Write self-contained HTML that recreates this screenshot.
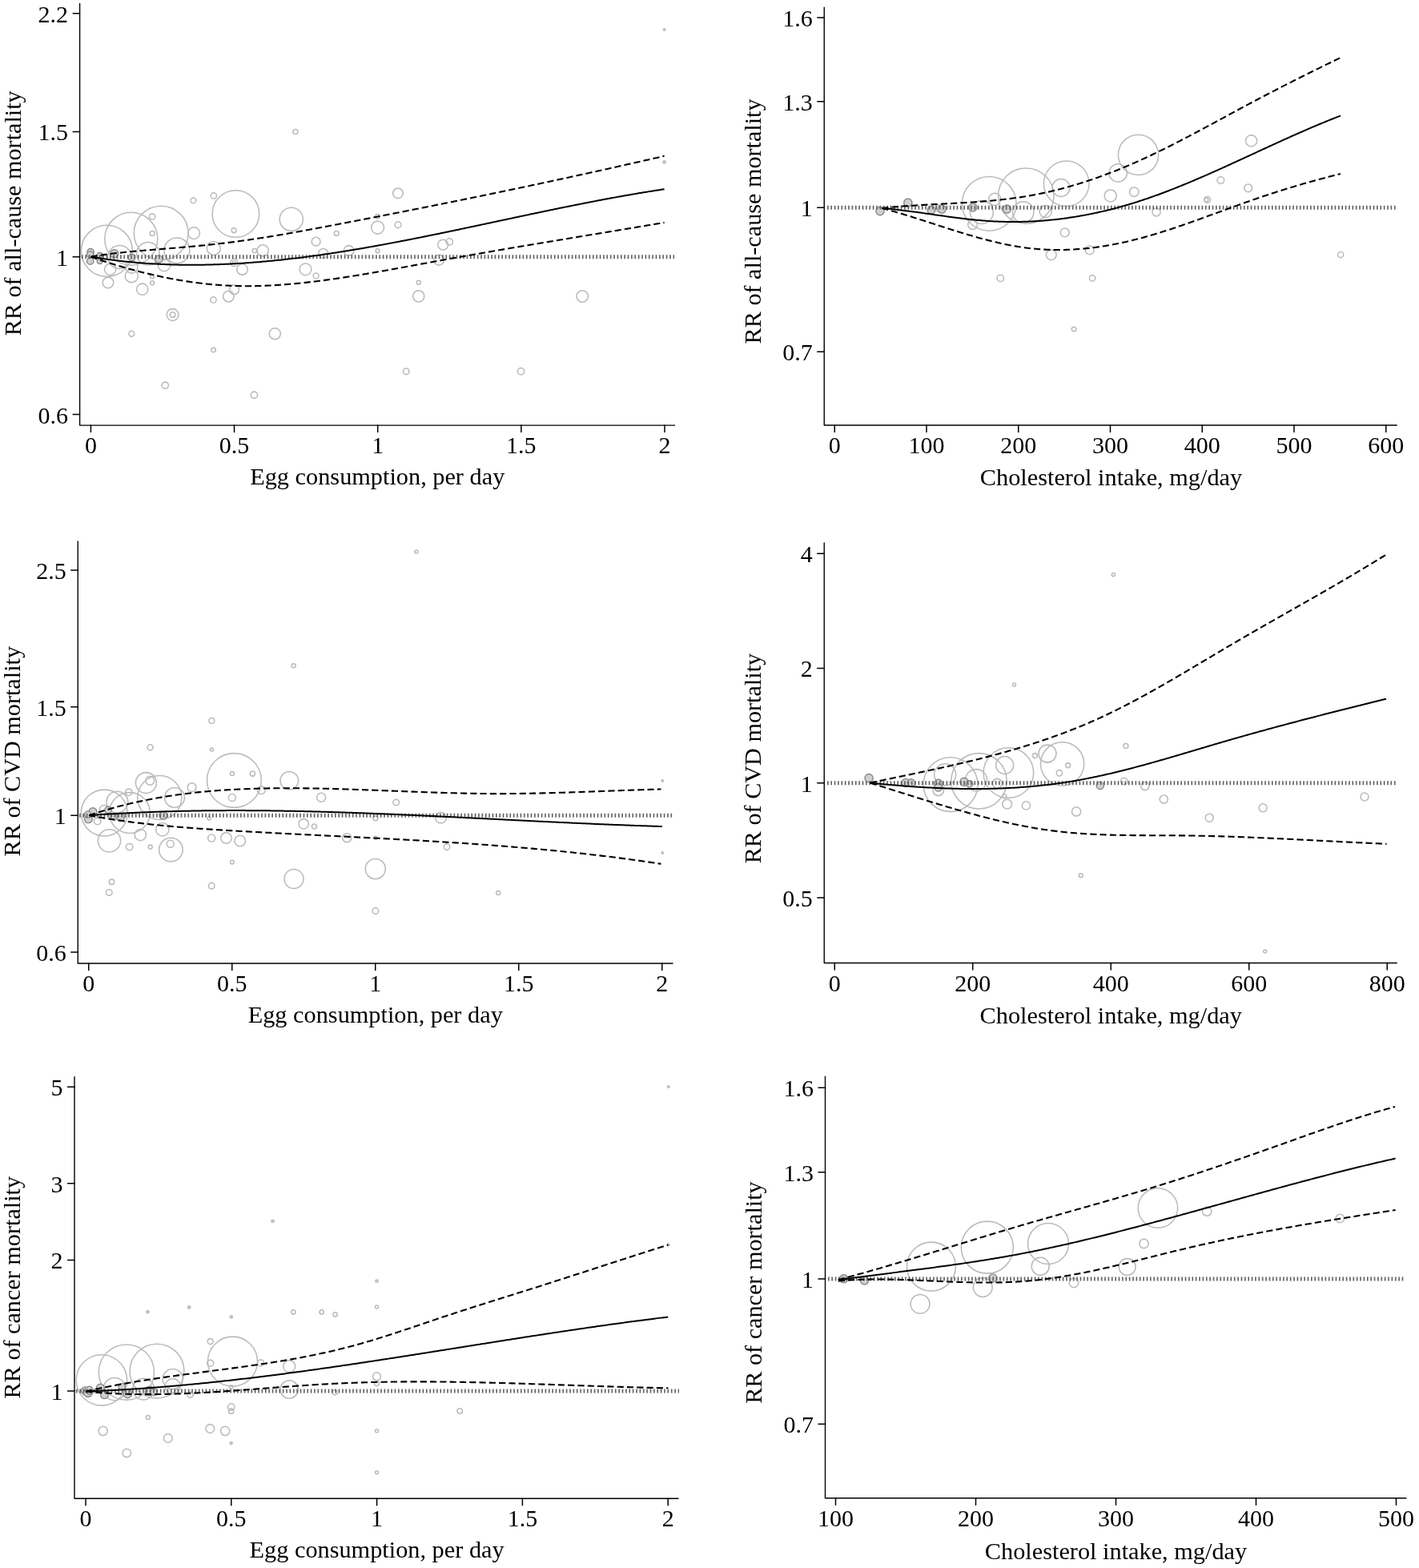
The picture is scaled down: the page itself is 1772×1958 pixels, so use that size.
<!DOCTYPE html><html><head><meta charset="utf-8"><style>html,body{margin:0;padding:0;background:#fff;overflow:hidden;}svg{display:block;}</style></head><body>
<svg width="1772" height="1958" viewBox="0 0 1772 1958">
<rect width="1772" height="1958" fill="#fff"/>
<g font-family="'Liberation Serif','Times New Roman',serif" font-size="30" fill="#000">
<g><circle cx="133.4" cy="313.3" r="32.0" fill="none" stroke="#bbbbbb" stroke-width="1.55"/><circle cx="163.8" cy="298.2" r="33.0" fill="none" stroke="#bbbbbb" stroke-width="1.55"/><circle cx="201.2" cy="291.1" r="33.9" fill="none" stroke="#bbbbbb" stroke-width="1.55"/><circle cx="294.4" cy="267.0" r="29.3" fill="none" stroke="#bbbbbb" stroke-width="1.55"/><circle cx="363.8" cy="273.8" r="14.6" fill="none" stroke="#bbbbbb" stroke-width="1.55"/><circle cx="242.2" cy="291.1" r="7.3" fill="none" stroke="#bbbbbb" stroke-width="1.55"/><circle cx="266.8" cy="244.4" r="3.7" fill="none" stroke="#bbbbbb" stroke-width="1.55"/><circle cx="241.4" cy="250.4" r="3.4" fill="none" stroke="#bbbbbb" stroke-width="1.55"/><circle cx="190.1" cy="270.4" r="3.7" fill="none" stroke="#bbbbbb" stroke-width="1.55"/><circle cx="190.1" cy="291.4" r="3.0" fill="none" stroke="#bbbbbb" stroke-width="1.55"/><circle cx="292.1" cy="287.7" r="2.9" fill="none" stroke="#bbbbbb" stroke-width="1.55"/><circle cx="220.9" cy="312.9" r="15.9" fill="none" stroke="#bbbbbb" stroke-width="1.55"/><circle cx="184.8" cy="316.8" r="14.2" fill="none" stroke="#bbbbbb" stroke-width="1.55"/><circle cx="149.3" cy="321.0" r="14.6" fill="none" stroke="#bbbbbb" stroke-width="1.55"/><circle cx="266.8" cy="309.9" r="8.5" fill="none" stroke="#bbbbbb" stroke-width="1.55"/><circle cx="328.2" cy="312.9" r="7.1" fill="none" stroke="#bbbbbb" stroke-width="1.55"/><circle cx="317.9" cy="313.1" r="2.7" fill="none" stroke="#bbbbbb" stroke-width="1.55"/><circle cx="394.6" cy="301.7" r="5.4" fill="none" stroke="#bbbbbb" stroke-width="1.55"/><circle cx="302.6" cy="336.3" r="6.8" fill="none" stroke="#bbbbbb" stroke-width="1.55"/><circle cx="381.5" cy="336.3" r="7.4" fill="none" stroke="#bbbbbb" stroke-width="1.55"/><circle cx="394.6" cy="344.4" r="3.4" fill="none" stroke="#bbbbbb" stroke-width="1.55"/><circle cx="292.3" cy="327.8" r="4.7" fill="none" stroke="#bbbbbb" stroke-width="1.55"/><circle cx="292.3" cy="327.8" r="2.2" fill="none" stroke="#bbbbbb" stroke-width="1.55"/><circle cx="135.0" cy="352.9" r="6.8" fill="none" stroke="#bbbbbb" stroke-width="1.55"/><circle cx="164.3" cy="344.7" r="8.0" fill="none" stroke="#bbbbbb" stroke-width="1.55"/><circle cx="137.6" cy="336.3" r="7.1" fill="none" stroke="#bbbbbb" stroke-width="1.55"/><circle cx="177.7" cy="361.2" r="7.1" fill="none" stroke="#bbbbbb" stroke-width="1.55"/><circle cx="190.1" cy="353.2" r="2.4" fill="none" stroke="#bbbbbb" stroke-width="1.55"/><circle cx="190.1" cy="345.3" r="2.4" fill="none" stroke="#bbbbbb" stroke-width="1.55"/><circle cx="285.4" cy="370.1" r="6.8" fill="none" stroke="#bbbbbb" stroke-width="1.55"/><circle cx="292.5" cy="361.7" r="5.9" fill="none" stroke="#bbbbbb" stroke-width="1.55"/><circle cx="266.4" cy="374.4" r="3.7" fill="none" stroke="#bbbbbb" stroke-width="1.55"/><circle cx="215.6" cy="393.0" r="7.4" fill="none" stroke="#bbbbbb" stroke-width="1.55"/><circle cx="215.6" cy="393.0" r="3.2" fill="none" stroke="#bbbbbb" stroke-width="1.55"/><circle cx="205.0" cy="331.2" r="7.6" fill="none" stroke="#bbbbbb" stroke-width="1.55"/><circle cx="164.3" cy="333.7" r="7.6" fill="none" stroke="#bbbbbb" stroke-width="1.55"/><circle cx="164.3" cy="416.7" r="3.4" fill="none" stroke="#bbbbbb" stroke-width="1.55"/><circle cx="343.3" cy="416.7" r="7.0" fill="none" stroke="#bbbbbb" stroke-width="1.55"/><circle cx="266.6" cy="437.0" r="2.7" fill="none" stroke="#bbbbbb" stroke-width="1.55"/><circle cx="206.3" cy="481.2" r="4.1" fill="none" stroke="#bbbbbb" stroke-width="1.55"/><circle cx="317.4" cy="493.2" r="4.1" fill="none" stroke="#bbbbbb" stroke-width="1.55"/><circle cx="369.0" cy="164.5" r="3.0" fill="none" stroke="#bbbbbb" stroke-width="1.55"/><circle cx="497.0" cy="241.3" r="6.3" fill="none" stroke="#bbbbbb" stroke-width="1.55"/><circle cx="471.6" cy="284.1" r="8.0" fill="none" stroke="#bbbbbb" stroke-width="1.55"/><circle cx="497.0" cy="280.7" r="3.9" fill="none" stroke="#bbbbbb" stroke-width="1.55"/><circle cx="420.3" cy="291.4" r="2.9" fill="none" stroke="#bbbbbb" stroke-width="1.55"/><circle cx="471.4" cy="270.2" r="2.7" fill="none" stroke="#bbbbbb" stroke-width="1.55"/><circle cx="435.6" cy="312.9" r="6.3" fill="none" stroke="#bbbbbb" stroke-width="1.55"/><circle cx="403.7" cy="316.3" r="5.9" fill="none" stroke="#bbbbbb" stroke-width="1.55"/><circle cx="471.6" cy="313.2" r="2.4" fill="none" stroke="#bbbbbb" stroke-width="1.55"/><circle cx="553.2" cy="305.6" r="6.4" fill="none" stroke="#bbbbbb" stroke-width="1.55"/><circle cx="561.3" cy="301.9" r="4.2" fill="none" stroke="#bbbbbb" stroke-width="1.55"/><circle cx="548.1" cy="324.7" r="6.4" fill="none" stroke="#bbbbbb" stroke-width="1.55"/><circle cx="522.7" cy="352.7" r="2.5" fill="none" stroke="#bbbbbb" stroke-width="1.55"/><circle cx="522.7" cy="369.9" r="7.1" fill="none" stroke="#bbbbbb" stroke-width="1.55"/><circle cx="507.2" cy="463.8" r="3.8" fill="none" stroke="#bbbbbb" stroke-width="1.55"/><circle cx="650.5" cy="463.8" r="4.2" fill="none" stroke="#bbbbbb" stroke-width="1.55"/><circle cx="727.2" cy="370.0" r="7.2" fill="none" stroke="#bbbbbb" stroke-width="1.55"/><circle cx="829.6" cy="202.5" r="1.8" fill="#c4c4c4" stroke="#bdbdbd" stroke-width="1.2"/><circle cx="829.6" cy="37.0" r="1.5" fill="#c4c4c4" stroke="#bdbdbd" stroke-width="1.2"/><circle cx="113.1" cy="314.7" r="4.2" fill="#d0d0d0" stroke="#888888" stroke-width="1.4"/><circle cx="112.7" cy="318.1" r="4.2" fill="#d0d0d0" stroke="#888888" stroke-width="1.4"/><circle cx="112.7" cy="326.1" r="4.2" fill="#d0d0d0" stroke="#888888" stroke-width="1.4"/><circle cx="124.6" cy="318.9" r="3.4" fill="#d0d0d0" stroke="#888888" stroke-width="1.4"/><circle cx="124.6" cy="326.1" r="3.4" fill="#d0d0d0" stroke="#888888" stroke-width="1.4"/><circle cx="142.8" cy="316.8" r="5.0" fill="#d0d0d0" stroke="#888888" stroke-width="1.4"/><circle cx="164.4" cy="321.5" r="4.2" fill="#d0d0d0" stroke="#888888" stroke-width="1.4"/><circle cx="198.2" cy="323.6" r="4.7" fill="#d0d0d0" stroke="#888888" stroke-width="1.4"/><line x1="102.0" y1="320.70" x2="842.0" y2="320.70" stroke="#5e5e5e" stroke-width="4.9" stroke-dasharray="1.6 2.77"/><path d="M113.4,320.66 L115.4,321.35 L117.4,322.03 L119.4,322.71 L121.4,323.39 L123.4,324.06 L125.4,324.72 L127.4,325.38 L129.4,326.03 L131.4,326.67 L133.4,327.31 L135.4,327.95 L137.4,328.58 L139.4,329.20 L141.4,329.82 L143.4,330.43 L145.4,331.04 L147.4,331.64 L149.4,332.23 L151.4,332.82 L153.4,333.41 L155.4,333.98 L157.4,334.55 L159.4,335.12 L161.4,335.68 L163.4,336.23 L165.4,336.77 L167.4,337.31 L169.4,337.85 L171.4,338.38 L173.4,338.90 L175.4,339.41 L177.4,339.92 L179.4,340.42 L181.4,340.91 L183.4,341.40 L185.4,341.88 L187.4,342.36 L189.4,342.83 L191.4,343.29 L193.4,343.74 L195.4,344.19 L197.4,344.63 L199.4,345.07 L201.4,345.49 L203.4,345.91 L205.4,346.33 L207.4,346.73 L209.4,347.13 L211.4,347.53 L213.4,347.91 L215.4,348.29 L217.4,348.66 L219.4,349.02 L221.4,349.38 L223.4,349.72 L225.4,350.07 L227.4,350.40 L229.4,350.73 L231.4,351.04 L233.4,351.35 L235.4,351.66 L237.4,351.95 L239.4,352.24 L241.4,352.52 L243.4,352.79 L245.4,353.06 L247.4,353.31 L249.4,353.56 L251.4,353.80 L253.4,354.04 L255.4,354.26 L257.4,354.48 L259.4,354.69 L261.4,354.89 L263.4,355.08 L265.4,355.26 L267.4,355.44 L269.4,355.61 L271.4,355.77 L273.4,355.92 L275.4,356.06 L277.4,356.19 L279.4,356.32 L281.4,356.44 L283.4,356.54 L285.4,356.64 L287.4,356.73 L289.4,356.82 L291.4,356.89 L293.4,356.96 L295.4,357.01 L297.4,357.06 L299.4,357.10 L301.4,357.14 L303.4,357.16 L305.4,357.18 L307.4,357.19 L309.4,357.19 L311.4,357.18 L313.4,357.17 L315.4,357.15 L317.4,357.12 L319.4,357.09 L321.4,357.04 L323.4,356.99 L325.4,356.94 L327.4,356.87 L329.4,356.80 L331.4,356.73 L333.4,356.64 L335.4,356.55 L337.4,356.45 L339.4,356.35 L341.4,356.24 L343.4,356.12 L345.4,356.00 L347.4,355.87 L349.4,355.74 L351.4,355.60 L353.4,355.45 L355.4,355.30 L357.4,355.14 L359.4,354.98 L361.4,354.81 L363.4,354.64 L365.4,354.46 L367.4,354.28 L369.4,354.09 L371.4,353.89 L373.4,353.69 L375.4,353.49 L377.4,353.28 L379.4,353.06 L381.4,352.85 L383.4,352.62 L385.4,352.40 L387.4,352.16 L389.4,351.93 L391.4,351.69 L393.4,351.44 L395.4,351.19 L397.4,350.94 L399.4,350.69 L401.4,350.43 L403.4,350.16 L405.4,349.89 L407.4,349.62 L409.4,349.35 L411.4,349.07 L413.4,348.79 L415.4,348.51 L417.4,348.22 L419.4,347.93 L421.4,347.64 L423.4,347.34 L425.4,347.04 L427.4,346.74 L429.4,346.44 L431.4,346.13 L433.4,345.82 L435.4,345.51 L437.4,345.20 L439.4,344.88 L441.4,344.56 L443.4,344.24 L445.4,343.92 L447.4,343.59 L449.4,343.26 L451.4,342.93 L453.4,342.60 L455.4,342.27 L457.4,341.93 L459.4,341.59 L461.4,341.25 L463.4,340.91 L465.4,340.57 L467.4,340.23 L469.4,339.88 L471.4,339.53 L473.4,339.18 L475.4,338.83 L477.4,338.48 L479.4,338.13 L481.4,337.77 L483.4,337.42 L485.4,337.06 L487.4,336.70 L489.4,336.34 L491.4,335.98 L493.4,335.62 L495.4,335.26 L497.4,334.90 L499.4,334.53 L501.4,334.17 L503.4,333.81 L505.4,333.44 L507.4,333.07 L509.4,332.71 L511.4,332.34 L513.4,331.97 L515.4,331.61 L517.4,331.24 L519.4,330.87 L521.4,330.50 L523.4,330.13 L525.4,329.77 L527.4,329.40 L529.4,329.03 L531.4,328.66 L533.4,328.29 L535.4,327.92 L537.4,327.56 L539.4,327.19 L541.4,326.82 L543.4,326.46 L545.4,326.09 L547.4,325.72 L549.4,325.36 L551.4,325.00 L553.4,324.63 L555.4,324.27 L557.4,323.91 L559.4,323.55 L561.4,323.18 L563.4,322.82 L565.4,322.47 L567.4,322.11 L569.4,321.75 L571.4,321.39 L573.4,321.03 L575.4,320.68 L577.4,320.32 L579.4,319.97 L581.4,319.61 L583.4,319.26 L585.4,318.91 L587.4,318.55 L589.4,318.20 L591.4,317.85 L593.4,317.50 L595.4,317.15 L597.4,316.80 L599.4,316.45 L601.4,316.10 L603.4,315.76 L605.4,315.41 L607.4,315.06 L609.4,314.71 L611.4,314.37 L613.4,314.02 L615.4,313.68 L617.4,313.33 L619.4,312.99 L621.4,312.65 L623.4,312.30 L625.4,311.96 L627.4,311.62 L629.4,311.28 L631.4,310.94 L633.4,310.59 L635.4,310.25 L637.4,309.91 L639.4,309.57 L641.4,309.23 L643.4,308.90 L645.4,308.56 L647.4,308.22 L649.4,307.88 L651.4,307.54 L653.4,307.21 L655.4,306.87 L657.4,306.53 L659.4,306.20 L661.4,305.86 L663.4,305.52 L665.4,305.19 L667.4,304.85 L669.4,304.52 L671.4,304.18 L673.4,303.85 L675.4,303.52 L677.4,303.18 L679.4,302.85 L681.4,302.51 L683.4,302.18 L685.4,301.85 L687.4,301.52 L689.4,301.18 L691.4,300.85 L693.4,300.52 L695.4,300.19 L697.4,299.85 L699.4,299.52 L701.4,299.19 L703.4,298.86 L705.4,298.53 L707.4,298.20 L709.4,297.87 L711.4,297.54 L713.4,297.20 L715.4,296.87 L717.4,296.54 L719.4,296.21 L721.4,295.88 L723.4,295.55 L725.4,295.22 L727.4,294.89 L729.4,294.56 L731.4,294.23 L733.4,293.90 L735.4,293.57 L737.4,293.24 L739.4,292.91 L741.4,292.58 L743.4,292.25 L745.4,291.92 L747.4,291.59 L749.4,291.26 L751.4,290.93 L753.4,290.60 L755.4,290.27 L757.4,289.94 L759.4,289.61 L761.4,289.28 L763.4,288.95 L765.4,288.62 L767.4,288.28 L769.4,287.95 L771.4,287.62 L773.4,287.29 L775.4,286.96 L777.4,286.63 L779.4,286.30 L781.4,285.96 L783.4,285.63 L785.4,285.30 L787.4,284.97 L789.4,284.64 L791.4,284.30 L793.4,283.97 L795.4,283.64 L797.4,283.30 L799.4,282.97 L801.4,282.64 L803.4,282.30 L805.4,281.97 L807.4,281.63 L809.4,281.30 L811.4,280.96 L813.4,280.63 L815.4,280.29 L817.4,279.96 L819.4,279.62 L821.4,279.28 L823.4,278.95 L825.4,278.61 L827.4,278.27 L829.4,277.93 L829.6,277.90" fill="none" stroke="#000" stroke-width="2.1" stroke-dasharray="8.2 4.1"/><path d="M113.4,320.67 L115.4,320.32 L117.4,319.99 L119.4,319.66 L121.4,319.34 L123.4,319.03 L125.4,318.73 L127.4,318.44 L129.4,318.15 L131.4,317.87 L133.4,317.60 L135.4,317.33 L137.4,317.07 L139.4,316.82 L141.4,316.57 L143.4,316.33 L145.4,316.10 L147.4,315.87 L149.4,315.65 L151.4,315.43 L153.4,315.21 L155.4,315.00 L157.4,314.80 L159.4,314.60 L161.4,314.40 L163.4,314.21 L165.4,314.02 L167.4,313.84 L169.4,313.66 L171.4,313.48 L173.4,313.30 L175.4,313.13 L177.4,312.95 L179.4,312.78 L181.4,312.62 L183.4,312.45 L185.4,312.29 L187.4,312.12 L189.4,311.96 L191.4,311.80 L193.4,311.64 L195.4,311.48 L197.4,311.32 L199.4,311.16 L201.4,311.00 L203.4,310.83 L205.4,310.67 L207.4,310.51 L209.4,310.35 L211.4,310.18 L213.4,310.02 L215.4,309.85 L217.4,309.69 L219.4,309.52 L221.4,309.35 L223.4,309.18 L225.4,309.01 L227.4,308.84 L229.4,308.66 L231.4,308.49 L233.4,308.31 L235.4,308.13 L237.4,307.95 L239.4,307.77 L241.4,307.58 L243.4,307.40 L245.4,307.21 L247.4,307.02 L249.4,306.83 L251.4,306.63 L253.4,306.43 L255.4,306.23 L257.4,306.03 L259.4,305.83 L261.4,305.62 L263.4,305.41 L265.4,305.20 L267.4,304.98 L269.4,304.76 L271.4,304.54 L273.4,304.31 L275.4,304.08 L277.4,303.85 L279.4,303.62 L281.4,303.38 L283.4,303.14 L285.4,302.89 L287.4,302.64 L289.4,302.39 L291.4,302.13 L293.4,301.87 L295.4,301.61 L297.4,301.34 L299.4,301.07 L301.4,300.79 L303.4,300.52 L305.4,300.24 L307.4,299.95 L309.4,299.67 L311.4,299.38 L313.4,299.08 L315.4,298.79 L317.4,298.49 L319.4,298.19 L321.4,297.88 L323.4,297.57 L325.4,297.26 L327.4,296.95 L329.4,296.64 L331.4,296.32 L333.4,296.00 L335.4,295.68 L337.4,295.35 L339.4,295.02 L341.4,294.69 L343.4,294.36 L345.4,294.03 L347.4,293.69 L349.4,293.35 L351.4,293.01 L353.4,292.67 L355.4,292.32 L357.4,291.97 L359.4,291.63 L361.4,291.28 L363.4,290.92 L365.4,290.57 L367.4,290.21 L369.4,289.86 L371.4,289.50 L373.4,289.14 L375.4,288.78 L377.4,288.41 L379.4,288.05 L381.4,287.68 L383.4,287.31 L385.4,286.95 L387.4,286.58 L389.4,286.21 L391.4,285.83 L393.4,285.46 L395.4,285.09 L397.4,284.71 L399.4,284.34 L401.4,283.96 L403.4,283.58 L405.4,283.21 L407.4,282.83 L409.4,282.45 L411.4,282.07 L413.4,281.69 L415.4,281.31 L417.4,280.93 L419.4,280.55 L421.4,280.16 L423.4,279.78 L425.4,279.40 L427.4,279.02 L429.4,278.63 L431.4,278.25 L433.4,277.87 L435.4,277.48 L437.4,277.10 L439.4,276.71 L441.4,276.33 L443.4,275.95 L445.4,275.56 L447.4,275.17 L449.4,274.79 L451.4,274.40 L453.4,274.02 L455.4,273.63 L457.4,273.24 L459.4,272.85 L461.4,272.47 L463.4,272.08 L465.4,271.69 L467.4,271.30 L469.4,270.91 L471.4,270.52 L473.4,270.13 L475.4,269.74 L477.4,269.35 L479.4,268.96 L481.4,268.57 L483.4,268.18 L485.4,267.79 L487.4,267.40 L489.4,267.01 L491.4,266.62 L493.4,266.22 L495.4,265.83 L497.4,265.44 L499.4,265.04 L501.4,264.65 L503.4,264.25 L505.4,263.86 L507.4,263.46 L509.4,263.07 L511.4,262.67 L513.4,262.28 L515.4,261.88 L517.4,261.48 L519.4,261.09 L521.4,260.69 L523.4,260.29 L525.4,259.90 L527.4,259.50 L529.4,259.10 L531.4,258.70 L533.4,258.30 L535.4,257.90 L537.4,257.50 L539.4,257.10 L541.4,256.70 L543.4,256.30 L545.4,255.90 L547.4,255.50 L549.4,255.09 L551.4,254.69 L553.4,254.29 L555.4,253.88 L557.4,253.48 L559.4,253.08 L561.4,252.67 L563.4,252.27 L565.4,251.86 L567.4,251.46 L569.4,251.05 L571.4,250.65 L573.4,250.24 L575.4,249.83 L577.4,249.43 L579.4,249.02 L581.4,248.61 L583.4,248.20 L585.4,247.79 L587.4,247.39 L589.4,246.98 L591.4,246.57 L593.4,246.16 L595.4,245.75 L597.4,245.33 L599.4,244.92 L601.4,244.51 L603.4,244.10 L605.4,243.69 L607.4,243.27 L609.4,242.86 L611.4,242.45 L613.4,242.03 L615.4,241.62 L617.4,241.21 L619.4,240.79 L621.4,240.38 L623.4,239.96 L625.4,239.54 L627.4,239.13 L629.4,238.71 L631.4,238.29 L633.4,237.87 L635.4,237.46 L637.4,237.04 L639.4,236.62 L641.4,236.20 L643.4,235.78 L645.4,235.36 L647.4,234.94 L649.4,234.52 L651.4,234.10 L653.4,233.67 L655.4,233.25 L657.4,232.83 L659.4,232.41 L661.4,231.98 L663.4,231.56 L665.4,231.14 L667.4,230.71 L669.4,230.29 L671.4,229.86 L673.4,229.43 L675.4,229.01 L677.4,228.58 L679.4,228.15 L681.4,227.73 L683.4,227.30 L685.4,226.87 L687.4,226.44 L689.4,226.01 L691.4,225.58 L693.4,225.15 L695.4,224.72 L697.4,224.29 L699.4,223.86 L701.4,223.43 L703.4,222.99 L705.4,222.56 L707.4,222.13 L709.4,221.69 L711.4,221.26 L713.4,220.83 L715.4,220.39 L717.4,219.96 L719.4,219.52 L721.4,219.08 L723.4,218.65 L725.4,218.21 L727.4,217.77 L729.4,217.33 L731.4,216.90 L733.4,216.46 L735.4,216.02 L737.4,215.58 L739.4,215.14 L741.4,214.70 L743.4,214.26 L745.4,213.81 L747.4,213.37 L749.4,212.93 L751.4,212.49 L753.4,212.04 L755.4,211.60 L757.4,211.16 L759.4,210.71 L761.4,210.26 L763.4,209.82 L765.4,209.37 L767.4,208.93 L769.4,208.48 L771.4,208.03 L773.4,207.58 L775.4,207.13 L777.4,206.69 L779.4,206.24 L781.4,205.79 L783.4,205.34 L785.4,204.88 L787.4,204.43 L789.4,203.98 L791.4,203.53 L793.4,203.08 L795.4,202.62 L797.4,202.17 L799.4,201.71 L801.4,201.26 L803.4,200.80 L805.4,200.35 L807.4,199.89 L809.4,199.44 L811.4,198.98 L813.4,198.52 L815.4,198.06 L817.4,197.60 L819.4,197.15 L821.4,196.69 L823.4,196.23 L825.4,195.76 L827.4,195.30 L829.4,194.84 L829.6,194.80" fill="none" stroke="#000" stroke-width="2.1" stroke-dasharray="8.2 4.1"/><path d="M113.4,320.71 L115.4,321.05 L117.4,321.37 L119.4,321.69 L121.4,322.00 L123.4,322.31 L125.4,322.61 L127.4,322.91 L129.4,323.20 L131.4,323.48 L133.4,323.76 L135.4,324.03 L137.4,324.30 L139.4,324.56 L141.4,324.82 L143.4,325.07 L145.4,325.31 L147.4,325.55 L149.4,325.78 L151.4,326.01 L153.4,326.23 L155.4,326.44 L157.4,326.65 L159.4,326.86 L161.4,327.06 L163.4,327.25 L165.4,327.44 L167.4,327.62 L169.4,327.80 L171.4,327.97 L173.4,328.14 L175.4,328.30 L177.4,328.45 L179.4,328.60 L181.4,328.75 L183.4,328.89 L185.4,329.02 L187.4,329.15 L189.4,329.28 L191.4,329.40 L193.4,329.51 L195.4,329.62 L197.4,329.72 L199.4,329.82 L201.4,329.92 L203.4,330.01 L205.4,330.09 L207.4,330.17 L209.4,330.24 L211.4,330.31 L213.4,330.38 L215.4,330.44 L217.4,330.49 L219.4,330.54 L221.4,330.59 L223.4,330.63 L225.4,330.66 L227.4,330.69 L229.4,330.72 L231.4,330.74 L233.4,330.76 L235.4,330.77 L237.4,330.78 L239.4,330.78 L241.4,330.78 L243.4,330.78 L245.4,330.77 L247.4,330.75 L249.4,330.73 L251.4,330.71 L253.4,330.68 L255.4,330.65 L257.4,330.61 L259.4,330.57 L261.4,330.53 L263.4,330.48 L265.4,330.42 L267.4,330.36 L269.4,330.30 L271.4,330.24 L273.4,330.17 L275.4,330.09 L277.4,330.01 L279.4,329.93 L281.4,329.84 L283.4,329.75 L285.4,329.66 L287.4,329.56 L289.4,329.46 L291.4,329.35 L293.4,329.24 L295.4,329.12 L297.4,329.01 L299.4,328.88 L301.4,328.76 L303.4,328.63 L305.4,328.50 L307.4,328.36 L309.4,328.22 L311.4,328.07 L313.4,327.92 L315.4,327.77 L317.4,327.62 L319.4,327.46 L321.4,327.30 L323.4,327.13 L325.4,326.96 L327.4,326.79 L329.4,326.61 L331.4,326.43 L333.4,326.25 L335.4,326.06 L337.4,325.87 L339.4,325.68 L341.4,325.48 L343.4,325.28 L345.4,325.07 L347.4,324.87 L349.4,324.66 L351.4,324.44 L353.4,324.23 L355.4,324.01 L357.4,323.79 L359.4,323.56 L361.4,323.33 L363.4,323.10 L365.4,322.86 L367.4,322.63 L369.4,322.39 L371.4,322.14 L373.4,321.89 L375.4,321.65 L377.4,321.39 L379.4,321.14 L381.4,320.88 L383.4,320.62 L385.4,320.35 L387.4,320.09 L389.4,319.82 L391.4,319.55 L393.4,319.27 L395.4,318.99 L397.4,318.71 L399.4,318.43 L401.4,318.14 L403.4,317.86 L405.4,317.57 L407.4,317.27 L409.4,316.98 L411.4,316.68 L413.4,316.38 L415.4,316.08 L417.4,315.77 L419.4,315.46 L421.4,315.15 L423.4,314.84 L425.4,314.53 L427.4,314.21 L429.4,313.89 L431.4,313.57 L433.4,313.25 L435.4,312.92 L437.4,312.59 L439.4,312.26 L441.4,311.93 L443.4,311.60 L445.4,311.26 L447.4,310.92 L449.4,310.58 L451.4,310.24 L453.4,309.89 L455.4,309.55 L457.4,309.20 L459.4,308.85 L461.4,308.50 L463.4,308.14 L465.4,307.79 L467.4,307.43 L469.4,307.07 L471.4,306.71 L473.4,306.34 L475.4,305.98 L477.4,305.61 L479.4,305.25 L481.4,304.88 L483.4,304.50 L485.4,304.13 L487.4,303.76 L489.4,303.38 L491.4,303.00 L493.4,302.62 L495.4,302.24 L497.4,301.86 L499.4,301.48 L501.4,301.09 L503.4,300.71 L505.4,300.32 L507.4,299.93 L509.4,299.54 L511.4,299.15 L513.4,298.75 L515.4,298.36 L517.4,297.96 L519.4,297.57 L521.4,297.17 L523.4,296.77 L525.4,296.37 L527.4,295.97 L529.4,295.57 L531.4,295.16 L533.4,294.76 L535.4,294.35 L537.4,293.95 L539.4,293.54 L541.4,293.13 L543.4,292.72 L545.4,292.31 L547.4,291.90 L549.4,291.49 L551.4,291.08 L553.4,290.66 L555.4,290.25 L557.4,289.83 L559.4,289.42 L561.4,289.00 L563.4,288.58 L565.4,288.16 L567.4,287.75 L569.4,287.33 L571.4,286.91 L573.4,286.49 L575.4,286.07 L577.4,285.64 L579.4,285.22 L581.4,284.80 L583.4,284.38 L585.4,283.95 L587.4,283.53 L589.4,283.10 L591.4,282.68 L593.4,282.25 L595.4,281.83 L597.4,281.40 L599.4,280.98 L601.4,280.55 L603.4,280.13 L605.4,279.70 L607.4,279.27 L609.4,278.85 L611.4,278.42 L613.4,277.99 L615.4,277.56 L617.4,277.14 L619.4,276.71 L621.4,276.28 L623.4,275.85 L625.4,275.43 L627.4,275.00 L629.4,274.57 L631.4,274.15 L633.4,273.72 L635.4,273.29 L637.4,272.87 L639.4,272.44 L641.4,272.01 L643.4,271.59 L645.4,271.16 L647.4,270.74 L649.4,270.31 L651.4,269.89 L653.4,269.46 L655.4,269.04 L657.4,268.61 L659.4,268.19 L661.4,267.77 L663.4,267.35 L665.4,266.92 L667.4,266.50 L669.4,266.08 L671.4,265.66 L673.4,265.24 L675.4,264.82 L677.4,264.40 L679.4,263.99 L681.4,263.57 L683.4,263.15 L685.4,262.74 L687.4,262.32 L689.4,261.91 L691.4,261.50 L693.4,261.08 L695.4,260.67 L697.4,260.26 L699.4,259.85 L701.4,259.44 L703.4,259.04 L705.4,258.63 L707.4,258.22 L709.4,257.82 L711.4,257.41 L713.4,257.01 L715.4,256.61 L717.4,256.21 L719.4,255.81 L721.4,255.41 L723.4,255.01 L725.4,254.62 L727.4,254.22 L729.4,253.83 L731.4,253.44 L733.4,253.05 L735.4,252.66 L737.4,252.27 L739.4,251.88 L741.4,251.50 L743.4,251.11 L745.4,250.73 L747.4,250.35 L749.4,249.97 L751.4,249.59 L753.4,249.21 L755.4,248.84 L757.4,248.46 L759.4,248.09 L761.4,247.72 L763.4,247.35 L765.4,246.98 L767.4,246.62 L769.4,246.26 L771.4,245.89 L773.4,245.53 L775.4,245.17 L777.4,244.82 L779.4,244.46 L781.4,244.11 L783.4,243.76 L785.4,243.41 L787.4,243.06 L789.4,242.72 L791.4,242.37 L793.4,242.03 L795.4,241.69 L797.4,241.36 L799.4,241.02 L801.4,240.69 L803.4,240.36 L805.4,240.03 L807.4,239.70 L809.4,239.38 L811.4,239.05 L813.4,238.73 L815.4,238.42 L817.4,238.10 L819.4,237.79 L821.4,237.48 L823.4,237.17 L825.4,236.86 L827.4,236.56 L829.4,236.26 L829.6,236.23" fill="none" stroke="#000" stroke-width="2.0"/><path d="M99.60,4.00 V531.10 H843.00" fill="none" stroke="#000" stroke-width="1.4" stroke-linejoin="round"/><line x1="91.10" y1="517.57" x2="99.60" y2="517.57" stroke="#000" stroke-width="1.5" stroke-linecap="round"/><text x="85.10" y="528.57" text-anchor="end">0.6</text><line x1="91.10" y1="320.70" x2="99.60" y2="320.70" stroke="#000" stroke-width="1.5" stroke-linecap="round"/><text x="85.10" y="331.70" text-anchor="end">1</text><line x1="91.10" y1="164.43" x2="99.60" y2="164.43" stroke="#000" stroke-width="1.5" stroke-linecap="round"/><text x="85.10" y="175.43" text-anchor="end">1.5</text><line x1="91.10" y1="16.83" x2="99.60" y2="16.83" stroke="#000" stroke-width="1.5" stroke-linecap="round"/><text x="85.10" y="27.83" text-anchor="end">2.2</text><line x1="113.40" y1="531.10" x2="113.40" y2="539.60" stroke="#000" stroke-width="1.5" stroke-linecap="round"/><text x="113.40" y="566.10" text-anchor="middle">0</text><line x1="292.55" y1="531.10" x2="292.55" y2="539.60" stroke="#000" stroke-width="1.5" stroke-linecap="round"/><text x="292.55" y="566.10" text-anchor="middle">0.5</text><line x1="471.70" y1="531.10" x2="471.70" y2="539.60" stroke="#000" stroke-width="1.5" stroke-linecap="round"/><text x="471.70" y="566.10" text-anchor="middle">1</text><line x1="650.85" y1="531.10" x2="650.85" y2="539.60" stroke="#000" stroke-width="1.5" stroke-linecap="round"/><text x="650.85" y="566.10" text-anchor="middle">1.5</text><line x1="830.00" y1="531.10" x2="830.00" y2="539.60" stroke="#000" stroke-width="1.5" stroke-linecap="round"/><text x="830.00" y="566.10" text-anchor="middle">2</text><text x="471.25" y="605.00" text-anchor="middle" font-size="30.3">Egg consumption, per day</text><text transform="translate(26.00,266.30) rotate(-90)" text-anchor="middle" font-size="30.2">RR of all-cause mortality</text></g>
<g><circle cx="1235.2" cy="254.3" r="33.9" fill="none" stroke="#bbbbbb" stroke-width="1.55"/><circle cx="1281.3" cy="244.6" r="34.7" fill="none" stroke="#bbbbbb" stroke-width="1.55"/><circle cx="1331.7" cy="229.2" r="28.3" fill="none" stroke="#bbbbbb" stroke-width="1.55"/><circle cx="1325.0" cy="234.5" r="11.0" fill="none" stroke="#bbbbbb" stroke-width="1.55"/><circle cx="1242.2" cy="248.9" r="7.6" fill="none" stroke="#bbbbbb" stroke-width="1.55"/><circle cx="1225.9" cy="265.0" r="14.4" fill="none" stroke="#bbbbbb" stroke-width="1.55"/><circle cx="1214.6" cy="280.5" r="5.9" fill="none" stroke="#bbbbbb" stroke-width="1.55"/><circle cx="1277.7" cy="265.0" r="13.2" fill="none" stroke="#bbbbbb" stroke-width="1.55"/><circle cx="1305.7" cy="264.1" r="7.6" fill="none" stroke="#bbbbbb" stroke-width="1.55"/><circle cx="1329.7" cy="290.4" r="5.4" fill="none" stroke="#bbbbbb" stroke-width="1.55"/><circle cx="1312.8" cy="318.3" r="6.4" fill="none" stroke="#bbbbbb" stroke-width="1.55"/><circle cx="1360.7" cy="312.4" r="5.4" fill="none" stroke="#bbbbbb" stroke-width="1.55"/><circle cx="1249.3" cy="347.4" r="4.2" fill="none" stroke="#bbbbbb" stroke-width="1.55"/><circle cx="1364.1" cy="347.4" r="3.7" fill="none" stroke="#bbbbbb" stroke-width="1.55"/><circle cx="1172.0" cy="260.0" r="4.0" fill="none" stroke="#bbbbbb" stroke-width="1.55"/><circle cx="1421.5" cy="193.4" r="25.1" fill="none" stroke="#bbbbbb" stroke-width="1.55"/><circle cx="1396.2" cy="215.9" r="11.2" fill="none" stroke="#bbbbbb" stroke-width="1.55"/><circle cx="1386.7" cy="244.4" r="7.5" fill="none" stroke="#bbbbbb" stroke-width="1.55"/><circle cx="1416.3" cy="239.7" r="5.8" fill="none" stroke="#bbbbbb" stroke-width="1.55"/><circle cx="1444.0" cy="264.8" r="5.1" fill="none" stroke="#bbbbbb" stroke-width="1.55"/><circle cx="1562.6" cy="175.8" r="7.1" fill="none" stroke="#bbbbbb" stroke-width="1.55"/><circle cx="1524.4" cy="225.1" r="4.3" fill="none" stroke="#bbbbbb" stroke-width="1.55"/><circle cx="1558.7" cy="234.8" r="4.9" fill="none" stroke="#bbbbbb" stroke-width="1.55"/><circle cx="1507.7" cy="249.4" r="3.9" fill="none" stroke="#bbbbbb" stroke-width="1.55"/><circle cx="1506.5" cy="249.4" r="2.5" fill="none" stroke="#bbbbbb" stroke-width="1.55"/><circle cx="1674.1" cy="318.0" r="3.6" fill="none" stroke="#bbbbbb" stroke-width="1.55"/><circle cx="1341.1" cy="411.0" r="2.8" fill="none" stroke="#bbbbbb" stroke-width="1.55"/><circle cx="1099.0" cy="263.6" r="5.1" fill="#d0d0d0" stroke="#888888" stroke-width="1.4"/><circle cx="1133.8" cy="253.1" r="5.1" fill="#d0d0d0" stroke="#888888" stroke-width="1.4"/><circle cx="1163.0" cy="262.4" r="4.7" fill="#d0d0d0" stroke="#888888" stroke-width="1.4"/><circle cx="1176.2" cy="261.2" r="5.1" fill="#d0d0d0" stroke="#888888" stroke-width="1.4"/><circle cx="1214.9" cy="259.0" r="5.1" fill="#d0d0d0" stroke="#888888" stroke-width="1.4"/><circle cx="1257.4" cy="261.1" r="5.1" fill="#d0d0d0" stroke="#888888" stroke-width="1.4"/><line x1="1033.0" y1="259.25" x2="1743.0" y2="259.25" stroke="#5e5e5e" stroke-width="4.9" stroke-dasharray="1.6 2.77"/><path d="M1101.2,259.89 L1103.2,260.42 L1105.2,260.96 L1107.2,261.50 L1109.2,262.06 L1111.2,262.61 L1113.2,263.18 L1115.2,263.75 L1117.2,264.33 L1119.2,264.91 L1121.2,265.50 L1123.2,266.09 L1125.2,266.69 L1127.2,267.30 L1129.2,267.90 L1131.2,268.51 L1133.2,269.13 L1135.2,269.75 L1137.2,270.37 L1139.2,271.00 L1141.2,271.63 L1143.2,272.26 L1145.2,272.90 L1147.2,273.53 L1149.2,274.17 L1151.2,274.81 L1153.2,275.45 L1155.2,276.10 L1157.2,276.74 L1159.2,277.39 L1161.2,278.04 L1163.2,278.69 L1165.2,279.33 L1167.2,279.98 L1169.2,280.63 L1171.2,281.28 L1173.2,281.92 L1175.2,282.57 L1177.2,283.21 L1179.2,283.86 L1181.2,284.50 L1183.2,285.14 L1185.2,285.77 L1187.2,286.41 L1189.2,287.04 L1191.2,287.67 L1193.2,288.30 L1195.2,288.92 L1197.2,289.54 L1199.2,290.16 L1201.2,290.77 L1203.2,291.38 L1205.2,291.99 L1207.2,292.59 L1209.2,293.18 L1211.2,293.77 L1213.2,294.36 L1215.2,294.94 L1217.2,295.51 L1219.2,296.08 L1221.2,296.64 L1223.2,297.19 L1225.2,297.74 L1227.2,298.28 L1229.2,298.82 L1231.2,299.34 L1233.2,299.86 L1235.2,300.37 L1237.2,300.88 L1239.2,301.37 L1241.2,301.86 L1243.2,302.34 L1245.2,302.81 L1247.2,303.27 L1249.2,303.72 L1251.2,304.16 L1253.2,304.59 L1255.2,305.01 L1257.2,305.42 L1259.2,305.82 L1261.2,306.20 L1263.2,306.58 L1265.2,306.95 L1267.2,307.30 L1269.2,307.64 L1271.2,307.98 L1273.2,308.29 L1275.2,308.60 L1277.2,308.89 L1279.2,309.17 L1281.2,309.44 L1283.2,309.70 L1285.2,309.94 L1287.2,310.16 L1289.2,310.38 L1291.2,310.58 L1293.2,310.76 L1295.2,310.94 L1297.2,311.10 L1299.2,311.24 L1301.2,311.38 L1303.2,311.50 L1305.2,311.61 L1307.2,311.70 L1309.2,311.78 L1311.2,311.85 L1313.2,311.91 L1315.2,311.96 L1317.2,311.99 L1319.2,312.01 L1321.2,312.02 L1323.2,312.01 L1325.2,312.00 L1327.2,311.97 L1329.2,311.93 L1331.2,311.87 L1333.2,311.81 L1335.2,311.73 L1337.2,311.64 L1339.2,311.54 L1341.2,311.43 L1343.2,311.31 L1345.2,311.17 L1347.2,311.03 L1349.2,310.87 L1351.2,310.70 L1353.2,310.52 L1355.2,310.33 L1357.2,310.13 L1359.2,309.92 L1361.2,309.69 L1363.2,309.46 L1365.2,309.21 L1367.2,308.96 L1369.2,308.69 L1371.2,308.41 L1373.2,308.13 L1375.2,307.83 L1377.2,307.52 L1379.2,307.20 L1381.2,306.87 L1383.2,306.53 L1385.2,306.18 L1387.2,305.83 L1389.2,305.46 L1391.2,305.08 L1393.2,304.69 L1395.2,304.29 L1397.2,303.88 L1399.2,303.47 L1401.2,303.04 L1403.2,302.60 L1405.2,302.16 L1407.2,301.70 L1409.2,301.24 L1411.2,300.77 L1413.2,300.29 L1415.2,299.79 L1417.2,299.29 L1419.2,298.79 L1421.2,298.27 L1423.2,297.74 L1425.2,297.21 L1427.2,296.67 L1429.2,296.12 L1431.2,295.56 L1433.2,294.99 L1435.2,294.42 L1437.2,293.84 L1439.2,293.25 L1441.2,292.66 L1443.2,292.06 L1445.2,291.45 L1447.2,290.84 L1449.2,290.22 L1451.2,289.59 L1453.2,288.96 L1455.2,288.32 L1457.2,287.68 L1459.2,287.03 L1461.2,286.38 L1463.2,285.72 L1465.2,285.05 L1467.2,284.39 L1469.2,283.71 L1471.2,283.04 L1473.2,282.35 L1475.2,281.67 L1477.2,280.98 L1479.2,280.28 L1481.2,279.59 L1483.2,278.89 L1485.2,278.18 L1487.2,277.48 L1489.2,276.77 L1491.2,276.06 L1493.2,275.34 L1495.2,274.62 L1497.2,273.90 L1499.2,273.18 L1501.2,272.46 L1503.2,271.73 L1505.2,271.01 L1507.2,270.28 L1509.2,269.55 L1511.2,268.82 L1513.2,268.09 L1515.2,267.36 L1517.2,266.63 L1519.2,265.90 L1521.2,265.16 L1523.2,264.43 L1525.2,263.70 L1527.2,262.97 L1529.2,262.23 L1531.2,261.50 L1533.2,260.77 L1535.2,260.04 L1537.2,259.32 L1539.2,258.59 L1541.2,257.87 L1543.2,257.14 L1545.2,256.42 L1547.2,255.70 L1549.2,254.98 L1551.2,254.27 L1553.2,253.56 L1555.2,252.85 L1557.2,252.14 L1559.2,251.44 L1561.2,250.74 L1563.2,250.04 L1565.2,249.34 L1567.2,248.65 L1569.2,247.97 L1571.2,247.28 L1573.2,246.60 L1575.2,245.92 L1577.2,245.25 L1579.2,244.58 L1581.2,243.91 L1583.2,243.25 L1585.2,242.59 L1587.2,241.94 L1589.2,241.28 L1591.2,240.63 L1593.2,239.99 L1595.2,239.35 L1597.2,238.71 L1599.2,238.07 L1601.2,237.44 L1603.2,236.82 L1605.2,236.19 L1607.2,235.57 L1609.2,234.96 L1611.2,234.35 L1613.2,233.74 L1615.2,233.13 L1617.2,232.53 L1619.2,231.93 L1621.2,231.34 L1623.2,230.75 L1625.2,230.17 L1627.2,229.58 L1629.2,229.01 L1631.2,228.43 L1633.2,227.86 L1635.2,227.30 L1637.2,226.74 L1639.2,226.18 L1641.2,225.62 L1643.2,225.07 L1645.2,224.53 L1647.2,223.99 L1649.2,223.45 L1651.2,222.92 L1653.2,222.39 L1655.2,221.86 L1657.2,221.34 L1659.2,220.82 L1661.2,220.31 L1663.2,219.80 L1665.2,219.30 L1667.2,218.80 L1669.2,218.30 L1671.2,217.81 L1673.2,217.32 L1674.0,217.13" fill="none" stroke="#000" stroke-width="2.1" stroke-dasharray="8.2 4.1"/><path d="M1101.2,259.91 L1103.2,259.70 L1105.2,259.49 L1107.2,259.29 L1109.2,259.10 L1111.2,258.91 L1113.2,258.72 L1115.2,258.54 L1117.2,258.37 L1119.2,258.20 L1121.2,258.04 L1123.2,257.87 L1125.2,257.72 L1127.2,257.57 L1129.2,257.42 L1131.2,257.27 L1133.2,257.13 L1135.2,257.00 L1137.2,256.86 L1139.2,256.73 L1141.2,256.60 L1143.2,256.48 L1145.2,256.36 L1147.2,256.23 L1149.2,256.12 L1151.2,256.00 L1153.2,255.89 L1155.2,255.77 L1157.2,255.66 L1159.2,255.56 L1161.2,255.45 L1163.2,255.34 L1165.2,255.24 L1167.2,255.13 L1169.2,255.03 L1171.2,254.92 L1173.2,254.82 L1175.2,254.72 L1177.2,254.61 L1179.2,254.51 L1181.2,254.41 L1183.2,254.30 L1185.2,254.20 L1187.2,254.09 L1189.2,253.98 L1191.2,253.88 L1193.2,253.77 L1195.2,253.65 L1197.2,253.54 L1199.2,253.43 L1201.2,253.31 L1203.2,253.19 L1205.2,253.07 L1207.2,252.95 L1209.2,252.82 L1211.2,252.69 L1213.2,252.56 L1215.2,252.43 L1217.2,252.29 L1219.2,252.15 L1221.2,252.00 L1223.2,251.85 L1225.2,251.70 L1227.2,251.54 L1229.2,251.38 L1231.2,251.22 L1233.2,251.05 L1235.2,250.87 L1237.2,250.69 L1239.2,250.51 L1241.2,250.32 L1243.2,250.12 L1245.2,249.92 L1247.2,249.71 L1249.2,249.50 L1251.2,249.28 L1253.2,249.05 L1255.2,248.82 L1257.2,248.58 L1259.2,248.34 L1261.2,248.09 L1263.2,247.83 L1265.2,247.56 L1267.2,247.29 L1269.2,247.00 L1271.2,246.72 L1273.2,246.42 L1275.2,246.11 L1277.2,245.80 L1279.2,245.48 L1281.2,245.15 L1283.2,244.81 L1285.2,244.46 L1287.2,244.10 L1289.2,243.74 L1291.2,243.37 L1293.2,242.98 L1295.2,242.59 L1297.2,242.19 L1299.2,241.78 L1301.2,241.36 L1303.2,240.94 L1305.2,240.50 L1307.2,240.06 L1309.2,239.61 L1311.2,239.15 L1313.2,238.68 L1315.2,238.20 L1317.2,237.71 L1319.2,237.22 L1321.2,236.71 L1323.2,236.20 L1325.2,235.68 L1327.2,235.15 L1329.2,234.62 L1331.2,234.07 L1333.2,233.52 L1335.2,232.96 L1337.2,232.39 L1339.2,231.81 L1341.2,231.22 L1343.2,230.63 L1345.2,230.03 L1347.2,229.42 L1349.2,228.80 L1351.2,228.17 L1353.2,227.54 L1355.2,226.90 L1357.2,226.24 L1359.2,225.59 L1361.2,224.92 L1363.2,224.24 L1365.2,223.56 L1367.2,222.87 L1369.2,222.17 L1371.2,221.47 L1373.2,220.75 L1375.2,220.03 L1377.2,219.30 L1379.2,218.57 L1381.2,217.82 L1383.2,217.07 L1385.2,216.31 L1387.2,215.54 L1389.2,214.77 L1391.2,213.98 L1393.2,213.19 L1395.2,212.40 L1397.2,211.59 L1399.2,210.78 L1401.2,209.96 L1403.2,209.13 L1405.2,208.29 L1407.2,207.45 L1409.2,206.60 L1411.2,205.74 L1413.2,204.88 L1415.2,204.01 L1417.2,203.13 L1419.2,202.24 L1421.2,201.35 L1423.2,200.45 L1425.2,199.54 L1427.2,198.63 L1429.2,197.71 L1431.2,196.78 L1433.2,195.85 L1435.2,194.91 L1437.2,193.96 L1439.2,193.01 L1441.2,192.06 L1443.2,191.09 L1445.2,190.13 L1447.2,189.15 L1449.2,188.17 L1451.2,187.19 L1453.2,186.20 L1455.2,185.21 L1457.2,184.21 L1459.2,183.21 L1461.2,182.20 L1463.2,181.19 L1465.2,180.17 L1467.2,179.15 L1469.2,178.13 L1471.2,177.10 L1473.2,176.07 L1475.2,175.04 L1477.2,174.00 L1479.2,172.96 L1481.2,171.91 L1483.2,170.87 L1485.2,169.82 L1487.2,168.76 L1489.2,167.71 L1491.2,166.65 L1493.2,165.59 L1495.2,164.52 L1497.2,163.46 L1499.2,162.39 L1501.2,161.32 L1503.2,160.25 L1505.2,159.18 L1507.2,158.11 L1509.2,157.03 L1511.2,155.95 L1513.2,154.88 L1515.2,153.80 L1517.2,152.72 L1519.2,151.64 L1521.2,150.56 L1523.2,149.48 L1525.2,148.40 L1527.2,147.32 L1529.2,146.24 L1531.2,145.15 L1533.2,144.07 L1535.2,142.99 L1537.2,141.91 L1539.2,140.83 L1541.2,139.75 L1543.2,138.68 L1545.2,137.60 L1547.2,136.52 L1549.2,135.45 L1551.2,134.38 L1553.2,133.30 L1555.2,132.23 L1557.2,131.17 L1559.2,130.10 L1561.2,129.03 L1563.2,127.97 L1565.2,126.91 L1567.2,125.85 L1569.2,124.80 L1571.2,123.75 L1573.2,122.69 L1575.2,121.64 L1577.2,120.60 L1579.2,119.55 L1581.2,118.51 L1583.2,117.47 L1585.2,116.43 L1587.2,115.39 L1589.2,114.35 L1591.2,113.32 L1593.2,112.29 L1595.2,111.26 L1597.2,110.23 L1599.2,109.20 L1601.2,108.18 L1603.2,107.15 L1605.2,106.13 L1607.2,105.11 L1609.2,104.10 L1611.2,103.08 L1613.2,102.07 L1615.2,101.06 L1617.2,100.05 L1619.2,99.04 L1621.2,98.03 L1623.2,97.03 L1625.2,96.02 L1627.2,95.02 L1629.2,94.02 L1631.2,93.02 L1633.2,92.02 L1635.2,91.03 L1637.2,90.04 L1639.2,89.04 L1641.2,88.05 L1643.2,87.06 L1645.2,86.08 L1647.2,85.09 L1649.2,84.11 L1651.2,83.12 L1653.2,82.14 L1655.2,81.16 L1657.2,80.18 L1659.2,79.21 L1661.2,78.23 L1663.2,77.26 L1665.2,76.28 L1667.2,75.31 L1669.2,74.34 L1671.2,73.37 L1673.2,72.40 L1674.0,72.02" fill="none" stroke="#000" stroke-width="2.1" stroke-dasharray="8.2 4.1"/><path d="M1101.2,259.92 L1103.2,260.09 L1105.2,260.27 L1107.2,260.45 L1109.2,260.64 L1111.2,260.84 L1113.2,261.05 L1115.2,261.26 L1117.2,261.47 L1119.2,261.70 L1121.2,261.92 L1123.2,262.16 L1125.2,262.40 L1127.2,262.64 L1129.2,262.89 L1131.2,263.14 L1133.2,263.40 L1135.2,263.66 L1137.2,263.92 L1139.2,264.19 L1141.2,264.46 L1143.2,264.73 L1145.2,265.01 L1147.2,265.29 L1149.2,265.57 L1151.2,265.85 L1153.2,266.13 L1155.2,266.42 L1157.2,266.71 L1159.2,266.99 L1161.2,267.28 L1163.2,267.57 L1165.2,267.86 L1167.2,268.14 L1169.2,268.43 L1171.2,268.72 L1173.2,269.00 L1175.2,269.29 L1177.2,269.57 L1179.2,269.85 L1181.2,270.13 L1183.2,270.41 L1185.2,270.68 L1187.2,270.96 L1189.2,271.22 L1191.2,271.49 L1193.2,271.75 L1195.2,272.01 L1197.2,272.27 L1199.2,272.52 L1201.2,272.76 L1203.2,273.01 L1205.2,273.24 L1207.2,273.47 L1209.2,273.70 L1211.2,273.92 L1213.2,274.14 L1215.2,274.34 L1217.2,274.55 L1219.2,274.74 L1221.2,274.93 L1223.2,275.11 L1225.2,275.28 L1227.2,275.45 L1229.2,275.61 L1231.2,275.76 L1233.2,275.90 L1235.2,276.03 L1237.2,276.16 L1239.2,276.27 L1241.2,276.38 L1243.2,276.48 L1245.2,276.57 L1247.2,276.65 L1249.2,276.72 L1251.2,276.79 L1253.2,276.84 L1255.2,276.89 L1257.2,276.93 L1259.2,276.96 L1261.2,276.98 L1263.2,276.99 L1265.2,277.00 L1267.2,277.00 L1269.2,276.98 L1271.2,276.96 L1273.2,276.93 L1275.2,276.90 L1277.2,276.85 L1279.2,276.79 L1281.2,276.73 L1283.2,276.66 L1285.2,276.58 L1287.2,276.49 L1289.2,276.40 L1291.2,276.29 L1293.2,276.18 L1295.2,276.05 L1297.2,275.92 L1299.2,275.79 L1301.2,275.64 L1303.2,275.48 L1305.2,275.32 L1307.2,275.15 L1309.2,274.97 L1311.2,274.78 L1313.2,274.58 L1315.2,274.37 L1317.2,274.16 L1319.2,273.94 L1321.2,273.71 L1323.2,273.47 L1325.2,273.22 L1327.2,272.97 L1329.2,272.70 L1331.2,272.43 L1333.2,272.15 L1335.2,271.86 L1337.2,271.56 L1339.2,271.26 L1341.2,270.94 L1343.2,270.62 L1345.2,270.29 L1347.2,269.95 L1349.2,269.61 L1351.2,269.25 L1353.2,268.89 L1355.2,268.52 L1357.2,268.14 L1359.2,267.75 L1361.2,267.36 L1363.2,266.95 L1365.2,266.54 L1367.2,266.12 L1369.2,265.69 L1371.2,265.25 L1373.2,264.81 L1375.2,264.36 L1377.2,263.89 L1379.2,263.43 L1381.2,262.95 L1383.2,262.46 L1385.2,261.97 L1387.2,261.47 L1389.2,260.96 L1391.2,260.44 L1393.2,259.91 L1395.2,259.38 L1397.2,258.83 L1399.2,258.28 L1401.2,257.73 L1403.2,257.16 L1405.2,256.58 L1407.2,256.00 L1409.2,255.41 L1411.2,254.81 L1413.2,254.20 L1415.2,253.59 L1417.2,252.97 L1419.2,252.34 L1421.2,251.70 L1423.2,251.05 L1425.2,250.40 L1427.2,249.73 L1429.2,249.06 L1431.2,248.39 L1433.2,247.70 L1435.2,247.01 L1437.2,246.31 L1439.2,245.61 L1441.2,244.90 L1443.2,244.18 L1445.2,243.46 L1447.2,242.72 L1449.2,241.99 L1451.2,241.24 L1453.2,240.49 L1455.2,239.74 L1457.2,238.97 L1459.2,238.21 L1461.2,237.43 L1463.2,236.65 L1465.2,235.87 L1467.2,235.08 L1469.2,234.28 L1471.2,233.48 L1473.2,232.68 L1475.2,231.86 L1477.2,231.05 L1479.2,230.23 L1481.2,229.40 L1483.2,228.57 L1485.2,227.74 L1487.2,226.90 L1489.2,226.06 L1491.2,225.21 L1493.2,224.36 L1495.2,223.51 L1497.2,222.65 L1499.2,221.79 L1501.2,220.92 L1503.2,220.05 L1505.2,219.18 L1507.2,218.30 L1509.2,217.43 L1511.2,216.54 L1513.2,215.66 L1515.2,214.77 L1517.2,213.88 L1519.2,212.99 L1521.2,212.09 L1523.2,211.19 L1525.2,210.29 L1527.2,209.39 L1529.2,208.49 L1531.2,207.58 L1533.2,206.67 L1535.2,205.76 L1537.2,204.85 L1539.2,203.94 L1541.2,203.02 L1543.2,202.11 L1545.2,201.19 L1547.2,200.27 L1549.2,199.35 L1551.2,198.43 L1553.2,197.51 L1555.2,196.59 L1557.2,195.66 L1559.2,194.74 L1561.2,193.82 L1563.2,192.89 L1565.2,191.97 L1567.2,191.05 L1569.2,190.12 L1571.2,189.20 L1573.2,188.28 L1575.2,187.35 L1577.2,186.43 L1579.2,185.51 L1581.2,184.59 L1583.2,183.67 L1585.2,182.75 L1587.2,181.83 L1589.2,180.91 L1591.2,180.00 L1593.2,179.08 L1595.2,178.17 L1597.2,177.26 L1599.2,176.35 L1601.2,175.44 L1603.2,174.53 L1605.2,173.63 L1607.2,172.73 L1609.2,171.83 L1611.2,170.93 L1613.2,170.03 L1615.2,169.14 L1617.2,168.25 L1619.2,167.36 L1621.2,166.48 L1623.2,165.60 L1625.2,164.72 L1627.2,163.84 L1629.2,162.97 L1631.2,162.10 L1633.2,161.24 L1635.2,160.38 L1637.2,159.52 L1639.2,158.67 L1641.2,157.82 L1643.2,156.97 L1645.2,156.13 L1647.2,155.29 L1649.2,154.46 L1651.2,153.63 L1653.2,152.80 L1655.2,151.98 L1657.2,151.17 L1659.2,150.36 L1661.2,149.55 L1663.2,148.75 L1665.2,147.96 L1667.2,147.17 L1669.2,146.38 L1671.2,145.61 L1673.2,144.83 L1674.0,144.52" fill="none" stroke="#000" stroke-width="2.0"/><path d="M1029.25,8.75 V531.00 H1744.75" fill="none" stroke="#000" stroke-width="1.4" stroke-linejoin="round"/><line x1="1020.75" y1="439.37" x2="1029.25" y2="439.37" stroke="#000" stroke-width="1.5" stroke-linecap="round"/><text x="1014.75" y="450.37" text-anchor="end">0.7</text><line x1="1020.75" y1="259.25" x2="1029.25" y2="259.25" stroke="#000" stroke-width="1.5" stroke-linecap="round"/><text x="1014.75" y="270.25" text-anchor="end">1</text><line x1="1020.75" y1="126.76" x2="1029.25" y2="126.76" stroke="#000" stroke-width="1.5" stroke-linecap="round"/><text x="1014.75" y="137.76" text-anchor="end">1.3</text><line x1="1020.75" y1="21.90" x2="1029.25" y2="21.90" stroke="#000" stroke-width="1.5" stroke-linecap="round"/><text x="1014.75" y="32.90" text-anchor="end">1.6</text><line x1="1042.25" y1="531.00" x2="1042.25" y2="539.50" stroke="#000" stroke-width="1.5" stroke-linecap="round"/><text x="1042.25" y="566.00" text-anchor="middle">0</text><line x1="1157.00" y1="531.00" x2="1157.00" y2="539.50" stroke="#000" stroke-width="1.5" stroke-linecap="round"/><text x="1157.00" y="566.00" text-anchor="middle">100</text><line x1="1271.75" y1="531.00" x2="1271.75" y2="539.50" stroke="#000" stroke-width="1.5" stroke-linecap="round"/><text x="1271.75" y="566.00" text-anchor="middle">200</text><line x1="1386.50" y1="531.00" x2="1386.50" y2="539.50" stroke="#000" stroke-width="1.5" stroke-linecap="round"/><text x="1386.50" y="566.00" text-anchor="middle">300</text><line x1="1501.25" y1="531.00" x2="1501.25" y2="539.50" stroke="#000" stroke-width="1.5" stroke-linecap="round"/><text x="1501.25" y="566.00" text-anchor="middle">400</text><line x1="1616.00" y1="531.00" x2="1616.00" y2="539.50" stroke="#000" stroke-width="1.5" stroke-linecap="round"/><text x="1616.00" y="566.00" text-anchor="middle">500</text><line x1="1730.75" y1="531.00" x2="1730.75" y2="539.50" stroke="#000" stroke-width="1.5" stroke-linecap="round"/><text x="1730.75" y="566.00" text-anchor="middle">600</text><text x="1387.50" y="606.00" text-anchor="middle" font-size="30.3">Cholesterol intake, mg/day</text><text transform="translate(949.80,276.40) rotate(-90)" text-anchor="middle" font-size="30.2">RR of all-cause mortality</text></g>
<g><circle cx="130.2" cy="1015.0" r="28.9" fill="none" stroke="#bbbbbb" stroke-width="1.55"/><circle cx="146.4" cy="1001.6" r="13.4" fill="none" stroke="#bbbbbb" stroke-width="1.55"/><circle cx="161.9" cy="1015.0" r="25.4" fill="none" stroke="#bbbbbb" stroke-width="1.55"/><circle cx="199.3" cy="995.9" r="27.5" fill="none" stroke="#bbbbbb" stroke-width="1.55"/><circle cx="182.4" cy="977.6" r="13.0" fill="none" stroke="#bbbbbb" stroke-width="1.55"/><circle cx="187.3" cy="974.8" r="5.4" fill="none" stroke="#bbbbbb" stroke-width="1.55"/><circle cx="218.0" cy="995.9" r="12.4" fill="none" stroke="#bbbbbb" stroke-width="1.55"/><circle cx="160.8" cy="989.3" r="4.2" fill="none" stroke="#bbbbbb" stroke-width="1.55"/><circle cx="239.5" cy="983.2" r="5.4" fill="none" stroke="#bbbbbb" stroke-width="1.55"/><circle cx="292.4" cy="974.5" r="33.9" fill="none" stroke="#bbbbbb" stroke-width="1.55"/><circle cx="289.9" cy="966.0" r="2.5" fill="none" stroke="#bbbbbb" stroke-width="1.55"/><circle cx="315.4" cy="966.0" r="3.1" fill="none" stroke="#bbbbbb" stroke-width="1.55"/><circle cx="289.9" cy="995.9" r="4.5" fill="none" stroke="#bbbbbb" stroke-width="1.55"/><circle cx="326.3" cy="986.8" r="4.9" fill="none" stroke="#bbbbbb" stroke-width="1.55"/><circle cx="187.6" cy="933.3" r="3.5" fill="none" stroke="#bbbbbb" stroke-width="1.55"/><circle cx="264.3" cy="936.0" r="2.0" fill="none" stroke="#bbbbbb" stroke-width="1.55"/><circle cx="264.3" cy="900.0" r="3.5" fill="none" stroke="#bbbbbb" stroke-width="1.55"/><circle cx="136.5" cy="1049.8" r="14.1" fill="none" stroke="#bbbbbb" stroke-width="1.55"/><circle cx="175.3" cy="1042.5" r="7.1" fill="none" stroke="#bbbbbb" stroke-width="1.55"/><circle cx="202.8" cy="1035.7" r="8.2" fill="none" stroke="#bbbbbb" stroke-width="1.55"/><circle cx="213.4" cy="1061.1" r="14.8" fill="none" stroke="#bbbbbb" stroke-width="1.55"/><circle cx="212.7" cy="1053.8" r="4.5" fill="none" stroke="#bbbbbb" stroke-width="1.55"/><circle cx="161.6" cy="1057.6" r="4.2" fill="none" stroke="#bbbbbb" stroke-width="1.55"/><circle cx="187.7" cy="1057.6" r="2.5" fill="none" stroke="#bbbbbb" stroke-width="1.55"/><circle cx="121.7" cy="1025.6" r="4.2" fill="none" stroke="#bbbbbb" stroke-width="1.55"/><circle cx="264.2" cy="1046.4" r="4.5" fill="none" stroke="#bbbbbb" stroke-width="1.55"/><circle cx="282.5" cy="1046.4" r="6.8" fill="none" stroke="#bbbbbb" stroke-width="1.55"/><circle cx="299.7" cy="1050.0" r="6.8" fill="none" stroke="#bbbbbb" stroke-width="1.55"/><circle cx="289.9" cy="1076.6" r="2.3" fill="none" stroke="#bbbbbb" stroke-width="1.55"/><circle cx="261.1" cy="1022.0" r="2.0" fill="none" stroke="#bbbbbb" stroke-width="1.55"/><circle cx="130.0" cy="1011.0" r="5.6" fill="none" stroke="#bbbbbb" stroke-width="1.55"/><circle cx="494.8" cy="1002.0" r="3.8" fill="none" stroke="#bbbbbb" stroke-width="1.55"/><circle cx="468.8" cy="1021.8" r="3.0" fill="none" stroke="#bbbbbb" stroke-width="1.55"/><circle cx="550.5" cy="1021.2" r="6.8" fill="none" stroke="#bbbbbb" stroke-width="1.55"/><circle cx="468.8" cy="1046.2" r="2.0" fill="none" stroke="#bbbbbb" stroke-width="1.55"/><circle cx="558.0" cy="1057.5" r="3.8" fill="none" stroke="#bbbbbb" stroke-width="1.55"/><circle cx="468.8" cy="1085.0" r="12.5" fill="none" stroke="#bbbbbb" stroke-width="1.55"/><circle cx="622.2" cy="1115.0" r="2.5" fill="none" stroke="#bbbbbb" stroke-width="1.55"/><circle cx="468.8" cy="1137.5" r="3.8" fill="none" stroke="#bbbbbb" stroke-width="1.55"/><circle cx="827.2" cy="975.0" r="1.3" fill="#c4c4c4" stroke="#bdbdbd" stroke-width="1.2"/><circle cx="827.2" cy="1065.0" r="1.3" fill="#c4c4c4" stroke="#bdbdbd" stroke-width="1.2"/><circle cx="401.2" cy="995.8" r="5.5" fill="none" stroke="#bbbbbb" stroke-width="1.55"/><circle cx="379.2" cy="1028.8" r="6.2" fill="none" stroke="#bbbbbb" stroke-width="1.55"/><circle cx="392.5" cy="1032.0" r="3.0" fill="none" stroke="#bbbbbb" stroke-width="1.55"/><circle cx="433.2" cy="1046.2" r="5.5" fill="none" stroke="#bbbbbb" stroke-width="1.55"/><circle cx="367.0" cy="1097.5" r="12.0" fill="none" stroke="#bbbbbb" stroke-width="1.55"/><circle cx="264.2" cy="1106.2" r="3.8" fill="none" stroke="#bbbbbb" stroke-width="1.55"/><circle cx="136.2" cy="1114.5" r="3.8" fill="none" stroke="#bbbbbb" stroke-width="1.55"/><circle cx="139.5" cy="1101.2" r="3.2" fill="none" stroke="#bbbbbb" stroke-width="1.55"/><circle cx="361.3" cy="974.7" r="11.3" fill="none" stroke="#bbbbbb" stroke-width="1.55"/><circle cx="366.6" cy="831.3" r="2.5" fill="none" stroke="#bbbbbb" stroke-width="1.55"/><circle cx="520.0" cy="688.9" r="2.0" fill="none" stroke="#bbbbbb" stroke-width="1.55"/><circle cx="116.0" cy="1013.6" r="4.9" fill="#d0d0d0" stroke="#888888" stroke-width="1.4"/><circle cx="110.4" cy="1022.7" r="4.9" fill="#d0d0d0" stroke="#888888" stroke-width="1.4"/><circle cx="109.7" cy="1017.1" r="4.2" fill="#d0d0d0" stroke="#888888" stroke-width="1.4"/><circle cx="135.1" cy="1011.5" r="4.2" fill="#d0d0d0" stroke="#888888" stroke-width="1.4"/><circle cx="150.6" cy="1020.6" r="4.7" fill="#d0d0d0" stroke="#888888" stroke-width="1.4"/><circle cx="142.1" cy="1019.9" r="4.2" fill="#d0d0d0" stroke="#888888" stroke-width="1.4"/><circle cx="203.8" cy="1018.2" r="4.9" fill="#d0d0d0" stroke="#888888" stroke-width="1.4"/><line x1="99.0" y1="1018.25" x2="840.0" y2="1018.25" stroke="#5e5e5e" stroke-width="4.9" stroke-dasharray="1.6 2.77"/><path d="M111.1,1018.21 L113.1,1018.59 L115.1,1018.96 L117.1,1019.32 L119.1,1019.68 L121.1,1020.03 L123.1,1020.38 L125.1,1020.72 L127.1,1021.06 L129.1,1021.40 L131.1,1021.73 L133.1,1022.05 L135.1,1022.37 L137.1,1022.69 L139.1,1023.00 L141.1,1023.31 L143.1,1023.61 L145.1,1023.91 L147.1,1024.20 L149.1,1024.49 L151.1,1024.78 L153.1,1025.06 L155.1,1025.34 L157.1,1025.61 L159.1,1025.88 L161.1,1026.15 L163.1,1026.41 L165.1,1026.67 L167.1,1026.92 L169.1,1027.17 L171.1,1027.42 L173.1,1027.66 L175.1,1027.90 L177.1,1028.14 L179.1,1028.37 L181.1,1028.60 L183.1,1028.83 L185.1,1029.05 L187.1,1029.27 L189.1,1029.48 L191.1,1029.70 L193.1,1029.90 L195.1,1030.11 L197.1,1030.31 L199.1,1030.52 L201.1,1030.71 L203.1,1030.91 L205.1,1031.10 L207.1,1031.29 L209.1,1031.47 L211.1,1031.66 L213.1,1031.84 L215.1,1032.02 L217.1,1032.19 L219.1,1032.37 L221.1,1032.54 L223.1,1032.71 L225.1,1032.87 L227.1,1033.04 L229.1,1033.20 L231.1,1033.36 L233.1,1033.51 L235.1,1033.67 L237.1,1033.82 L239.1,1033.97 L241.1,1034.12 L243.1,1034.27 L245.1,1034.42 L247.1,1034.56 L249.1,1034.70 L251.1,1034.84 L253.1,1034.98 L255.1,1035.12 L257.1,1035.25 L259.1,1035.39 L261.1,1035.52 L263.1,1035.65 L265.1,1035.78 L267.1,1035.91 L269.1,1036.04 L271.1,1036.16 L273.1,1036.29 L275.1,1036.41 L277.1,1036.54 L279.1,1036.66 L281.1,1036.78 L283.1,1036.90 L285.1,1037.02 L287.1,1037.14 L289.1,1037.25 L291.1,1037.37 L293.1,1037.49 L295.1,1037.60 L297.1,1037.72 L299.1,1037.83 L301.1,1037.95 L303.1,1038.06 L305.1,1038.17 L307.1,1038.29 L309.1,1038.40 L311.1,1038.51 L313.1,1038.62 L315.1,1038.73 L317.1,1038.84 L319.1,1038.95 L321.1,1039.06 L323.1,1039.17 L325.1,1039.28 L327.1,1039.39 L329.1,1039.49 L331.1,1039.60 L333.1,1039.71 L335.1,1039.81 L337.1,1039.92 L339.1,1040.03 L341.1,1040.13 L343.1,1040.24 L345.1,1040.34 L347.1,1040.44 L349.1,1040.55 L351.1,1040.65 L353.1,1040.76 L355.1,1040.86 L357.1,1040.96 L359.1,1041.06 L361.1,1041.17 L363.1,1041.27 L365.1,1041.37 L367.1,1041.47 L369.1,1041.57 L371.1,1041.68 L373.1,1041.78 L375.1,1041.88 L377.1,1041.98 L379.1,1042.08 L381.1,1042.18 L383.1,1042.28 L385.1,1042.38 L387.1,1042.48 L389.1,1042.58 L391.1,1042.68 L393.1,1042.78 L395.1,1042.88 L397.1,1042.98 L399.1,1043.08 L401.1,1043.18 L403.1,1043.28 L405.1,1043.38 L407.1,1043.48 L409.1,1043.58 L411.1,1043.68 L413.1,1043.78 L415.1,1043.88 L417.1,1043.97 L419.1,1044.07 L421.1,1044.17 L423.1,1044.27 L425.1,1044.37 L427.1,1044.47 L429.1,1044.57 L431.1,1044.67 L433.1,1044.77 L435.1,1044.87 L437.1,1044.97 L439.1,1045.07 L441.1,1045.17 L443.1,1045.27 L445.1,1045.38 L447.1,1045.48 L449.1,1045.58 L451.1,1045.68 L453.1,1045.78 L455.1,1045.88 L457.1,1045.98 L459.1,1046.09 L461.1,1046.19 L463.1,1046.29 L465.1,1046.39 L467.1,1046.50 L469.1,1046.60 L471.1,1046.71 L473.1,1046.81 L475.1,1046.91 L477.1,1047.02 L479.1,1047.12 L481.1,1047.23 L483.1,1047.33 L485.1,1047.44 L487.1,1047.55 L489.1,1047.65 L491.1,1047.76 L493.1,1047.87 L495.1,1047.98 L497.1,1048.09 L499.1,1048.19 L501.1,1048.30 L503.1,1048.41 L505.1,1048.52 L507.1,1048.63 L509.1,1048.74 L511.1,1048.86 L513.1,1048.97 L515.1,1049.08 L517.1,1049.19 L519.1,1049.31 L521.1,1049.42 L523.1,1049.54 L525.1,1049.65 L527.1,1049.77 L529.1,1049.88 L531.1,1050.00 L533.1,1050.12 L535.1,1050.24 L537.1,1050.35 L539.1,1050.47 L541.1,1050.59 L543.1,1050.71 L545.1,1050.84 L547.1,1050.96 L549.1,1051.08 L551.1,1051.20 L553.1,1051.33 L555.1,1051.45 L557.1,1051.58 L559.1,1051.70 L561.1,1051.83 L563.1,1051.96 L565.1,1052.09 L567.1,1052.21 L569.1,1052.34 L571.1,1052.47 L573.1,1052.61 L575.1,1052.74 L577.1,1052.87 L579.1,1053.00 L581.1,1053.14 L583.1,1053.27 L585.1,1053.41 L587.1,1053.55 L589.1,1053.69 L591.1,1053.82 L593.1,1053.96 L595.1,1054.10 L597.1,1054.25 L599.1,1054.39 L601.1,1054.53 L603.1,1054.68 L605.1,1054.82 L607.1,1054.97 L609.1,1055.11 L611.1,1055.26 L613.1,1055.41 L615.1,1055.56 L617.1,1055.71 L619.1,1055.86 L621.1,1056.02 L623.1,1056.17 L625.1,1056.33 L627.1,1056.48 L629.1,1056.64 L631.1,1056.80 L633.1,1056.96 L635.1,1057.12 L637.1,1057.28 L639.1,1057.44 L641.1,1057.60 L643.1,1057.77 L645.1,1057.93 L647.1,1058.10 L649.1,1058.27 L651.1,1058.44 L653.1,1058.61 L655.1,1058.78 L657.1,1058.95 L659.1,1059.13 L661.1,1059.30 L663.1,1059.48 L665.1,1059.66 L667.1,1059.84 L669.1,1060.02 L671.1,1060.20 L673.1,1060.38 L675.1,1060.56 L677.1,1060.75 L679.1,1060.94 L681.1,1061.12 L683.1,1061.31 L685.1,1061.50 L687.1,1061.70 L689.1,1061.89 L691.1,1062.08 L693.1,1062.28 L695.1,1062.48 L697.1,1062.68 L699.1,1062.88 L701.1,1063.08 L703.1,1063.28 L705.1,1063.48 L707.1,1063.69 L709.1,1063.90 L711.1,1064.11 L713.1,1064.32 L715.1,1064.53 L717.1,1064.74 L719.1,1064.95 L721.1,1065.17 L723.1,1065.39 L725.1,1065.61 L727.1,1065.83 L729.1,1066.05 L731.1,1066.27 L733.1,1066.50 L735.1,1066.73 L737.1,1066.95 L739.1,1067.18 L741.1,1067.42 L743.1,1067.65 L745.1,1067.88 L747.1,1068.12 L749.1,1068.36 L751.1,1068.60 L753.1,1068.84 L755.1,1069.08 L757.1,1069.33 L759.1,1069.57 L761.1,1069.82 L763.1,1070.07 L765.1,1070.32 L767.1,1070.58 L769.1,1070.83 L771.1,1071.09 L773.1,1071.35 L775.1,1071.61 L777.1,1071.87 L779.1,1072.13 L781.1,1072.40 L783.1,1072.66 L785.1,1072.93 L787.1,1073.20 L789.1,1073.48 L791.1,1073.75 L793.1,1074.03 L795.1,1074.31 L797.1,1074.59 L799.1,1074.87 L801.1,1075.15 L803.1,1075.44 L805.1,1075.73 L807.1,1076.02 L809.1,1076.31 L811.1,1076.60 L813.1,1076.90 L815.1,1077.19 L817.1,1077.49 L819.1,1077.79 L821.1,1078.10 L823.1,1078.40 L825.1,1078.71 L825.5,1078.77" fill="none" stroke="#000" stroke-width="2.1" stroke-dasharray="8.2 4.1"/><path d="M111.1,1018.25 L113.1,1017.57 L115.1,1016.90 L117.1,1016.24 L119.1,1015.59 L121.1,1014.95 L123.1,1014.32 L125.1,1013.69 L127.1,1013.08 L129.1,1012.47 L131.1,1011.87 L133.1,1011.28 L135.1,1010.69 L137.1,1010.12 L139.1,1009.55 L141.1,1008.99 L143.1,1008.44 L145.1,1007.89 L147.1,1007.36 L149.1,1006.83 L151.1,1006.31 L153.1,1005.79 L155.1,1005.29 L157.1,1004.79 L159.1,1004.30 L161.1,1003.82 L163.1,1003.34 L165.1,1002.87 L167.1,1002.41 L169.1,1001.96 L171.1,1001.51 L173.1,1001.07 L175.1,1000.64 L177.1,1000.22 L179.1,999.80 L181.1,999.39 L183.1,998.98 L185.1,998.59 L187.1,998.20 L189.1,997.81 L191.1,997.43 L193.1,997.06 L195.1,996.70 L197.1,996.34 L199.1,995.99 L201.1,995.65 L203.1,995.31 L205.1,994.97 L207.1,994.65 L209.1,994.33 L211.1,994.02 L213.1,993.71 L215.1,993.41 L217.1,993.11 L219.1,992.82 L221.1,992.54 L223.1,992.26 L225.1,991.99 L227.1,991.72 L229.1,991.46 L231.1,991.21 L233.1,990.96 L235.1,990.71 L237.1,990.48 L239.1,990.24 L241.1,990.02 L243.1,989.79 L245.1,989.58 L247.1,989.36 L249.1,989.16 L251.1,988.96 L253.1,988.76 L255.1,988.57 L257.1,988.38 L259.1,988.20 L261.1,988.02 L263.1,987.85 L265.1,987.69 L267.1,987.52 L269.1,987.37 L271.1,987.21 L273.1,987.06 L275.1,986.92 L277.1,986.78 L279.1,986.64 L281.1,986.51 L283.1,986.39 L285.1,986.26 L287.1,986.15 L289.1,986.03 L291.1,985.92 L293.1,985.82 L295.1,985.71 L297.1,985.61 L299.1,985.52 L301.1,985.43 L303.1,985.34 L305.1,985.26 L307.1,985.18 L309.1,985.10 L311.1,985.03 L313.1,984.96 L315.1,984.90 L317.1,984.84 L319.1,984.78 L321.1,984.72 L323.1,984.67 L325.1,984.62 L327.1,984.58 L329.1,984.53 L331.1,984.49 L333.1,984.46 L335.1,984.42 L337.1,984.39 L339.1,984.36 L341.1,984.34 L343.1,984.32 L345.1,984.30 L347.1,984.28 L349.1,984.26 L351.1,984.25 L353.1,984.24 L355.1,984.24 L357.1,984.23 L359.1,984.23 L361.1,984.23 L363.1,984.23 L365.1,984.24 L367.1,984.24 L369.1,984.25 L371.1,984.27 L373.1,984.28 L375.1,984.30 L377.1,984.31 L379.1,984.33 L381.1,984.36 L383.1,984.38 L385.1,984.41 L387.1,984.44 L389.1,984.47 L391.1,984.50 L393.1,984.53 L395.1,984.57 L397.1,984.60 L399.1,984.64 L401.1,984.68 L403.1,984.73 L405.1,984.77 L407.1,984.82 L409.1,984.86 L411.1,984.91 L413.1,984.96 L415.1,985.01 L417.1,985.07 L419.1,985.12 L421.1,985.17 L423.1,985.23 L425.1,985.29 L427.1,985.35 L429.1,985.41 L431.1,985.47 L433.1,985.53 L435.1,985.60 L437.1,985.66 L439.1,985.73 L441.1,985.79 L443.1,985.86 L445.1,985.93 L447.1,986.00 L449.1,986.07 L451.1,986.14 L453.1,986.21 L455.1,986.28 L457.1,986.36 L459.1,986.43 L461.1,986.50 L463.1,986.58 L465.1,986.65 L467.1,986.73 L469.1,986.80 L471.1,986.88 L473.1,986.96 L475.1,987.03 L477.1,987.11 L479.1,987.19 L481.1,987.27 L483.1,987.35 L485.1,987.42 L487.1,987.50 L489.1,987.58 L491.1,987.66 L493.1,987.74 L495.1,987.82 L497.1,987.89 L499.1,987.97 L501.1,988.05 L503.1,988.13 L505.1,988.21 L507.1,988.28 L509.1,988.36 L511.1,988.44 L513.1,988.51 L515.1,988.59 L517.1,988.67 L519.1,988.74 L521.1,988.82 L523.1,988.89 L525.1,988.96 L527.1,989.04 L529.1,989.11 L531.1,989.18 L533.1,989.25 L535.1,989.32 L537.1,989.39 L539.1,989.46 L541.1,989.53 L543.1,989.59 L545.1,989.66 L547.1,989.72 L549.1,989.79 L551.1,989.85 L553.1,989.91 L555.1,989.97 L557.1,990.03 L559.1,990.09 L561.1,990.15 L563.1,990.20 L565.1,990.26 L567.1,990.31 L569.1,990.36 L571.1,990.41 L573.1,990.46 L575.1,990.51 L577.1,990.55 L579.1,990.60 L581.1,990.64 L583.1,990.68 L585.1,990.72 L587.1,990.76 L589.1,990.80 L591.1,990.83 L593.1,990.86 L595.1,990.89 L597.1,990.92 L599.1,990.95 L601.1,990.97 L603.1,991.00 L605.1,991.02 L607.1,991.04 L609.1,991.05 L611.1,991.07 L613.1,991.08 L615.1,991.09 L617.1,991.10 L619.1,991.10 L621.1,991.11 L623.1,991.11 L625.1,991.10 L627.1,991.10 L629.1,991.10 L631.1,991.09 L633.1,991.08 L635.1,991.07 L637.1,991.05 L639.1,991.04 L641.1,991.02 L643.1,991.00 L645.1,990.98 L647.1,990.95 L649.1,990.93 L651.1,990.90 L653.1,990.87 L655.1,990.84 L657.1,990.81 L659.1,990.78 L661.1,990.74 L663.1,990.70 L665.1,990.67 L667.1,990.63 L669.1,990.58 L671.1,990.54 L673.1,990.50 L675.1,990.45 L677.1,990.40 L679.1,990.36 L681.1,990.31 L683.1,990.26 L685.1,990.20 L687.1,990.15 L689.1,990.09 L691.1,990.04 L693.1,989.98 L695.1,989.92 L697.1,989.87 L699.1,989.81 L701.1,989.75 L703.1,989.68 L705.1,989.62 L707.1,989.56 L709.1,989.49 L711.1,989.43 L713.1,989.36 L715.1,989.30 L717.1,989.23 L719.1,989.16 L721.1,989.09 L723.1,989.02 L725.1,988.95 L727.1,988.88 L729.1,988.81 L731.1,988.74 L733.1,988.67 L735.1,988.60 L737.1,988.53 L739.1,988.45 L741.1,988.38 L743.1,988.31 L745.1,988.24 L747.1,988.16 L749.1,988.09 L751.1,988.01 L753.1,987.94 L755.1,987.87 L757.1,987.79 L759.1,987.72 L761.1,987.64 L763.1,987.57 L765.1,987.50 L767.1,987.42 L769.1,987.35 L771.1,987.28 L773.1,987.20 L775.1,987.13 L777.1,987.06 L779.1,986.99 L781.1,986.92 L783.1,986.85 L785.1,986.77 L787.1,986.70 L789.1,986.63 L791.1,986.57 L793.1,986.50 L795.1,986.43 L797.1,986.36 L799.1,986.29 L801.1,986.23 L803.1,986.16 L805.1,986.10 L807.1,986.04 L809.1,985.97 L811.1,985.91 L813.1,985.85 L815.1,985.79 L817.1,985.73 L819.1,985.67 L821.1,985.62 L823.1,985.56 L825.1,985.50 L825.5,985.49" fill="none" stroke="#000" stroke-width="2.1" stroke-dasharray="8.2 4.1"/><path d="M111.1,1018.20 L113.1,1018.06 L115.1,1017.92 L117.1,1017.78 L119.1,1017.64 L121.1,1017.51 L123.1,1017.37 L125.1,1017.24 L127.1,1017.11 L129.1,1016.99 L131.1,1016.86 L133.1,1016.74 L135.1,1016.61 L137.1,1016.49 L139.1,1016.37 L141.1,1016.26 L143.1,1016.14 L145.1,1016.03 L147.1,1015.92 L149.1,1015.81 L151.1,1015.70 L153.1,1015.59 L155.1,1015.49 L157.1,1015.39 L159.1,1015.28 L161.1,1015.19 L163.1,1015.09 L165.1,1014.99 L167.1,1014.90 L169.1,1014.81 L171.1,1014.71 L173.1,1014.63 L175.1,1014.54 L177.1,1014.45 L179.1,1014.37 L181.1,1014.29 L183.1,1014.21 L185.1,1014.13 L187.1,1014.05 L189.1,1013.97 L191.1,1013.90 L193.1,1013.83 L195.1,1013.76 L197.1,1013.69 L199.1,1013.62 L201.1,1013.55 L203.1,1013.49 L205.1,1013.43 L207.1,1013.37 L209.1,1013.31 L211.1,1013.25 L213.1,1013.19 L215.1,1013.14 L217.1,1013.08 L219.1,1013.03 L221.1,1012.98 L223.1,1012.93 L225.1,1012.88 L227.1,1012.84 L229.1,1012.79 L231.1,1012.75 L233.1,1012.71 L235.1,1012.67 L237.1,1012.63 L239.1,1012.59 L241.1,1012.55 L243.1,1012.52 L245.1,1012.49 L247.1,1012.46 L249.1,1012.43 L251.1,1012.40 L253.1,1012.37 L255.1,1012.34 L257.1,1012.32 L259.1,1012.29 L261.1,1012.27 L263.1,1012.25 L265.1,1012.23 L267.1,1012.22 L269.1,1012.20 L271.1,1012.18 L273.1,1012.17 L275.1,1012.16 L277.1,1012.15 L279.1,1012.14 L281.1,1012.13 L283.1,1012.12 L285.1,1012.11 L287.1,1012.11 L289.1,1012.10 L291.1,1012.10 L293.1,1012.10 L295.1,1012.10 L297.1,1012.10 L299.1,1012.10 L301.1,1012.11 L303.1,1012.11 L305.1,1012.12 L307.1,1012.13 L309.1,1012.13 L311.1,1012.14 L313.1,1012.16 L315.1,1012.17 L317.1,1012.18 L319.1,1012.19 L321.1,1012.21 L323.1,1012.23 L325.1,1012.24 L327.1,1012.26 L329.1,1012.28 L331.1,1012.30 L333.1,1012.33 L335.1,1012.35 L337.1,1012.37 L339.1,1012.40 L341.1,1012.42 L343.1,1012.45 L345.1,1012.48 L347.1,1012.51 L349.1,1012.54 L351.1,1012.57 L353.1,1012.60 L355.1,1012.64 L357.1,1012.67 L359.1,1012.71 L361.1,1012.74 L363.1,1012.78 L365.1,1012.82 L367.1,1012.86 L369.1,1012.90 L371.1,1012.94 L373.1,1012.98 L375.1,1013.03 L377.1,1013.07 L379.1,1013.12 L381.1,1013.16 L383.1,1013.21 L385.1,1013.26 L387.1,1013.30 L389.1,1013.35 L391.1,1013.40 L393.1,1013.46 L395.1,1013.51 L397.1,1013.56 L399.1,1013.61 L401.1,1013.67 L403.1,1013.72 L405.1,1013.78 L407.1,1013.84 L409.1,1013.90 L411.1,1013.95 L413.1,1014.01 L415.1,1014.07 L417.1,1014.14 L419.1,1014.20 L421.1,1014.26 L423.1,1014.32 L425.1,1014.39 L427.1,1014.45 L429.1,1014.52 L431.1,1014.58 L433.1,1014.65 L435.1,1014.72 L437.1,1014.79 L439.1,1014.86 L441.1,1014.92 L443.1,1015.00 L445.1,1015.07 L447.1,1015.14 L449.1,1015.21 L451.1,1015.28 L453.1,1015.36 L455.1,1015.43 L457.1,1015.51 L459.1,1015.58 L461.1,1015.66 L463.1,1015.73 L465.1,1015.81 L467.1,1015.89 L469.1,1015.97 L471.1,1016.05 L473.1,1016.13 L475.1,1016.21 L477.1,1016.29 L479.1,1016.37 L481.1,1016.45 L483.1,1016.53 L485.1,1016.62 L487.1,1016.70 L489.1,1016.78 L491.1,1016.87 L493.1,1016.95 L495.1,1017.04 L497.1,1017.12 L499.1,1017.21 L501.1,1017.30 L503.1,1017.38 L505.1,1017.47 L507.1,1017.56 L509.1,1017.65 L511.1,1017.74 L513.1,1017.83 L515.1,1017.92 L517.1,1018.01 L519.1,1018.10 L521.1,1018.19 L523.1,1018.28 L525.1,1018.37 L527.1,1018.46 L529.1,1018.55 L531.1,1018.65 L533.1,1018.74 L535.1,1018.83 L537.1,1018.93 L539.1,1019.02 L541.1,1019.11 L543.1,1019.21 L545.1,1019.30 L547.1,1019.40 L549.1,1019.49 L551.1,1019.59 L553.1,1019.69 L555.1,1019.78 L557.1,1019.88 L559.1,1019.98 L561.1,1020.07 L563.1,1020.17 L565.1,1020.27 L567.1,1020.36 L569.1,1020.46 L571.1,1020.56 L573.1,1020.66 L575.1,1020.76 L577.1,1020.86 L579.1,1020.95 L581.1,1021.05 L583.1,1021.15 L585.1,1021.25 L587.1,1021.35 L589.1,1021.45 L591.1,1021.55 L593.1,1021.65 L595.1,1021.75 L597.1,1021.85 L599.1,1021.95 L601.1,1022.05 L603.1,1022.15 L605.1,1022.25 L607.1,1022.35 L609.1,1022.45 L611.1,1022.55 L613.1,1022.65 L615.1,1022.75 L617.1,1022.85 L619.1,1022.95 L621.1,1023.05 L623.1,1023.15 L625.1,1023.25 L627.1,1023.35 L629.1,1023.45 L631.1,1023.55 L633.1,1023.65 L635.1,1023.75 L637.1,1023.85 L639.1,1023.95 L641.1,1024.05 L643.1,1024.15 L645.1,1024.25 L647.1,1024.35 L649.1,1024.45 L651.1,1024.55 L653.1,1024.65 L655.1,1024.75 L657.1,1024.85 L659.1,1024.95 L661.1,1025.05 L663.1,1025.15 L665.1,1025.24 L667.1,1025.34 L669.1,1025.44 L671.1,1025.54 L673.1,1025.64 L675.1,1025.74 L677.1,1025.83 L679.1,1025.93 L681.1,1026.03 L683.1,1026.12 L685.1,1026.22 L687.1,1026.32 L689.1,1026.41 L691.1,1026.51 L693.1,1026.60 L695.1,1026.70 L697.1,1026.79 L699.1,1026.89 L701.1,1026.98 L703.1,1027.08 L705.1,1027.17 L707.1,1027.26 L709.1,1027.36 L711.1,1027.45 L713.1,1027.54 L715.1,1027.64 L717.1,1027.73 L719.1,1027.82 L721.1,1027.91 L723.1,1028.00 L725.1,1028.09 L727.1,1028.18 L729.1,1028.27 L731.1,1028.36 L733.1,1028.45 L735.1,1028.54 L737.1,1028.62 L739.1,1028.71 L741.1,1028.80 L743.1,1028.88 L745.1,1028.97 L747.1,1029.06 L749.1,1029.14 L751.1,1029.23 L753.1,1029.31 L755.1,1029.39 L757.1,1029.48 L759.1,1029.56 L761.1,1029.64 L763.1,1029.72 L765.1,1029.80 L767.1,1029.88 L769.1,1029.96 L771.1,1030.04 L773.1,1030.12 L775.1,1030.20 L777.1,1030.28 L779.1,1030.35 L781.1,1030.43 L783.1,1030.51 L785.1,1030.58 L787.1,1030.66 L789.1,1030.73 L791.1,1030.80 L793.1,1030.88 L795.1,1030.95 L797.1,1031.02 L799.1,1031.09 L801.1,1031.16 L803.1,1031.23 L805.1,1031.30 L807.1,1031.37 L809.1,1031.43 L811.1,1031.50 L813.1,1031.57 L815.1,1031.63 L817.1,1031.70 L819.1,1031.76 L821.1,1031.82 L823.1,1031.88 L825.1,1031.95 L826.8,1032.00" fill="none" stroke="#000" stroke-width="2.0"/><path d="M97.25,675.50 V1203.00 H840.50" fill="none" stroke="#000" stroke-width="1.4" stroke-linejoin="round"/><line x1="88.75" y1="1189.02" x2="97.25" y2="1189.02" stroke="#000" stroke-width="1.5" stroke-linecap="round"/><text x="82.75" y="1200.02" text-anchor="end">0.6</text><line x1="88.75" y1="1018.25" x2="97.25" y2="1018.25" stroke="#000" stroke-width="1.5" stroke-linecap="round"/><text x="82.75" y="1029.25" text-anchor="end">1</text><line x1="88.75" y1="882.70" x2="97.25" y2="882.70" stroke="#000" stroke-width="1.5" stroke-linecap="round"/><text x="82.75" y="893.70" text-anchor="end">1.5</text><line x1="88.75" y1="711.93" x2="97.25" y2="711.93" stroke="#000" stroke-width="1.5" stroke-linecap="round"/><text x="82.75" y="722.93" text-anchor="end">2.5</text><line x1="110.75" y1="1203.00" x2="110.75" y2="1211.50" stroke="#000" stroke-width="1.5" stroke-linecap="round"/><text x="110.75" y="1238.00" text-anchor="middle">0</text><line x1="289.75" y1="1203.00" x2="289.75" y2="1211.50" stroke="#000" stroke-width="1.5" stroke-linecap="round"/><text x="289.75" y="1238.00" text-anchor="middle">0.5</text><line x1="468.75" y1="1203.00" x2="468.75" y2="1211.50" stroke="#000" stroke-width="1.5" stroke-linecap="round"/><text x="468.75" y="1238.00" text-anchor="middle">1</text><line x1="647.75" y1="1203.00" x2="647.75" y2="1211.50" stroke="#000" stroke-width="1.5" stroke-linecap="round"/><text x="647.75" y="1238.00" text-anchor="middle">1.5</text><line x1="826.75" y1="1203.00" x2="826.75" y2="1211.50" stroke="#000" stroke-width="1.5" stroke-linecap="round"/><text x="826.75" y="1238.00" text-anchor="middle">2</text><text x="468.75" y="1277.00" text-anchor="middle" font-size="30.3">Egg consumption, per day</text><text transform="translate(25.00,938.20) rotate(-90)" text-anchor="middle" font-size="30.2">RR of CVD mortality</text></g>
<g><circle cx="1187.0" cy="979.7" r="33.9" fill="none" stroke="#bbbbbb" stroke-width="1.55"/><circle cx="1222.5" cy="975.3" r="34.7" fill="none" stroke="#bbbbbb" stroke-width="1.55"/><circle cx="1259.4" cy="965.1" r="31.3" fill="none" stroke="#bbbbbb" stroke-width="1.55"/><circle cx="1326.6" cy="953.8" r="27.1" fill="none" stroke="#bbbbbb" stroke-width="1.55"/><circle cx="1180.2" cy="967.3" r="13.5" fill="none" stroke="#bbbbbb" stroke-width="1.55"/><circle cx="1219.1" cy="974.1" r="13.5" fill="none" stroke="#bbbbbb" stroke-width="1.55"/><circle cx="1254.7" cy="955.5" r="11.0" fill="none" stroke="#bbbbbb" stroke-width="1.55"/><circle cx="1308.0" cy="941.1" r="11.0" fill="none" stroke="#bbbbbb" stroke-width="1.55"/><circle cx="1292.4" cy="943.6" r="3.0" fill="none" stroke="#bbbbbb" stroke-width="1.55"/><circle cx="1333.7" cy="955.8" r="2.9" fill="none" stroke="#bbbbbb" stroke-width="1.55"/><circle cx="1322.9" cy="965.3" r="3.7" fill="none" stroke="#bbbbbb" stroke-width="1.55"/><circle cx="1171.7" cy="986.8" r="6.8" fill="none" stroke="#bbbbbb" stroke-width="1.55"/><circle cx="1245.4" cy="978.3" r="5.9" fill="none" stroke="#bbbbbb" stroke-width="1.55"/><circle cx="1254.3" cy="994.4" r="2.5" fill="none" stroke="#bbbbbb" stroke-width="1.55"/><circle cx="1257.7" cy="1004.1" r="5.9" fill="none" stroke="#bbbbbb" stroke-width="1.55"/><circle cx="1281.4" cy="1005.9" r="5.1" fill="none" stroke="#bbbbbb" stroke-width="1.55"/><circle cx="1344.1" cy="1013.4" r="5.6" fill="none" stroke="#bbbbbb" stroke-width="1.55"/><circle cx="1390.4" cy="717.5" r="2.1" fill="none" stroke="#bbbbbb" stroke-width="1.55"/><circle cx="1405.9" cy="931.5" r="3.0" fill="none" stroke="#bbbbbb" stroke-width="1.55"/><circle cx="1403.8" cy="975.7" r="4.2" fill="none" stroke="#bbbbbb" stroke-width="1.55"/><circle cx="1429.8" cy="981.5" r="5.1" fill="none" stroke="#bbbbbb" stroke-width="1.55"/><circle cx="1453.3" cy="998.0" r="5.1" fill="none" stroke="#bbbbbb" stroke-width="1.55"/><circle cx="1704.0" cy="995.0" r="5.0" fill="none" stroke="#bbbbbb" stroke-width="1.55"/><circle cx="1510.2" cy="1021.2" r="5.0" fill="none" stroke="#bbbbbb" stroke-width="1.55"/><circle cx="1577.2" cy="1008.8" r="5.0" fill="none" stroke="#bbbbbb" stroke-width="1.55"/><circle cx="1349.8" cy="1093.2" r="2.5" fill="none" stroke="#bbbbbb" stroke-width="1.55"/><circle cx="1579.8" cy="1188.0" r="2.0" fill="none" stroke="#bbbbbb" stroke-width="1.55"/><circle cx="1266.5" cy="855.0" r="2.0" fill="none" stroke="#bbbbbb" stroke-width="1.55"/><circle cx="1085.1" cy="971.6" r="5.1" fill="#d0d0d0" stroke="#888888" stroke-width="1.4"/><circle cx="1131.1" cy="977.5" r="5.1" fill="#d0d0d0" stroke="#888888" stroke-width="1.4"/><circle cx="1137.9" cy="977.5" r="4.7" fill="#d0d0d0" stroke="#888888" stroke-width="1.4"/><circle cx="1171.7" cy="978.3" r="5.1" fill="#d0d0d0" stroke="#888888" stroke-width="1.4"/><circle cx="1171.7" cy="983.4" r="4.7" fill="#d0d0d0" stroke="#888888" stroke-width="1.4"/><circle cx="1203.9" cy="976.3" r="5.1" fill="#d0d0d0" stroke="#888888" stroke-width="1.4"/><circle cx="1210.7" cy="978.9" r="4.2" fill="#d0d0d0" stroke="#888888" stroke-width="1.4"/><circle cx="1373.8" cy="981.0" r="4.6" fill="#d0d0d0" stroke="#888888" stroke-width="1.4"/><line x1="1033.0" y1="977.75" x2="1743.0" y2="977.75" stroke="#5e5e5e" stroke-width="4.9" stroke-dasharray="1.6 2.77"/><path d="M1086.6,977.65 L1088.6,978.27 L1090.6,978.89 L1092.6,979.51 L1094.6,980.13 L1096.6,980.75 L1098.6,981.37 L1100.6,982.00 L1102.6,982.62 L1104.6,983.25 L1106.6,983.87 L1108.6,984.50 L1110.6,985.13 L1112.6,985.76 L1114.6,986.38 L1116.6,987.01 L1118.6,987.64 L1120.6,988.27 L1122.6,988.90 L1124.6,989.53 L1126.6,990.16 L1128.6,990.79 L1130.6,991.41 L1132.6,992.04 L1134.6,992.67 L1136.6,993.30 L1138.6,993.92 L1140.6,994.55 L1142.6,995.18 L1144.6,995.80 L1146.6,996.42 L1148.6,997.05 L1150.6,997.67 L1152.6,998.29 L1154.6,998.91 L1156.6,999.52 L1158.6,1000.14 L1160.6,1000.76 L1162.6,1001.37 L1164.6,1001.98 L1166.6,1002.59 L1168.6,1003.20 L1170.6,1003.81 L1172.6,1004.41 L1174.6,1005.01 L1176.6,1005.61 L1178.6,1006.21 L1180.6,1006.81 L1182.6,1007.40 L1184.6,1007.99 L1186.6,1008.58 L1188.6,1009.17 L1190.6,1009.75 L1192.6,1010.33 L1194.6,1010.91 L1196.6,1011.49 L1198.6,1012.06 L1200.6,1012.63 L1202.6,1013.19 L1204.6,1013.76 L1206.6,1014.31 L1208.6,1014.87 L1210.6,1015.42 L1212.6,1015.97 L1214.6,1016.52 L1216.6,1017.06 L1218.6,1017.60 L1220.6,1018.13 L1222.6,1018.66 L1224.6,1019.19 L1226.6,1019.71 L1228.6,1020.23 L1230.6,1020.74 L1232.6,1021.25 L1234.6,1021.75 L1236.6,1022.25 L1238.6,1022.75 L1240.6,1023.24 L1242.6,1023.73 L1244.6,1024.21 L1246.6,1024.68 L1248.6,1025.16 L1250.6,1025.62 L1252.6,1026.08 L1254.6,1026.54 L1256.6,1026.99 L1258.6,1027.43 L1260.6,1027.87 L1262.6,1028.31 L1264.6,1028.74 L1266.6,1029.16 L1268.6,1029.58 L1270.6,1029.99 L1272.6,1030.39 L1274.6,1030.79 L1276.6,1031.19 L1278.6,1031.57 L1280.6,1031.95 L1282.6,1032.33 L1284.6,1032.70 L1286.6,1033.06 L1288.6,1033.41 L1290.6,1033.76 L1292.6,1034.10 L1294.6,1034.44 L1296.6,1034.76 L1298.6,1035.08 L1300.6,1035.40 L1302.6,1035.70 L1304.6,1036.00 L1306.6,1036.29 L1308.6,1036.58 L1310.6,1036.86 L1312.6,1037.12 L1314.6,1037.39 L1316.6,1037.64 L1318.6,1037.89 L1320.6,1038.13 L1322.6,1038.36 L1324.6,1038.58 L1326.6,1038.80 L1328.6,1039.01 L1330.6,1039.21 L1332.6,1039.41 L1334.6,1039.60 L1336.6,1039.78 L1338.6,1039.96 L1340.6,1040.13 L1342.6,1040.29 L1344.6,1040.45 L1346.6,1040.60 L1348.6,1040.75 L1350.6,1040.89 L1352.6,1041.02 L1354.6,1041.15 L1356.6,1041.28 L1358.6,1041.40 L1360.6,1041.51 L1362.6,1041.62 L1364.6,1041.72 L1366.6,1041.82 L1368.6,1041.92 L1370.6,1042.01 L1372.6,1042.09 L1374.6,1042.17 L1376.6,1042.25 L1378.6,1042.32 L1380.6,1042.39 L1382.6,1042.46 L1384.6,1042.52 L1386.6,1042.58 L1388.6,1042.63 L1390.6,1042.68 L1392.6,1042.73 L1394.6,1042.78 L1396.6,1042.82 L1398.6,1042.86 L1400.6,1042.89 L1402.6,1042.92 L1404.6,1042.96 L1406.6,1042.98 L1408.6,1043.01 L1410.6,1043.03 L1412.6,1043.06 L1414.6,1043.08 L1416.6,1043.09 L1418.6,1043.11 L1420.6,1043.13 L1422.6,1043.14 L1424.6,1043.15 L1426.6,1043.16 L1428.6,1043.17 L1430.6,1043.18 L1432.6,1043.19 L1434.6,1043.20 L1436.6,1043.20 L1438.6,1043.21 L1440.6,1043.22 L1442.6,1043.22 L1444.6,1043.23 L1446.6,1043.23 L1448.6,1043.24 L1450.6,1043.24 L1452.6,1043.25 L1454.6,1043.26 L1456.6,1043.26 L1458.6,1043.27 L1460.6,1043.28 L1462.6,1043.29 L1464.6,1043.30 L1466.6,1043.31 L1468.6,1043.32 L1470.6,1043.34 L1472.6,1043.35 L1474.6,1043.37 L1476.6,1043.39 L1478.6,1043.41 L1480.6,1043.43 L1482.6,1043.46 L1484.6,1043.48 L1486.6,1043.51 L1488.6,1043.54 L1490.6,1043.57 L1492.6,1043.61 L1494.6,1043.64 L1496.6,1043.68 L1498.6,1043.72 L1500.6,1043.76 L1502.6,1043.80 L1504.6,1043.84 L1506.6,1043.89 L1508.6,1043.93 L1510.6,1043.98 L1512.6,1044.03 L1514.6,1044.08 L1516.6,1044.14 L1518.6,1044.19 L1520.6,1044.25 L1522.6,1044.30 L1524.6,1044.36 L1526.6,1044.42 L1528.6,1044.48 L1530.6,1044.54 L1532.6,1044.61 L1534.6,1044.67 L1536.6,1044.74 L1538.6,1044.81 L1540.6,1044.87 L1542.6,1044.94 L1544.6,1045.02 L1546.6,1045.09 L1548.6,1045.16 L1550.6,1045.24 L1552.6,1045.31 L1554.6,1045.39 L1556.6,1045.47 L1558.6,1045.54 L1560.6,1045.62 L1562.6,1045.70 L1564.6,1045.79 L1566.6,1045.87 L1568.6,1045.95 L1570.6,1046.04 L1572.6,1046.12 L1574.6,1046.21 L1576.6,1046.29 L1578.6,1046.38 L1580.6,1046.47 L1582.6,1046.56 L1584.6,1046.65 L1586.6,1046.74 L1588.6,1046.83 L1590.6,1046.92 L1592.6,1047.01 L1594.6,1047.11 L1596.6,1047.20 L1598.6,1047.30 L1600.6,1047.39 L1602.6,1047.49 L1604.6,1047.58 L1606.6,1047.68 L1608.6,1047.78 L1610.6,1047.87 L1612.6,1047.97 L1614.6,1048.07 L1616.6,1048.17 L1618.6,1048.27 L1620.6,1048.37 L1622.6,1048.47 L1624.6,1048.57 L1626.6,1048.67 L1628.6,1048.77 L1630.6,1048.87 L1632.6,1048.97 L1634.6,1049.07 L1636.6,1049.17 L1638.6,1049.27 L1640.6,1049.37 L1642.6,1049.48 L1644.6,1049.58 L1646.6,1049.68 L1648.6,1049.78 L1650.6,1049.88 L1652.6,1049.98 L1654.6,1050.09 L1656.6,1050.19 L1658.6,1050.29 L1660.6,1050.39 L1662.6,1050.49 L1664.6,1050.59 L1666.6,1050.69 L1668.6,1050.80 L1670.6,1050.90 L1672.6,1051.00 L1674.6,1051.10 L1676.6,1051.20 L1678.6,1051.30 L1680.6,1051.40 L1682.6,1051.50 L1684.6,1051.59 L1686.6,1051.69 L1688.6,1051.79 L1690.6,1051.89 L1692.6,1051.98 L1694.6,1052.08 L1696.6,1052.18 L1698.6,1052.27 L1700.6,1052.37 L1702.6,1052.46 L1704.6,1052.56 L1706.6,1052.65 L1708.6,1052.74 L1710.6,1052.83 L1712.6,1052.93 L1714.6,1053.02 L1716.6,1053.11 L1718.6,1053.20 L1720.6,1053.28 L1722.6,1053.37 L1724.6,1053.46 L1726.6,1053.54 L1728.6,1053.63 L1730.6,1053.71 L1731.5,1053.75" fill="none" stroke="#000" stroke-width="2.1" stroke-dasharray="8.2 4.1"/><path d="M1086.6,977.61 L1088.6,977.19 L1090.6,976.76 L1092.6,976.34 L1094.6,975.92 L1096.6,975.49 L1098.6,975.07 L1100.6,974.65 L1102.6,974.23 L1104.6,973.81 L1106.6,973.39 L1108.6,972.97 L1110.6,972.55 L1112.6,972.13 L1114.6,971.72 L1116.6,971.30 L1118.6,970.88 L1120.6,970.46 L1122.6,970.04 L1124.6,969.62 L1126.6,969.20 L1128.6,968.79 L1130.6,968.37 L1132.6,967.95 L1134.6,967.53 L1136.6,967.11 L1138.6,966.68 L1140.6,966.26 L1142.6,965.84 L1144.6,965.42 L1146.6,964.99 L1148.6,964.57 L1150.6,964.14 L1152.6,963.72 L1154.6,963.29 L1156.6,962.86 L1158.6,962.43 L1160.6,962.00 L1162.6,961.56 L1164.6,961.13 L1166.6,960.70 L1168.6,960.26 L1170.6,959.82 L1172.6,959.38 L1174.6,958.94 L1176.6,958.50 L1178.6,958.05 L1180.6,957.60 L1182.6,957.16 L1184.6,956.70 L1186.6,956.25 L1188.6,955.80 L1190.6,955.34 L1192.6,954.88 L1194.6,954.42 L1196.6,953.96 L1198.6,953.49 L1200.6,953.02 L1202.6,952.55 L1204.6,952.08 L1206.6,951.60 L1208.6,951.12 L1210.6,950.64 L1212.6,950.15 L1214.6,949.67 L1216.6,949.18 L1218.6,948.68 L1220.6,948.19 L1222.6,947.69 L1224.6,947.18 L1226.6,946.68 L1228.6,946.17 L1230.6,945.66 L1232.6,945.14 L1234.6,944.62 L1236.6,944.10 L1238.6,943.57 L1240.6,943.04 L1242.6,942.51 L1244.6,941.97 L1246.6,941.43 L1248.6,940.88 L1250.6,940.33 L1252.6,939.78 L1254.6,939.22 L1256.6,938.66 L1258.6,938.09 L1260.6,937.52 L1262.6,936.95 L1264.6,936.37 L1266.6,935.79 L1268.6,935.20 L1270.6,934.60 L1272.6,934.01 L1274.6,933.41 L1276.6,932.80 L1278.6,932.19 L1280.6,931.57 L1282.6,930.95 L1284.6,930.32 L1286.6,929.69 L1288.6,929.05 L1290.6,928.41 L1292.6,927.77 L1294.6,927.11 L1296.6,926.46 L1298.6,925.79 L1300.6,925.12 L1302.6,924.45 L1304.6,923.77 L1306.6,923.08 L1308.6,922.39 L1310.6,921.70 L1312.6,920.99 L1314.6,920.28 L1316.6,919.57 L1318.6,918.85 L1320.6,918.12 L1322.6,917.39 L1324.6,916.65 L1326.6,915.90 L1328.6,915.15 L1330.6,914.39 L1332.6,913.63 L1334.6,912.86 L1336.6,912.08 L1338.6,911.29 L1340.6,910.50 L1342.6,909.70 L1344.6,908.90 L1346.6,908.09 L1348.6,907.27 L1350.6,906.44 L1352.6,905.61 L1354.6,904.77 L1356.6,903.92 L1358.6,903.06 L1360.6,902.20 L1362.6,901.33 L1364.6,900.46 L1366.6,899.57 L1368.6,898.68 L1370.6,897.78 L1372.6,896.87 L1374.6,895.96 L1376.6,895.04 L1378.6,894.10 L1380.6,893.17 L1382.6,892.22 L1384.6,891.27 L1386.6,890.30 L1388.6,889.33 L1390.6,888.36 L1392.6,887.37 L1394.6,886.38 L1396.6,885.38 L1398.6,884.38 L1400.6,883.37 L1402.6,882.35 L1404.6,881.32 L1406.6,880.29 L1408.6,879.26 L1410.6,878.21 L1412.6,877.16 L1414.6,876.11 L1416.6,875.05 L1418.6,873.98 L1420.6,872.91 L1422.6,871.83 L1424.6,870.75 L1426.6,869.66 L1428.6,868.57 L1430.6,867.47 L1432.6,866.37 L1434.6,865.26 L1436.6,864.15 L1438.6,863.03 L1440.6,861.91 L1442.6,860.79 L1444.6,859.66 L1446.6,858.53 L1448.6,857.39 L1450.6,856.25 L1452.6,855.11 L1454.6,853.96 L1456.6,852.81 L1458.6,851.66 L1460.6,850.51 L1462.6,849.35 L1464.6,848.19 L1466.6,847.02 L1468.6,845.86 L1470.6,844.69 L1472.6,843.52 L1474.6,842.34 L1476.6,841.17 L1478.6,839.99 L1480.6,838.81 L1482.6,837.63 L1484.6,836.45 L1486.6,835.27 L1488.6,834.08 L1490.6,832.90 L1492.6,831.71 L1494.6,830.52 L1496.6,829.33 L1498.6,828.14 L1500.6,826.95 L1502.6,825.76 L1504.6,824.57 L1506.6,823.38 L1508.6,822.19 L1510.6,821.00 L1512.6,819.81 L1514.6,818.62 L1516.6,817.43 L1518.6,816.24 L1520.6,815.06 L1522.6,813.87 L1524.6,812.68 L1526.6,811.50 L1528.6,810.32 L1530.6,809.13 L1532.6,807.95 L1534.6,806.77 L1536.6,805.60 L1538.6,804.42 L1540.6,803.25 L1542.6,802.07 L1544.6,800.90 L1546.6,799.74 L1548.6,798.57 L1550.6,797.41 L1552.6,796.25 L1554.6,795.09 L1556.6,793.93 L1558.6,792.77 L1560.6,791.61 L1562.6,790.46 L1564.6,789.31 L1566.6,788.16 L1568.6,787.01 L1570.6,785.86 L1572.6,784.71 L1574.6,783.57 L1576.6,782.42 L1578.6,781.28 L1580.6,780.13 L1582.6,778.99 L1584.6,777.85 L1586.6,776.71 L1588.6,775.57 L1590.6,774.43 L1592.6,773.29 L1594.6,772.15 L1596.6,771.02 L1598.6,769.88 L1600.6,768.74 L1602.6,767.61 L1604.6,766.47 L1606.6,765.33 L1608.6,764.20 L1610.6,763.06 L1612.6,761.93 L1614.6,760.79 L1616.6,759.66 L1618.6,758.52 L1620.6,757.38 L1622.6,756.25 L1624.6,755.11 L1626.6,753.97 L1628.6,752.83 L1630.6,751.70 L1632.6,750.56 L1634.6,749.42 L1636.6,748.28 L1638.6,747.14 L1640.6,745.99 L1642.6,744.85 L1644.6,743.71 L1646.6,742.56 L1648.6,741.42 L1650.6,740.27 L1652.6,739.12 L1654.6,737.97 L1656.6,736.82 L1658.6,735.67 L1660.6,734.52 L1662.6,733.36 L1664.6,732.21 L1666.6,731.05 L1668.6,729.89 L1670.6,728.73 L1672.6,727.56 L1674.6,726.40 L1676.6,725.23 L1678.6,724.06 L1680.6,722.89 L1682.6,721.72 L1684.6,720.54 L1686.6,719.37 L1688.6,718.19 L1690.6,717.01 L1692.6,715.82 L1694.6,714.63 L1696.6,713.44 L1698.6,712.25 L1700.6,711.06 L1702.6,709.86 L1704.6,708.66 L1706.6,707.46 L1708.6,706.25 L1710.6,705.04 L1712.6,703.83 L1714.6,702.62 L1716.6,701.40 L1718.6,700.18 L1720.6,698.96 L1722.6,697.73 L1724.6,696.50 L1726.6,695.26 L1728.6,694.03 L1730.6,692.79 L1731.0,692.54" fill="none" stroke="#000" stroke-width="2.1" stroke-dasharray="8.2 4.1"/><path d="M1086.6,977.65 L1088.6,977.85 L1090.6,978.05 L1092.6,978.24 L1094.6,978.44 L1096.6,978.63 L1098.6,978.82 L1100.6,979.01 L1102.6,979.20 L1104.6,979.39 L1106.6,979.57 L1108.6,979.75 L1110.6,979.93 L1112.6,980.10 L1114.6,980.27 L1116.6,980.45 L1118.6,980.61 L1120.6,980.78 L1122.6,980.94 L1124.6,981.10 L1126.6,981.26 L1128.6,981.42 L1130.6,981.57 L1132.6,981.72 L1134.6,981.87 L1136.6,982.01 L1138.6,982.15 L1140.6,982.29 L1142.6,982.43 L1144.6,982.56 L1146.6,982.69 L1148.6,982.82 L1150.6,982.94 L1152.6,983.06 L1154.6,983.18 L1156.6,983.30 L1158.6,983.41 L1160.6,983.51 L1162.6,983.62 L1164.6,983.72 L1166.6,983.82 L1168.6,983.91 L1170.6,984.01 L1172.6,984.09 L1174.6,984.18 L1176.6,984.26 L1178.6,984.34 L1180.6,984.41 L1182.6,984.48 L1184.6,984.55 L1186.6,984.61 L1188.6,984.67 L1190.6,984.72 L1192.6,984.77 L1194.6,984.82 L1196.6,984.86 L1198.6,984.90 L1200.6,984.94 L1202.6,984.97 L1204.6,985.00 L1206.6,985.02 L1208.6,985.04 L1210.6,985.06 L1212.6,985.07 L1214.6,985.07 L1216.6,985.07 L1218.6,985.07 L1220.6,985.07 L1222.6,985.06 L1224.6,985.04 L1226.6,985.02 L1228.6,985.00 L1230.6,984.97 L1232.6,984.93 L1234.6,984.90 L1236.6,984.85 L1238.6,984.81 L1240.6,984.75 L1242.6,984.70 L1244.6,984.63 L1246.6,984.57 L1248.6,984.50 L1250.6,984.42 L1252.6,984.34 L1254.6,984.25 L1256.6,984.16 L1258.6,984.07 L1260.6,983.96 L1262.6,983.86 L1264.6,983.75 L1266.6,983.63 L1268.6,983.51 L1270.6,983.38 L1272.6,983.25 L1274.6,983.11 L1276.6,982.96 L1278.6,982.81 L1280.6,982.66 L1282.6,982.50 L1284.6,982.33 L1286.6,982.16 L1288.6,981.99 L1290.6,981.80 L1292.6,981.62 L1294.6,981.42 L1296.6,981.22 L1298.6,981.02 L1300.6,980.80 L1302.6,980.59 L1304.6,980.36 L1306.6,980.14 L1308.6,979.90 L1310.6,979.66 L1312.6,979.41 L1314.6,979.16 L1316.6,978.90 L1318.6,978.63 L1320.6,978.36 L1322.6,978.08 L1324.6,977.80 L1326.6,977.51 L1328.6,977.21 L1330.6,976.91 L1332.6,976.60 L1334.6,976.28 L1336.6,975.96 L1338.6,975.63 L1340.6,975.29 L1342.6,974.95 L1344.6,974.60 L1346.6,974.24 L1348.6,973.88 L1350.6,973.51 L1352.6,973.14 L1354.6,972.76 L1356.6,972.37 L1358.6,971.98 L1360.6,971.58 L1362.6,971.17 L1364.6,970.76 L1366.6,970.35 L1368.6,969.93 L1370.6,969.50 L1372.6,969.07 L1374.6,968.63 L1376.6,968.19 L1378.6,967.74 L1380.6,967.29 L1382.6,966.84 L1384.6,966.37 L1386.6,965.91 L1388.6,965.44 L1390.6,964.96 L1392.6,964.48 L1394.6,964.00 L1396.6,963.51 L1398.6,963.01 L1400.6,962.52 L1402.6,962.02 L1404.6,961.51 L1406.6,961.00 L1408.6,960.49 L1410.6,959.97 L1412.6,959.45 L1414.6,958.93 L1416.6,958.40 L1418.6,957.87 L1420.6,957.34 L1422.6,956.80 L1424.6,956.26 L1426.6,955.72 L1428.6,955.17 L1430.6,954.62 L1432.6,954.07 L1434.6,953.52 L1436.6,952.96 L1438.6,952.40 L1440.6,951.84 L1442.6,951.28 L1444.6,950.71 L1446.6,950.14 L1448.6,949.57 L1450.6,949.00 L1452.6,948.43 L1454.6,947.85 L1456.6,947.27 L1458.6,946.69 L1460.6,946.11 L1462.6,945.53 L1464.6,944.95 L1466.6,944.36 L1468.6,943.77 L1470.6,943.19 L1472.6,942.60 L1474.6,942.01 L1476.6,941.42 L1478.6,940.83 L1480.6,940.24 L1482.6,939.64 L1484.6,939.05 L1486.6,938.46 L1488.6,937.86 L1490.6,937.27 L1492.6,936.67 L1494.6,936.08 L1496.6,935.49 L1498.6,934.89 L1500.6,934.30 L1502.6,933.70 L1504.6,933.11 L1506.6,932.52 L1508.6,931.92 L1510.6,931.33 L1512.6,930.74 L1514.6,930.15 L1516.6,929.56 L1518.6,928.97 L1520.6,928.38 L1522.6,927.79 L1524.6,927.21 L1526.6,926.62 L1528.6,926.04 L1530.6,925.46 L1532.6,924.88 L1534.6,924.30 L1536.6,923.72 L1538.6,923.15 L1540.6,922.57 L1542.6,922.00 L1544.6,921.43 L1546.6,920.86 L1548.6,920.29 L1550.6,919.72 L1552.6,919.16 L1554.6,918.59 L1556.6,918.03 L1558.6,917.47 L1560.6,916.90 L1562.6,916.35 L1564.6,915.79 L1566.6,915.23 L1568.6,914.68 L1570.6,914.12 L1572.6,913.57 L1574.6,913.02 L1576.6,912.47 L1578.6,911.92 L1580.6,911.37 L1582.6,910.82 L1584.6,910.28 L1586.6,909.73 L1588.6,909.19 L1590.6,908.65 L1592.6,908.10 L1594.6,907.56 L1596.6,907.02 L1598.6,906.49 L1600.6,905.95 L1602.6,905.41 L1604.6,904.88 L1606.6,904.35 L1608.6,903.81 L1610.6,903.28 L1612.6,902.75 L1614.6,902.22 L1616.6,901.69 L1618.6,901.17 L1620.6,900.64 L1622.6,900.11 L1624.6,899.59 L1626.6,899.07 L1628.6,898.54 L1630.6,898.02 L1632.6,897.50 L1634.6,896.98 L1636.6,896.46 L1638.6,895.94 L1640.6,895.42 L1642.6,894.91 L1644.6,894.39 L1646.6,893.88 L1648.6,893.36 L1650.6,892.85 L1652.6,892.34 L1654.6,891.82 L1656.6,891.31 L1658.6,890.80 L1660.6,890.29 L1662.6,889.78 L1664.6,889.28 L1666.6,888.77 L1668.6,888.26 L1670.6,887.75 L1672.6,887.25 L1674.6,886.74 L1676.6,886.24 L1678.6,885.74 L1680.6,885.23 L1682.6,884.73 L1684.6,884.23 L1686.6,883.73 L1688.6,883.23 L1690.6,882.73 L1692.6,882.23 L1694.6,881.73 L1696.6,881.23 L1698.6,880.73 L1700.6,880.23 L1702.6,879.74 L1704.6,879.24 L1706.6,878.74 L1708.6,878.25 L1710.6,877.75 L1712.6,877.26 L1714.6,876.76 L1716.6,876.27 L1718.6,875.77 L1720.6,875.28 L1722.6,874.79 L1724.6,874.30 L1726.6,873.80 L1728.6,873.31 L1730.6,872.82 L1731.0,872.72" fill="none" stroke="#000" stroke-width="2.0"/><path d="M1029.25,677.50 V1202.50 H1744.75" fill="none" stroke="#000" stroke-width="1.4" stroke-linejoin="round"/><line x1="1020.75" y1="1121.02" x2="1029.25" y2="1121.02" stroke="#000" stroke-width="1.5" stroke-linecap="round"/><text x="1014.75" y="1132.02" text-anchor="end">0.5</text><line x1="1020.75" y1="977.75" x2="1029.25" y2="977.75" stroke="#000" stroke-width="1.5" stroke-linecap="round"/><text x="1014.75" y="988.75" text-anchor="end">1</text><line x1="1020.75" y1="834.48" x2="1029.25" y2="834.48" stroke="#000" stroke-width="1.5" stroke-linecap="round"/><text x="1014.75" y="845.48" text-anchor="end">2</text><line x1="1020.75" y1="691.20" x2="1029.25" y2="691.20" stroke="#000" stroke-width="1.5" stroke-linecap="round"/><text x="1014.75" y="702.20" text-anchor="end">4</text><line x1="1042.25" y1="1202.50" x2="1042.25" y2="1211.00" stroke="#000" stroke-width="1.5" stroke-linecap="round"/><text x="1042.25" y="1237.50" text-anchor="middle">0</text><line x1="1214.75" y1="1202.50" x2="1214.75" y2="1211.00" stroke="#000" stroke-width="1.5" stroke-linecap="round"/><text x="1214.75" y="1237.50" text-anchor="middle">200</text><line x1="1387.25" y1="1202.50" x2="1387.25" y2="1211.00" stroke="#000" stroke-width="1.5" stroke-linecap="round"/><text x="1387.25" y="1237.50" text-anchor="middle">400</text><line x1="1559.75" y1="1202.50" x2="1559.75" y2="1211.00" stroke="#000" stroke-width="1.5" stroke-linecap="round"/><text x="1559.75" y="1237.50" text-anchor="middle">600</text><line x1="1732.25" y1="1202.50" x2="1732.25" y2="1211.00" stroke="#000" stroke-width="1.5" stroke-linecap="round"/><text x="1732.25" y="1237.50" text-anchor="middle">800</text><text x="1387.25" y="1277.50" text-anchor="middle" font-size="30.3">Cholesterol intake, mg/day</text><text transform="translate(949.75,947.10) rotate(-90)" text-anchor="middle" font-size="30.2">RR of CVD mortality</text></g>
<g><circle cx="126.9" cy="1723.4" r="31.7" fill="none" stroke="#bbbbbb" stroke-width="1.55"/><circle cx="157.9" cy="1713.5" r="34.6" fill="none" stroke="#bbbbbb" stroke-width="1.55"/><circle cx="196.0" cy="1712.1" r="33.9" fill="none" stroke="#bbbbbb" stroke-width="1.55"/><circle cx="290.5" cy="1700.1" r="31.0" fill="none" stroke="#bbbbbb" stroke-width="1.55"/><circle cx="143.1" cy="1734.6" r="14.1" fill="none" stroke="#bbbbbb" stroke-width="1.55"/><circle cx="179.1" cy="1734.6" r="13.4" fill="none" stroke="#bbbbbb" stroke-width="1.55"/><circle cx="215.7" cy="1722.0" r="12.5" fill="none" stroke="#bbbbbb" stroke-width="1.55"/><circle cx="215.7" cy="1731.0" r="9.5" fill="none" stroke="#bbbbbb" stroke-width="1.55"/><circle cx="262.7" cy="1675.1" r="3.5" fill="none" stroke="#bbbbbb" stroke-width="1.55"/><circle cx="262.7" cy="1702.2" r="4.0" fill="none" stroke="#bbbbbb" stroke-width="1.55"/><circle cx="325.5" cy="1701.9" r="4.0" fill="none" stroke="#bbbbbb" stroke-width="1.55"/><circle cx="288.7" cy="1731.8" r="2.1" fill="none" stroke="#bbbbbb" stroke-width="1.55"/><circle cx="237.6" cy="1741.7" r="3.5" fill="none" stroke="#bbbbbb" stroke-width="1.55"/><circle cx="288.7" cy="1756.9" r="4.2" fill="none" stroke="#bbbbbb" stroke-width="1.55"/><circle cx="288.7" cy="1762.2" r="3.1" fill="none" stroke="#bbbbbb" stroke-width="1.55"/><circle cx="184.7" cy="1769.9" r="2.5" fill="none" stroke="#bbbbbb" stroke-width="1.55"/><circle cx="128.7" cy="1786.9" r="5.6" fill="none" stroke="#bbbbbb" stroke-width="1.55"/><circle cx="262.3" cy="1784.0" r="5.4" fill="none" stroke="#bbbbbb" stroke-width="1.55"/><circle cx="281.1" cy="1786.9" r="5.6" fill="none" stroke="#bbbbbb" stroke-width="1.55"/><circle cx="209.8" cy="1796.0" r="5.4" fill="none" stroke="#bbbbbb" stroke-width="1.55"/><circle cx="288.7" cy="1802.0" r="1.7" fill="#c4c4c4" stroke="#bdbdbd" stroke-width="1.2"/><circle cx="158.3" cy="1814.4" r="5.2" fill="none" stroke="#bbbbbb" stroke-width="1.55"/><circle cx="361.2" cy="1706.2" r="7.5" fill="none" stroke="#bbbbbb" stroke-width="1.55"/><circle cx="361.2" cy="1735.0" r="11.2" fill="none" stroke="#bbbbbb" stroke-width="1.55"/><circle cx="366.4" cy="1638.4" r="2.6" fill="none" stroke="#bbbbbb" stroke-width="1.55"/><circle cx="401.6" cy="1638.4" r="2.6" fill="none" stroke="#bbbbbb" stroke-width="1.55"/><circle cx="418.6" cy="1641.4" r="2.6" fill="none" stroke="#bbbbbb" stroke-width="1.55"/><circle cx="288.8" cy="1644.5" r="1.8" fill="#c4c4c4" stroke="#bdbdbd" stroke-width="1.2"/><circle cx="184.5" cy="1638.2" r="1.8" fill="#c4c4c4" stroke="#bdbdbd" stroke-width="1.2"/><circle cx="236.2" cy="1632.5" r="1.8" fill="#c4c4c4" stroke="#bdbdbd" stroke-width="1.2"/><circle cx="418.2" cy="1738.8" r="3.0" fill="none" stroke="#bbbbbb" stroke-width="1.55"/><circle cx="470.5" cy="1718.8" r="5.0" fill="none" stroke="#bbbbbb" stroke-width="1.55"/><circle cx="470.5" cy="1727.5" r="3.0" fill="none" stroke="#bbbbbb" stroke-width="1.55"/><circle cx="470.5" cy="1632.0" r="2.0" fill="none" stroke="#bbbbbb" stroke-width="1.55"/><circle cx="470.5" cy="1599.7" r="1.8" fill="#c4c4c4" stroke="#bdbdbd" stroke-width="1.2"/><circle cx="574.2" cy="1762.0" r="3.2" fill="none" stroke="#bbbbbb" stroke-width="1.55"/><circle cx="470.5" cy="1786.8" r="2.0" fill="none" stroke="#bbbbbb" stroke-width="1.55"/><circle cx="470.5" cy="1838.8" r="2.0" fill="none" stroke="#bbbbbb" stroke-width="1.55"/><circle cx="340.6" cy="1524.9" r="1.8" fill="#c4c4c4" stroke="#bdbdbd" stroke-width="1.2"/><circle cx="834.7" cy="1357.0" r="1.5" fill="#c4c4c4" stroke="#bdbdbd" stroke-width="1.2"/><circle cx="834.7" cy="1554.2" r="1.5" fill="#c4c4c4" stroke="#bdbdbd" stroke-width="1.2"/><circle cx="106.4" cy="1736.8" r="4.9" fill="#d0d0d0" stroke="#888888" stroke-width="1.4"/><circle cx="109.9" cy="1738.9" r="5.6" fill="#d0d0d0" stroke="#888888" stroke-width="1.4"/><circle cx="111.3" cy="1736.1" r="4.9" fill="#d0d0d0" stroke="#888888" stroke-width="1.4"/><circle cx="125.4" cy="1733.2" r="4.9" fill="#d0d0d0" stroke="#888888" stroke-width="1.4"/><circle cx="130.4" cy="1741.7" r="4.9" fill="#d0d0d0" stroke="#888888" stroke-width="1.4"/><circle cx="152.3" cy="1731.8" r="4.2" fill="#d0d0d0" stroke="#888888" stroke-width="1.4"/><circle cx="159.3" cy="1740.3" r="5.4" fill="#d0d0d0" stroke="#888888" stroke-width="1.4"/><circle cx="186.8" cy="1736.8" r="5.6" fill="#d0d0d0" stroke="#888888" stroke-width="1.4"/><circle cx="191.8" cy="1738.2" r="4.2" fill="#d0d0d0" stroke="#888888" stroke-width="1.4"/><line x1="95.0" y1="1737.00" x2="848.0" y2="1737.00" stroke="#5e5e5e" stroke-width="4.9" stroke-dasharray="1.6 2.77"/><path d="M107.1,1737.57 L109.1,1737.77 L111.1,1737.96 L113.1,1738.15 L115.1,1738.33 L117.1,1738.50 L119.1,1738.66 L121.1,1738.83 L123.1,1738.98 L125.1,1739.13 L127.1,1739.27 L129.1,1739.41 L131.1,1739.54 L133.1,1739.67 L135.1,1739.79 L137.1,1739.90 L139.1,1740.01 L141.1,1740.12 L143.1,1740.22 L145.1,1740.31 L147.1,1740.40 L149.1,1740.48 L151.1,1740.56 L153.1,1740.63 L155.1,1740.70 L157.1,1740.76 L159.1,1740.82 L161.1,1740.87 L163.1,1740.92 L165.1,1740.96 L167.1,1741.00 L169.1,1741.04 L171.1,1741.07 L173.1,1741.09 L175.1,1741.11 L177.1,1741.13 L179.1,1741.14 L181.1,1741.15 L183.1,1741.15 L185.1,1741.15 L187.1,1741.15 L189.1,1741.14 L191.1,1741.12 L193.1,1741.11 L195.1,1741.09 L197.1,1741.06 L199.1,1741.03 L201.1,1741.00 L203.1,1740.97 L205.1,1740.93 L207.1,1740.88 L209.1,1740.84 L211.1,1740.79 L213.1,1740.73 L215.1,1740.68 L217.1,1740.62 L219.1,1740.55 L221.1,1740.49 L223.1,1740.42 L225.1,1740.35 L227.1,1740.27 L229.1,1740.19 L231.1,1740.11 L233.1,1740.03 L235.1,1739.94 L237.1,1739.85 L239.1,1739.76 L241.1,1739.66 L243.1,1739.57 L245.1,1739.47 L247.1,1739.36 L249.1,1739.26 L251.1,1739.15 L253.1,1739.04 L255.1,1738.93 L257.1,1738.82 L259.1,1738.70 L261.1,1738.59 L263.1,1738.47 L265.1,1738.34 L267.1,1738.22 L269.1,1738.10 L271.1,1737.97 L273.1,1737.84 L275.1,1737.71 L277.1,1737.58 L279.1,1737.45 L281.1,1737.31 L283.1,1737.17 L285.1,1737.04 L287.1,1736.90 L289.1,1736.76 L291.1,1736.62 L293.1,1736.47 L295.1,1736.33 L297.1,1736.19 L299.1,1736.04 L301.1,1735.90 L303.1,1735.75 L305.1,1735.60 L307.1,1735.45 L309.1,1735.30 L311.1,1735.15 L313.1,1735.00 L315.1,1734.85 L317.1,1734.70 L319.1,1734.55 L321.1,1734.40 L323.1,1734.24 L325.1,1734.09 L327.1,1733.94 L329.1,1733.78 L331.1,1733.63 L333.1,1733.48 L335.1,1733.32 L337.1,1733.17 L339.1,1733.02 L341.1,1732.87 L343.1,1732.71 L345.1,1732.56 L347.1,1732.41 L349.1,1732.26 L351.1,1732.11 L353.1,1731.96 L355.1,1731.81 L357.1,1731.66 L359.1,1731.51 L361.1,1731.37 L363.1,1731.22 L365.1,1731.08 L367.1,1730.93 L369.1,1730.79 L371.1,1730.65 L373.1,1730.51 L375.1,1730.37 L377.1,1730.23 L379.1,1730.09 L381.1,1729.95 L383.1,1729.82 L385.1,1729.69 L387.1,1729.55 L389.1,1729.42 L391.1,1729.30 L393.1,1729.17 L395.1,1729.04 L397.1,1728.92 L399.1,1728.80 L401.1,1728.68 L403.1,1728.56 L405.1,1728.45 L407.1,1728.33 L409.1,1728.22 L411.1,1728.11 L413.1,1728.01 L415.1,1727.90 L417.1,1727.80 L419.1,1727.70 L421.1,1727.60 L423.1,1727.51 L425.1,1727.42 L427.1,1727.33 L429.1,1727.24 L431.1,1727.15 L433.1,1727.07 L435.1,1726.99 L437.1,1726.91 L439.1,1726.83 L441.1,1726.76 L443.1,1726.68 L445.1,1726.61 L447.1,1726.54 L449.1,1726.48 L451.1,1726.41 L453.1,1726.35 L455.1,1726.29 L457.1,1726.23 L459.1,1726.18 L461.1,1726.12 L463.1,1726.07 L465.1,1726.02 L467.1,1725.97 L469.1,1725.93 L471.1,1725.88 L473.1,1725.84 L475.1,1725.80 L477.1,1725.76 L479.1,1725.72 L481.1,1725.69 L483.1,1725.65 L485.1,1725.62 L487.1,1725.59 L489.1,1725.57 L491.1,1725.54 L493.1,1725.52 L495.1,1725.49 L497.1,1725.47 L499.1,1725.45 L501.1,1725.44 L503.1,1725.42 L505.1,1725.41 L507.1,1725.39 L509.1,1725.38 L511.1,1725.37 L513.1,1725.36 L515.1,1725.36 L517.1,1725.35 L519.1,1725.35 L521.1,1725.35 L523.1,1725.35 L525.1,1725.35 L527.1,1725.35 L529.1,1725.36 L531.1,1725.36 L533.1,1725.37 L535.1,1725.38 L537.1,1725.39 L539.1,1725.40 L541.1,1725.41 L543.1,1725.43 L545.1,1725.44 L547.1,1725.46 L549.1,1725.48 L551.1,1725.50 L553.1,1725.52 L555.1,1725.54 L557.1,1725.56 L559.1,1725.59 L561.1,1725.61 L563.1,1725.64 L565.1,1725.67 L567.1,1725.69 L569.1,1725.72 L571.1,1725.76 L573.1,1725.79 L575.1,1725.82 L577.1,1725.86 L579.1,1725.89 L581.1,1725.93 L583.1,1725.96 L585.1,1726.00 L587.1,1726.04 L589.1,1726.08 L591.1,1726.12 L593.1,1726.17 L595.1,1726.21 L597.1,1726.25 L599.1,1726.30 L601.1,1726.34 L603.1,1726.39 L605.1,1726.44 L607.1,1726.49 L609.1,1726.54 L611.1,1726.59 L613.1,1726.64 L615.1,1726.69 L617.1,1726.74 L619.1,1726.79 L621.1,1726.85 L623.1,1726.90 L625.1,1726.96 L627.1,1727.01 L629.1,1727.07 L631.1,1727.13 L633.1,1727.19 L635.1,1727.24 L637.1,1727.30 L639.1,1727.36 L641.1,1727.42 L643.1,1727.48 L645.1,1727.54 L647.1,1727.60 L649.1,1727.67 L651.1,1727.73 L653.1,1727.79 L655.1,1727.86 L657.1,1727.92 L659.1,1727.98 L661.1,1728.05 L663.1,1728.11 L665.1,1728.18 L667.1,1728.24 L669.1,1728.31 L671.1,1728.38 L673.1,1728.44 L675.1,1728.51 L677.1,1728.58 L679.1,1728.65 L681.1,1728.71 L683.1,1728.78 L685.1,1728.85 L687.1,1728.92 L689.1,1728.99 L691.1,1729.05 L693.1,1729.12 L695.1,1729.19 L697.1,1729.26 L699.1,1729.33 L701.1,1729.40 L703.1,1729.47 L705.1,1729.54 L707.1,1729.61 L709.1,1729.67 L711.1,1729.74 L713.1,1729.81 L715.1,1729.88 L717.1,1729.95 L719.1,1730.02 L721.1,1730.09 L723.1,1730.16 L725.1,1730.23 L727.1,1730.29 L729.1,1730.36 L731.1,1730.43 L733.1,1730.50 L735.1,1730.57 L737.1,1730.63 L739.1,1730.70 L741.1,1730.77 L743.1,1730.84 L745.1,1730.90 L747.1,1730.97 L749.1,1731.03 L751.1,1731.10 L753.1,1731.16 L755.1,1731.23 L757.1,1731.29 L759.1,1731.36 L761.1,1731.42 L763.1,1731.48 L765.1,1731.55 L767.1,1731.61 L769.1,1731.67 L771.1,1731.73 L773.1,1731.79 L775.1,1731.85 L777.1,1731.91 L779.1,1731.97 L781.1,1732.03 L783.1,1732.09 L785.1,1732.15 L787.1,1732.20 L789.1,1732.26 L791.1,1732.31 L793.1,1732.37 L795.1,1732.42 L797.1,1732.48 L799.1,1732.53 L801.1,1732.58 L803.1,1732.63 L805.1,1732.68 L807.1,1732.73 L809.1,1732.78 L811.1,1732.83 L813.1,1732.88 L815.1,1732.92 L817.1,1732.97 L819.1,1733.01 L821.1,1733.06 L823.1,1733.10 L825.1,1733.14 L827.1,1733.18 L829.1,1733.22 L831.1,1733.26 L833.1,1733.30 L834.3,1733.32" fill="none" stroke="#000" stroke-width="2.1" stroke-dasharray="8.2 4.1"/><path d="M107.1,1737.49 L109.1,1737.04 L111.1,1736.58 L113.1,1736.14 L115.1,1735.70 L117.1,1735.26 L119.1,1734.83 L121.1,1734.40 L123.1,1733.98 L125.1,1733.56 L127.1,1733.15 L129.1,1732.74 L131.1,1732.33 L133.1,1731.93 L135.1,1731.54 L137.1,1731.15 L139.1,1730.76 L141.1,1730.38 L143.1,1730.00 L145.1,1729.62 L147.1,1729.25 L149.1,1728.89 L151.1,1728.52 L153.1,1728.16 L155.1,1727.81 L157.1,1727.45 L159.1,1727.10 L161.1,1726.76 L163.1,1726.42 L165.1,1726.08 L167.1,1725.74 L169.1,1725.41 L171.1,1725.08 L173.1,1724.75 L175.1,1724.43 L177.1,1724.11 L179.1,1723.79 L181.1,1723.48 L183.1,1723.16 L185.1,1722.85 L187.1,1722.55 L189.1,1722.24 L191.1,1721.94 L193.1,1721.64 L195.1,1721.34 L197.1,1721.05 L199.1,1720.75 L201.1,1720.46 L203.1,1720.17 L205.1,1719.89 L207.1,1719.60 L209.1,1719.32 L211.1,1719.04 L213.1,1718.75 L215.1,1718.48 L217.1,1718.20 L219.1,1717.92 L221.1,1717.65 L223.1,1717.38 L225.1,1717.10 L227.1,1716.83 L229.1,1716.56 L231.1,1716.30 L233.1,1716.03 L235.1,1715.76 L237.1,1715.50 L239.1,1715.23 L241.1,1714.97 L243.1,1714.70 L245.1,1714.44 L247.1,1714.18 L249.1,1713.92 L251.1,1713.65 L253.1,1713.39 L255.1,1713.13 L257.1,1712.87 L259.1,1712.61 L261.1,1712.35 L263.1,1712.09 L265.1,1711.83 L267.1,1711.57 L269.1,1711.30 L271.1,1711.04 L273.1,1710.78 L275.1,1710.52 L277.1,1710.26 L279.1,1709.99 L281.1,1709.73 L283.1,1709.46 L285.1,1709.20 L287.1,1708.93 L289.1,1708.66 L291.1,1708.39 L293.1,1708.12 L295.1,1707.85 L297.1,1707.58 L299.1,1707.31 L301.1,1707.03 L303.1,1706.76 L305.1,1706.48 L307.1,1706.20 L309.1,1705.92 L311.1,1705.64 L313.1,1705.35 L315.1,1705.07 L317.1,1704.78 L319.1,1704.49 L321.1,1704.20 L323.1,1703.90 L325.1,1703.61 L327.1,1703.31 L329.1,1703.01 L331.1,1702.71 L333.1,1702.40 L335.1,1702.09 L337.1,1701.78 L339.1,1701.47 L341.1,1701.15 L343.1,1700.83 L345.1,1700.51 L347.1,1700.19 L349.1,1699.86 L351.1,1699.53 L353.1,1699.20 L355.1,1698.86 L357.1,1698.52 L359.1,1698.18 L361.1,1697.83 L363.1,1697.48 L365.1,1697.13 L367.1,1696.77 L369.1,1696.41 L371.1,1696.05 L373.1,1695.68 L375.1,1695.31 L377.1,1694.93 L379.1,1694.55 L381.1,1694.17 L383.1,1693.78 L385.1,1693.39 L387.1,1692.99 L389.1,1692.59 L391.1,1692.18 L393.1,1691.77 L395.1,1691.36 L397.1,1690.94 L399.1,1690.52 L401.1,1690.09 L403.1,1689.65 L405.1,1689.22 L407.1,1688.77 L409.1,1688.33 L411.1,1687.87 L413.1,1687.41 L415.1,1686.95 L417.1,1686.48 L419.1,1686.01 L421.1,1685.53 L423.1,1685.04 L425.1,1684.55 L427.1,1684.06 L429.1,1683.55 L431.1,1683.05 L433.1,1682.53 L435.1,1682.01 L437.1,1681.49 L439.1,1680.96 L441.1,1680.42 L443.1,1679.88 L445.1,1679.33 L447.1,1678.77 L449.1,1678.21 L451.1,1677.64 L453.1,1677.07 L455.1,1676.49 L457.1,1675.91 L459.1,1675.32 L461.1,1674.73 L463.1,1674.14 L465.1,1673.53 L467.1,1672.93 L469.1,1672.32 L471.1,1671.70 L473.1,1671.09 L475.1,1670.46 L477.1,1669.84 L479.1,1669.21 L481.1,1668.57 L483.1,1667.94 L485.1,1667.30 L487.1,1666.66 L489.1,1666.01 L491.1,1665.36 L493.1,1664.71 L495.1,1664.06 L497.1,1663.40 L499.1,1662.74 L501.1,1662.08 L503.1,1661.42 L505.1,1660.75 L507.1,1660.09 L509.1,1659.42 L511.1,1658.75 L513.1,1658.08 L515.1,1657.41 L517.1,1656.74 L519.1,1656.06 L521.1,1655.39 L523.1,1654.71 L525.1,1654.04 L527.1,1653.36 L529.1,1652.69 L531.1,1652.01 L533.1,1651.33 L535.1,1650.66 L537.1,1649.98 L539.1,1649.31 L541.1,1648.63 L543.1,1647.96 L545.1,1647.29 L547.1,1646.61 L549.1,1645.94 L551.1,1645.27 L553.1,1644.61 L555.1,1643.94 L557.1,1643.27 L559.1,1642.61 L561.1,1641.95 L563.1,1641.29 L565.1,1640.63 L567.1,1639.97 L569.1,1639.32 L571.1,1638.67 L573.1,1638.01 L575.1,1637.36 L577.1,1636.71 L579.1,1636.07 L581.1,1635.42 L583.1,1634.78 L585.1,1634.13 L587.1,1633.49 L589.1,1632.85 L591.1,1632.21 L593.1,1631.57 L595.1,1630.93 L597.1,1630.29 L599.1,1629.66 L601.1,1629.02 L603.1,1628.39 L605.1,1627.76 L607.1,1627.12 L609.1,1626.49 L611.1,1625.86 L613.1,1625.23 L615.1,1624.60 L617.1,1623.97 L619.1,1623.34 L621.1,1622.71 L623.1,1622.08 L625.1,1621.45 L627.1,1620.83 L629.1,1620.20 L631.1,1619.57 L633.1,1618.95 L635.1,1618.32 L637.1,1617.69 L639.1,1617.07 L641.1,1616.44 L643.1,1615.81 L645.1,1615.19 L647.1,1614.56 L649.1,1613.93 L651.1,1613.30 L653.1,1612.68 L655.1,1612.05 L657.1,1611.42 L659.1,1610.79 L661.1,1610.16 L663.1,1609.53 L665.1,1608.90 L667.1,1608.27 L669.1,1607.64 L671.1,1607.01 L673.1,1606.38 L675.1,1605.75 L677.1,1605.11 L679.1,1604.48 L681.1,1603.84 L683.1,1603.20 L685.1,1602.57 L687.1,1601.93 L689.1,1601.29 L691.1,1600.65 L693.1,1600.01 L695.1,1599.37 L697.1,1598.72 L699.1,1598.08 L701.1,1597.44 L703.1,1596.79 L705.1,1596.15 L707.1,1595.51 L709.1,1594.86 L711.1,1594.21 L713.1,1593.57 L715.1,1592.92 L717.1,1592.27 L719.1,1591.62 L721.1,1590.98 L723.1,1590.33 L725.1,1589.68 L727.1,1589.03 L729.1,1588.38 L731.1,1587.73 L733.1,1587.08 L735.1,1586.43 L737.1,1585.78 L739.1,1585.13 L741.1,1584.48 L743.1,1583.83 L745.1,1583.18 L747.1,1582.53 L749.1,1581.88 L751.1,1581.23 L753.1,1580.58 L755.1,1579.93 L757.1,1579.28 L759.1,1578.63 L761.1,1577.98 L763.1,1577.33 L765.1,1576.68 L767.1,1576.03 L769.1,1575.38 L771.1,1574.73 L773.1,1574.08 L775.1,1573.43 L777.1,1572.79 L779.1,1572.14 L781.1,1571.49 L783.1,1570.85 L785.1,1570.20 L787.1,1569.56 L789.1,1568.91 L791.1,1568.27 L793.1,1567.62 L795.1,1566.98 L797.1,1566.34 L799.1,1565.70 L801.1,1565.06 L803.1,1564.42 L805.1,1563.78 L807.1,1563.14 L809.1,1562.50 L811.1,1561.87 L813.1,1561.23 L815.1,1560.60 L817.1,1559.96 L819.1,1559.33 L821.1,1558.70 L823.1,1558.07 L825.1,1557.44 L827.1,1556.81 L829.1,1556.18 L831.1,1555.56 L833.1,1554.93 L834.5,1554.49" fill="none" stroke="#000" stroke-width="2.1" stroke-dasharray="8.2 4.1"/><path d="M107.1,1737.48 L109.1,1737.41 L111.1,1737.33 L113.1,1737.26 L115.1,1737.18 L117.1,1737.10 L119.1,1737.02 L121.1,1736.94 L123.1,1736.85 L125.1,1736.76 L127.1,1736.67 L129.1,1736.58 L131.1,1736.48 L133.1,1736.39 L135.1,1736.29 L137.1,1736.19 L139.1,1736.09 L141.1,1735.98 L143.1,1735.88 L145.1,1735.77 L147.1,1735.66 L149.1,1735.55 L151.1,1735.43 L153.1,1735.32 L155.1,1735.20 L157.1,1735.08 L159.1,1734.96 L161.1,1734.84 L163.1,1734.71 L165.1,1734.58 L167.1,1734.46 L169.1,1734.33 L171.1,1734.19 L173.1,1734.06 L175.1,1733.92 L177.1,1733.78 L179.1,1733.65 L181.1,1733.50 L183.1,1733.36 L185.1,1733.22 L187.1,1733.07 L189.1,1732.92 L191.1,1732.77 L193.1,1732.62 L195.1,1732.46 L197.1,1732.31 L199.1,1732.15 L201.1,1731.99 L203.1,1731.83 L205.1,1731.67 L207.1,1731.51 L209.1,1731.34 L211.1,1731.17 L213.1,1731.01 L215.1,1730.83 L217.1,1730.66 L219.1,1730.49 L221.1,1730.31 L223.1,1730.14 L225.1,1729.96 L227.1,1729.78 L229.1,1729.60 L231.1,1729.41 L233.1,1729.23 L235.1,1729.04 L237.1,1728.86 L239.1,1728.67 L241.1,1728.48 L243.1,1728.28 L245.1,1728.09 L247.1,1727.89 L249.1,1727.70 L251.1,1727.50 L253.1,1727.30 L255.1,1727.10 L257.1,1726.90 L259.1,1726.69 L261.1,1726.49 L263.1,1726.28 L265.1,1726.07 L267.1,1725.86 L269.1,1725.65 L271.1,1725.44 L273.1,1725.22 L275.1,1725.01 L277.1,1724.79 L279.1,1724.57 L281.1,1724.36 L283.1,1724.13 L285.1,1723.91 L287.1,1723.69 L289.1,1723.47 L291.1,1723.24 L293.1,1723.01 L295.1,1722.78 L297.1,1722.56 L299.1,1722.32 L301.1,1722.09 L303.1,1721.86 L305.1,1721.62 L307.1,1721.39 L309.1,1721.15 L311.1,1720.91 L313.1,1720.67 L315.1,1720.43 L317.1,1720.19 L319.1,1719.95 L321.1,1719.71 L323.1,1719.46 L325.1,1719.21 L327.1,1718.97 L329.1,1718.72 L331.1,1718.47 L333.1,1718.22 L335.1,1717.97 L337.1,1717.71 L339.1,1717.46 L341.1,1717.20 L343.1,1716.95 L345.1,1716.69 L347.1,1716.43 L349.1,1716.17 L351.1,1715.91 L353.1,1715.65 L355.1,1715.39 L357.1,1715.13 L359.1,1714.86 L361.1,1714.60 L363.1,1714.33 L365.1,1714.06 L367.1,1713.80 L369.1,1713.53 L371.1,1713.26 L373.1,1712.99 L375.1,1712.71 L377.1,1712.44 L379.1,1712.17 L381.1,1711.89 L383.1,1711.62 L385.1,1711.34 L387.1,1711.06 L389.1,1710.79 L391.1,1710.51 L393.1,1710.23 L395.1,1709.95 L397.1,1709.67 L399.1,1709.38 L401.1,1709.10 L403.1,1708.82 L405.1,1708.53 L407.1,1708.25 L409.1,1707.96 L411.1,1707.68 L413.1,1707.39 L415.1,1707.10 L417.1,1706.81 L419.1,1706.52 L421.1,1706.23 L423.1,1705.94 L425.1,1705.65 L427.1,1705.36 L429.1,1705.06 L431.1,1704.77 L433.1,1704.48 L435.1,1704.18 L437.1,1703.89 L439.1,1703.59 L441.1,1703.29 L443.1,1702.99 L445.1,1702.70 L447.1,1702.40 L449.1,1702.10 L451.1,1701.80 L453.1,1701.50 L455.1,1701.20 L457.1,1700.90 L459.1,1700.59 L461.1,1700.29 L463.1,1699.99 L465.1,1699.69 L467.1,1699.38 L469.1,1699.08 L471.1,1698.77 L473.1,1698.47 L475.1,1698.16 L477.1,1697.85 L479.1,1697.55 L481.1,1697.24 L483.1,1696.93 L485.1,1696.62 L487.1,1696.32 L489.1,1696.01 L491.1,1695.70 L493.1,1695.39 L495.1,1695.08 L497.1,1694.77 L499.1,1694.46 L501.1,1694.14 L503.1,1693.83 L505.1,1693.52 L507.1,1693.21 L509.1,1692.90 L511.1,1692.58 L513.1,1692.27 L515.1,1691.96 L517.1,1691.64 L519.1,1691.33 L521.1,1691.02 L523.1,1690.70 L525.1,1690.39 L527.1,1690.07 L529.1,1689.76 L531.1,1689.44 L533.1,1689.13 L535.1,1688.81 L537.1,1688.49 L539.1,1688.18 L541.1,1687.86 L543.1,1687.55 L545.1,1687.23 L547.1,1686.91 L549.1,1686.60 L551.1,1686.28 L553.1,1685.96 L555.1,1685.64 L557.1,1685.33 L559.1,1685.01 L561.1,1684.69 L563.1,1684.38 L565.1,1684.06 L567.1,1683.74 L569.1,1683.42 L571.1,1683.10 L573.1,1682.79 L575.1,1682.47 L577.1,1682.15 L579.1,1681.83 L581.1,1681.52 L583.1,1681.20 L585.1,1680.88 L587.1,1680.56 L589.1,1680.25 L591.1,1679.93 L593.1,1679.61 L595.1,1679.29 L597.1,1678.98 L599.1,1678.66 L601.1,1678.34 L603.1,1678.03 L605.1,1677.71 L607.1,1677.39 L609.1,1677.08 L611.1,1676.76 L613.1,1676.44 L615.1,1676.13 L617.1,1675.81 L619.1,1675.49 L621.1,1675.18 L623.1,1674.86 L625.1,1674.55 L627.1,1674.23 L629.1,1673.92 L631.1,1673.60 L633.1,1673.29 L635.1,1672.98 L637.1,1672.66 L639.1,1672.35 L641.1,1672.04 L643.1,1671.72 L645.1,1671.41 L647.1,1671.10 L649.1,1670.79 L651.1,1670.47 L653.1,1670.16 L655.1,1669.85 L657.1,1669.54 L659.1,1669.23 L661.1,1668.92 L663.1,1668.61 L665.1,1668.30 L667.1,1667.99 L669.1,1667.69 L671.1,1667.38 L673.1,1667.07 L675.1,1666.76 L677.1,1666.46 L679.1,1666.15 L681.1,1665.85 L683.1,1665.54 L685.1,1665.24 L687.1,1664.93 L689.1,1664.63 L691.1,1664.33 L693.1,1664.02 L695.1,1663.72 L697.1,1663.42 L699.1,1663.12 L701.1,1662.82 L703.1,1662.52 L705.1,1662.22 L707.1,1661.92 L709.1,1661.62 L711.1,1661.32 L713.1,1661.03 L715.1,1660.73 L717.1,1660.43 L719.1,1660.14 L721.1,1659.84 L723.1,1659.55 L725.1,1659.26 L727.1,1658.96 L729.1,1658.67 L731.1,1658.38 L733.1,1658.09 L735.1,1657.80 L737.1,1657.51 L739.1,1657.22 L741.1,1656.94 L743.1,1656.65 L745.1,1656.36 L747.1,1656.08 L749.1,1655.79 L751.1,1655.51 L753.1,1655.23 L755.1,1654.94 L757.1,1654.66 L759.1,1654.38 L761.1,1654.10 L763.1,1653.82 L765.1,1653.54 L767.1,1653.27 L769.1,1652.99 L771.1,1652.72 L773.1,1652.44 L775.1,1652.17 L777.1,1651.89 L779.1,1651.62 L781.1,1651.35 L783.1,1651.08 L785.1,1650.81 L787.1,1650.54 L789.1,1650.28 L791.1,1650.01 L793.1,1649.74 L795.1,1649.48 L797.1,1649.22 L799.1,1648.95 L801.1,1648.69 L803.1,1648.43 L805.1,1648.17 L807.1,1647.91 L809.1,1647.66 L811.1,1647.40 L813.1,1647.14 L815.1,1646.89 L817.1,1646.64 L819.1,1646.38 L821.1,1646.13 L823.1,1645.88 L825.1,1645.63 L827.1,1645.39 L829.1,1645.14 L831.1,1644.89 L833.1,1644.65 L834.2,1644.51" fill="none" stroke="#000" stroke-width="2.0"/><path d="M93.00,1344.25 V1871.25 H847.50" fill="none" stroke="#000" stroke-width="1.4" stroke-linejoin="round"/><line x1="84.50" y1="1737.00" x2="93.00" y2="1737.00" stroke="#000" stroke-width="1.5" stroke-linecap="round"/><text x="78.50" y="1748.00" text-anchor="end">1</text><line x1="84.50" y1="1573.42" x2="93.00" y2="1573.42" stroke="#000" stroke-width="1.5" stroke-linecap="round"/><text x="78.50" y="1584.42" text-anchor="end">2</text><line x1="84.50" y1="1477.73" x2="93.00" y2="1477.73" stroke="#000" stroke-width="1.5" stroke-linecap="round"/><text x="78.50" y="1488.73" text-anchor="end">3</text><line x1="84.50" y1="1357.17" x2="93.00" y2="1357.17" stroke="#000" stroke-width="1.5" stroke-linecap="round"/><text x="78.50" y="1368.17" text-anchor="end">5</text><line x1="107.00" y1="1871.25" x2="107.00" y2="1879.75" stroke="#000" stroke-width="1.5" stroke-linecap="round"/><text x="107.00" y="1906.25" text-anchor="middle">0</text><line x1="288.80" y1="1871.25" x2="288.80" y2="1879.75" stroke="#000" stroke-width="1.5" stroke-linecap="round"/><text x="288.80" y="1906.25" text-anchor="middle">0.5</text><line x1="470.60" y1="1871.25" x2="470.60" y2="1879.75" stroke="#000" stroke-width="1.5" stroke-linecap="round"/><text x="470.60" y="1906.25" text-anchor="middle">1</text><line x1="652.40" y1="1871.25" x2="652.40" y2="1879.75" stroke="#000" stroke-width="1.5" stroke-linecap="round"/><text x="652.40" y="1906.25" text-anchor="middle">1.5</text><line x1="834.20" y1="1871.25" x2="834.20" y2="1879.75" stroke="#000" stroke-width="1.5" stroke-linecap="round"/><text x="834.20" y="1906.25" text-anchor="middle">2</text><text x="470.60" y="1945.00" text-anchor="middle" font-size="30.3">Egg consumption, per day</text><text transform="translate(25.00,1607.70) rotate(-90)" text-anchor="middle" font-size="30.2">RR of cancer mortality</text></g>
<g><circle cx="1162.9" cy="1581.6" r="30.5" fill="none" stroke="#bbbbbb" stroke-width="1.55"/><circle cx="1232.8" cy="1557.6" r="32.5" fill="none" stroke="#bbbbbb" stroke-width="1.55"/><circle cx="1309.0" cy="1553.0" r="25.5" fill="none" stroke="#bbbbbb" stroke-width="1.55"/><circle cx="1299.2" cy="1581.3" r="11.0" fill="none" stroke="#bbbbbb" stroke-width="1.55"/><circle cx="1227.2" cy="1607.5" r="11.9" fill="none" stroke="#bbbbbb" stroke-width="1.55"/><circle cx="1149.0" cy="1628.3" r="11.9" fill="none" stroke="#bbbbbb" stroke-width="1.55"/><circle cx="1445.9" cy="1508.5" r="24.7" fill="none" stroke="#bbbbbb" stroke-width="1.55"/><circle cx="1507.2" cy="1512.6" r="5.7" fill="none" stroke="#bbbbbb" stroke-width="1.55"/><circle cx="1428.5" cy="1552.9" r="5.7" fill="none" stroke="#bbbbbb" stroke-width="1.55"/><circle cx="1407.7" cy="1582.0" r="10.4" fill="none" stroke="#bbbbbb" stroke-width="1.55"/><circle cx="1341.0" cy="1602.0" r="5.7" fill="none" stroke="#bbbbbb" stroke-width="1.55"/><circle cx="1673.3" cy="1521.5" r="5.2" fill="none" stroke="#bbbbbb" stroke-width="1.55"/><circle cx="1053.7" cy="1596.8" r="5.1" fill="#d0d0d0" stroke="#888888" stroke-width="1.4"/><circle cx="1079.6" cy="1599.0" r="5.1" fill="#d0d0d0" stroke="#888888" stroke-width="1.4"/><circle cx="1239.9" cy="1596.0" r="5.1" fill="#d0d0d0" stroke="#888888" stroke-width="1.4"/><line x1="1034.0" y1="1597.00" x2="1755.0" y2="1597.00" stroke="#5e5e5e" stroke-width="4.9" stroke-dasharray="1.6 2.77"/><path d="M1046.8,1599.60 L1048.8,1599.42 L1050.8,1599.25 L1052.8,1599.09 L1054.8,1598.94 L1056.8,1598.79 L1058.8,1598.66 L1060.8,1598.53 L1062.8,1598.42 L1064.8,1598.31 L1066.8,1598.20 L1068.8,1598.11 L1070.8,1598.03 L1072.8,1597.95 L1074.8,1597.88 L1076.8,1597.81 L1078.8,1597.76 L1080.8,1597.71 L1082.8,1597.66 L1084.8,1597.63 L1086.8,1597.60 L1088.8,1597.57 L1090.8,1597.55 L1092.8,1597.54 L1094.8,1597.54 L1096.8,1597.53 L1098.8,1597.54 L1100.8,1597.55 L1102.8,1597.56 L1104.8,1597.58 L1106.8,1597.61 L1108.8,1597.64 L1110.8,1597.67 L1112.8,1597.71 L1114.8,1597.75 L1116.8,1597.79 L1118.8,1597.84 L1120.8,1597.89 L1122.8,1597.95 L1124.8,1598.01 L1126.8,1598.07 L1128.8,1598.14 L1130.8,1598.20 L1132.8,1598.27 L1134.8,1598.35 L1136.8,1598.42 L1138.8,1598.50 L1140.8,1598.58 L1142.8,1598.66 L1144.8,1598.74 L1146.8,1598.82 L1148.8,1598.91 L1150.8,1598.99 L1152.8,1599.08 L1154.8,1599.17 L1156.8,1599.25 L1158.8,1599.34 L1160.8,1599.43 L1162.8,1599.52 L1164.8,1599.61 L1166.8,1599.69 L1168.8,1599.78 L1170.8,1599.87 L1172.8,1599.96 L1174.8,1600.04 L1176.8,1600.13 L1178.8,1600.21 L1180.8,1600.29 L1182.8,1600.37 L1184.8,1600.45 L1186.8,1600.53 L1188.8,1600.61 L1190.8,1600.68 L1192.8,1600.75 L1194.8,1600.82 L1196.8,1600.89 L1198.8,1600.96 L1200.8,1601.02 L1202.8,1601.08 L1204.8,1601.13 L1206.8,1601.19 L1208.8,1601.24 L1210.8,1601.29 L1212.8,1601.33 L1214.8,1601.37 L1216.8,1601.41 L1218.8,1601.44 L1220.8,1601.47 L1222.8,1601.49 L1224.8,1601.51 L1226.8,1601.53 L1228.8,1601.54 L1230.8,1601.55 L1232.8,1601.55 L1234.8,1601.55 L1236.8,1601.54 L1238.8,1601.52 L1240.8,1601.51 L1242.8,1601.48 L1244.8,1601.45 L1246.8,1601.42 L1248.8,1601.37 L1250.8,1601.33 L1252.8,1601.27 L1254.8,1601.21 L1256.8,1601.15 L1258.8,1601.07 L1260.8,1600.99 L1262.8,1600.91 L1264.8,1600.81 L1266.8,1600.71 L1268.8,1600.60 L1270.8,1600.49 L1272.8,1600.36 L1274.8,1600.23 L1276.8,1600.09 L1278.8,1599.95 L1280.8,1599.79 L1282.8,1599.63 L1284.8,1599.46 L1286.8,1599.28 L1288.8,1599.09 L1290.8,1598.89 L1292.8,1598.69 L1294.8,1598.47 L1296.8,1598.25 L1298.8,1598.03 L1300.8,1597.79 L1302.8,1597.55 L1304.8,1597.30 L1306.8,1597.04 L1308.8,1596.77 L1310.8,1596.50 L1312.8,1596.22 L1314.8,1595.93 L1316.8,1595.64 L1318.8,1595.34 L1320.8,1595.03 L1322.8,1594.72 L1324.8,1594.40 L1326.8,1594.08 L1328.8,1593.74 L1330.8,1593.41 L1332.8,1593.06 L1334.8,1592.71 L1336.8,1592.36 L1338.8,1592.00 L1340.8,1591.63 L1342.8,1591.26 L1344.8,1590.88 L1346.8,1590.50 L1348.8,1590.11 L1350.8,1589.72 L1352.8,1589.33 L1354.8,1588.93 L1356.8,1588.52 L1358.8,1588.11 L1360.8,1587.69 L1362.8,1587.28 L1364.8,1586.85 L1366.8,1586.43 L1368.8,1585.99 L1370.8,1585.56 L1372.8,1585.12 L1374.8,1584.68 L1376.8,1584.23 L1378.8,1583.78 L1380.8,1583.33 L1382.8,1582.88 L1384.8,1582.42 L1386.8,1581.96 L1388.8,1581.49 L1390.8,1581.03 L1392.8,1580.56 L1394.8,1580.08 L1396.8,1579.61 L1398.8,1579.13 L1400.8,1578.65 L1402.8,1578.17 L1404.8,1577.69 L1406.8,1577.20 L1408.8,1576.72 L1410.8,1576.23 L1412.8,1575.74 L1414.8,1575.25 L1416.8,1574.76 L1418.8,1574.26 L1420.8,1573.77 L1422.8,1573.27 L1424.8,1572.78 L1426.8,1572.28 L1428.8,1571.78 L1430.8,1571.28 L1432.8,1570.78 L1434.8,1570.29 L1436.8,1569.79 L1438.8,1569.29 L1440.8,1568.79 L1442.8,1568.29 L1444.8,1567.79 L1446.8,1567.29 L1448.8,1566.79 L1450.8,1566.29 L1452.8,1565.80 L1454.8,1565.30 L1456.8,1564.81 L1458.8,1564.31 L1460.8,1563.82 L1462.8,1563.33 L1464.8,1562.84 L1466.8,1562.35 L1468.8,1561.86 L1470.8,1561.37 L1472.8,1560.89 L1474.8,1560.41 L1476.8,1559.93 L1478.8,1559.45 L1480.8,1558.97 L1482.8,1558.50 L1484.8,1558.03 L1486.8,1557.56 L1488.8,1557.09 L1490.8,1556.63 L1492.8,1556.17 L1494.8,1555.71 L1496.8,1555.25 L1498.8,1554.79 L1500.8,1554.34 L1502.8,1553.89 L1504.8,1553.44 L1506.8,1552.99 L1508.8,1552.55 L1510.8,1552.11 L1512.8,1551.67 L1514.8,1551.23 L1516.8,1550.79 L1518.8,1550.36 L1520.8,1549.93 L1522.8,1549.50 L1524.8,1549.07 L1526.8,1548.64 L1528.8,1548.22 L1530.8,1547.80 L1532.8,1547.38 L1534.8,1546.96 L1536.8,1546.54 L1538.8,1546.13 L1540.8,1545.71 L1542.8,1545.30 L1544.8,1544.90 L1546.8,1544.49 L1548.8,1544.08 L1550.8,1543.68 L1552.8,1543.28 L1554.8,1542.88 L1556.8,1542.48 L1558.8,1542.09 L1560.8,1541.69 L1562.8,1541.30 L1564.8,1540.91 L1566.8,1540.52 L1568.8,1540.13 L1570.8,1539.75 L1572.8,1539.36 L1574.8,1538.98 L1576.8,1538.60 L1578.8,1538.22 L1580.8,1537.84 L1582.8,1537.47 L1584.8,1537.09 L1586.8,1536.72 L1588.8,1536.35 L1590.8,1535.98 L1592.8,1535.61 L1594.8,1535.24 L1596.8,1534.87 L1598.8,1534.51 L1600.8,1534.15 L1602.8,1533.78 L1604.8,1533.42 L1606.8,1533.07 L1608.8,1532.71 L1610.8,1532.35 L1612.8,1532.00 L1614.8,1531.64 L1616.8,1531.29 L1618.8,1530.94 L1620.8,1530.59 L1622.8,1530.24 L1624.8,1529.90 L1626.8,1529.55 L1628.8,1529.20 L1630.8,1528.86 L1632.8,1528.52 L1634.8,1528.18 L1636.8,1527.84 L1638.8,1527.50 L1640.8,1527.16 L1642.8,1526.82 L1644.8,1526.49 L1646.8,1526.15 L1648.8,1525.82 L1650.8,1525.49 L1652.8,1525.15 L1654.8,1524.82 L1656.8,1524.49 L1658.8,1524.17 L1660.8,1523.84 L1662.8,1523.51 L1664.8,1523.18 L1666.8,1522.86 L1668.8,1522.54 L1670.8,1522.21 L1672.8,1521.89 L1674.8,1521.57 L1676.8,1521.25 L1678.8,1520.93 L1680.8,1520.61 L1682.8,1520.29 L1684.8,1519.97 L1686.8,1519.65 L1688.8,1519.34 L1690.8,1519.02 L1692.8,1518.71 L1694.8,1518.39 L1696.8,1518.08 L1698.8,1517.77 L1700.8,1517.45 L1702.8,1517.14 L1704.8,1516.83 L1706.8,1516.52 L1708.8,1516.21 L1710.8,1515.90 L1712.8,1515.59 L1714.8,1515.28 L1716.8,1514.97 L1718.8,1514.67 L1720.8,1514.36 L1722.8,1514.05 L1724.8,1513.75 L1726.8,1513.44 L1728.8,1513.14 L1730.8,1512.83 L1732.8,1512.53 L1734.8,1512.22 L1736.8,1511.92 L1738.8,1511.61 L1740.8,1511.31 L1742.6,1511.04" fill="none" stroke="#000" stroke-width="2.1" stroke-dasharray="8.2 4.1"/><path d="M1046.8,1598.05 L1048.8,1597.52 L1050.8,1597.00 L1052.8,1596.46 L1054.8,1595.93 L1056.8,1595.40 L1058.8,1594.86 L1060.8,1594.32 L1062.8,1593.77 L1064.8,1593.23 L1066.8,1592.68 L1068.8,1592.13 L1070.8,1591.58 L1072.8,1591.02 L1074.8,1590.47 L1076.8,1589.91 L1078.8,1589.35 L1080.8,1588.79 L1082.8,1588.22 L1084.8,1587.65 L1086.8,1587.09 L1088.8,1586.52 L1090.8,1585.94 L1092.8,1585.37 L1094.8,1584.80 L1096.8,1584.22 L1098.8,1583.64 L1100.8,1583.06 L1102.8,1582.48 L1104.8,1581.89 L1106.8,1581.31 L1108.8,1580.72 L1110.8,1580.13 L1112.8,1579.54 L1114.8,1578.95 L1116.8,1578.36 L1118.8,1577.77 L1120.8,1577.17 L1122.8,1576.57 L1124.8,1575.98 L1126.8,1575.38 L1128.8,1574.78 L1130.8,1574.18 L1132.8,1573.58 L1134.8,1572.97 L1136.8,1572.37 L1138.8,1571.76 L1140.8,1571.16 L1142.8,1570.55 L1144.8,1569.94 L1146.8,1569.34 L1148.8,1568.73 L1150.8,1568.12 L1152.8,1567.51 L1154.8,1566.89 L1156.8,1566.28 L1158.8,1565.67 L1160.8,1565.06 L1162.8,1564.44 L1164.8,1563.83 L1166.8,1563.22 L1168.8,1562.60 L1170.8,1561.98 L1172.8,1561.37 L1174.8,1560.75 L1176.8,1560.14 L1178.8,1559.52 L1180.8,1558.90 L1182.8,1558.29 L1184.8,1557.67 L1186.8,1557.05 L1188.8,1556.44 L1190.8,1555.82 L1192.8,1555.20 L1194.8,1554.58 L1196.8,1553.97 L1198.8,1553.35 L1200.8,1552.73 L1202.8,1552.12 L1204.8,1551.50 L1206.8,1550.88 L1208.8,1550.27 L1210.8,1549.65 L1212.8,1549.04 L1214.8,1548.42 L1216.8,1547.81 L1218.8,1547.19 L1220.8,1546.58 L1222.8,1545.97 L1224.8,1545.36 L1226.8,1544.75 L1228.8,1544.13 L1230.8,1543.52 L1232.8,1542.92 L1234.8,1542.31 L1236.8,1541.70 L1238.8,1541.09 L1240.8,1540.49 L1242.8,1539.88 L1244.8,1539.28 L1246.8,1538.67 L1248.8,1538.07 L1250.8,1537.47 L1252.8,1536.87 L1254.8,1536.27 L1256.8,1535.67 L1258.8,1535.08 L1260.8,1534.48 L1262.8,1533.89 L1264.8,1533.29 L1266.8,1532.70 L1268.8,1532.11 L1270.8,1531.52 L1272.8,1530.94 L1274.8,1530.35 L1276.8,1529.77 L1278.8,1529.18 L1280.8,1528.60 L1282.8,1528.02 L1284.8,1527.44 L1286.8,1526.86 L1288.8,1526.28 L1290.8,1525.70 L1292.8,1525.13 L1294.8,1524.55 L1296.8,1523.98 L1298.8,1523.40 L1300.8,1522.83 L1302.8,1522.26 L1304.8,1521.69 L1306.8,1521.12 L1308.8,1520.55 L1310.8,1519.98 L1312.8,1519.41 L1314.8,1518.84 L1316.8,1518.27 L1318.8,1517.70 L1320.8,1517.14 L1322.8,1516.57 L1324.8,1516.00 L1326.8,1515.44 L1328.8,1514.87 L1330.8,1514.31 L1332.8,1513.74 L1334.8,1513.18 L1336.8,1512.61 L1338.8,1512.05 L1340.8,1511.48 L1342.8,1510.92 L1344.8,1510.35 L1346.8,1509.79 L1348.8,1509.22 L1350.8,1508.65 L1352.8,1508.09 L1354.8,1507.52 L1356.8,1506.96 L1358.8,1506.39 L1360.8,1505.82 L1362.8,1505.26 L1364.8,1504.69 L1366.8,1504.12 L1368.8,1503.55 L1370.8,1502.98 L1372.8,1502.41 L1374.8,1501.84 L1376.8,1501.27 L1378.8,1500.70 L1380.8,1500.13 L1382.8,1499.56 L1384.8,1498.98 L1386.8,1498.41 L1388.8,1497.83 L1390.8,1497.26 L1392.8,1496.68 L1394.8,1496.10 L1396.8,1495.52 L1398.8,1494.94 L1400.8,1494.36 L1402.8,1493.78 L1404.8,1493.19 L1406.8,1492.61 L1408.8,1492.02 L1410.8,1491.44 L1412.8,1490.85 L1414.8,1490.26 L1416.8,1489.66 L1418.8,1489.07 L1420.8,1488.48 L1422.8,1487.88 L1424.8,1487.28 L1426.8,1486.68 L1428.8,1486.08 L1430.8,1485.48 L1432.8,1484.88 L1434.8,1484.27 L1436.8,1483.66 L1438.8,1483.06 L1440.8,1482.44 L1442.8,1481.83 L1444.8,1481.22 L1446.8,1480.60 L1448.8,1479.98 L1450.8,1479.36 L1452.8,1478.74 L1454.8,1478.11 L1456.8,1477.49 L1458.8,1476.86 L1460.8,1476.23 L1462.8,1475.60 L1464.8,1474.96 L1466.8,1474.33 L1468.8,1473.69 L1470.8,1473.05 L1472.8,1472.41 L1474.8,1471.77 L1476.8,1471.12 L1478.8,1470.48 L1480.8,1469.83 L1482.8,1469.18 L1484.8,1468.53 L1486.8,1467.88 L1488.8,1467.22 L1490.8,1466.57 L1492.8,1465.91 L1494.8,1465.25 L1496.8,1464.59 L1498.8,1463.93 L1500.8,1463.27 L1502.8,1462.60 L1504.8,1461.94 L1506.8,1461.27 L1508.8,1460.60 L1510.8,1459.93 L1512.8,1459.26 L1514.8,1458.59 L1516.8,1457.91 L1518.8,1457.24 L1520.8,1456.56 L1522.8,1455.88 L1524.8,1455.21 L1526.8,1454.52 L1528.8,1453.84 L1530.8,1453.16 L1532.8,1452.48 L1534.8,1451.79 L1536.8,1451.11 L1538.8,1450.42 L1540.8,1449.73 L1542.8,1449.04 L1544.8,1448.35 L1546.8,1447.66 L1548.8,1446.97 L1550.8,1446.27 L1552.8,1445.58 L1554.8,1444.88 L1556.8,1444.19 L1558.8,1443.49 L1560.8,1442.79 L1562.8,1442.09 L1564.8,1441.39 L1566.8,1440.69 L1568.8,1439.99 L1570.8,1439.29 L1572.8,1438.59 L1574.8,1437.88 L1576.8,1437.18 L1578.8,1436.47 L1580.8,1435.77 L1582.8,1435.06 L1584.8,1434.35 L1586.8,1433.64 L1588.8,1432.94 L1590.8,1432.23 L1592.8,1431.52 L1594.8,1430.81 L1596.8,1430.09 L1598.8,1429.38 L1600.8,1428.67 L1602.8,1427.96 L1604.8,1427.25 L1606.8,1426.53 L1608.8,1425.82 L1610.8,1425.10 L1612.8,1424.39 L1614.8,1423.68 L1616.8,1422.96 L1618.8,1422.25 L1620.8,1421.54 L1622.8,1420.82 L1624.8,1420.11 L1626.8,1419.40 L1628.8,1418.69 L1630.8,1417.98 L1632.8,1417.27 L1634.8,1416.56 L1636.8,1415.85 L1638.8,1415.14 L1640.8,1414.44 L1642.8,1413.73 L1644.8,1413.03 L1646.8,1412.32 L1648.8,1411.62 L1650.8,1410.92 L1652.8,1410.22 L1654.8,1409.53 L1656.8,1408.83 L1658.8,1408.14 L1660.8,1407.45 L1662.8,1406.76 L1664.8,1406.07 L1666.8,1405.39 L1668.8,1404.71 L1670.8,1404.03 L1672.8,1403.35 L1674.8,1402.67 L1676.8,1402.00 L1678.8,1401.33 L1680.8,1400.66 L1682.8,1400.00 L1684.8,1399.33 L1686.8,1398.67 L1688.8,1398.02 L1690.8,1397.37 L1692.8,1396.72 L1694.8,1396.07 L1696.8,1395.43 L1698.8,1394.79 L1700.8,1394.15 L1702.8,1393.52 L1704.8,1392.89 L1706.8,1392.26 L1708.8,1391.64 L1710.8,1391.03 L1712.8,1390.41 L1714.8,1389.80 L1716.8,1389.20 L1718.8,1388.60 L1720.8,1388.00 L1722.8,1387.41 L1724.8,1386.82 L1726.8,1386.24 L1728.8,1385.66 L1730.8,1385.09 L1732.8,1384.52 L1734.8,1383.96 L1736.8,1383.40 L1738.8,1382.84 L1740.8,1382.29 L1742.0,1381.97" fill="none" stroke="#000" stroke-width="2.1" stroke-dasharray="8.2 4.1"/><path d="M1046.8,1598.35 L1048.8,1598.07 L1050.8,1597.79 L1052.8,1597.52 L1054.8,1597.24 L1056.8,1596.97 L1058.8,1596.69 L1060.8,1596.42 L1062.8,1596.15 L1064.8,1595.88 L1066.8,1595.61 L1068.8,1595.35 L1070.8,1595.08 L1072.8,1594.81 L1074.8,1594.55 L1076.8,1594.29 L1078.8,1594.02 L1080.8,1593.76 L1082.8,1593.50 L1084.8,1593.24 L1086.8,1592.98 L1088.8,1592.72 L1090.8,1592.46 L1092.8,1592.20 L1094.8,1591.94 L1096.8,1591.69 L1098.8,1591.43 L1100.8,1591.17 L1102.8,1590.92 L1104.8,1590.66 L1106.8,1590.40 L1108.8,1590.15 L1110.8,1589.89 L1112.8,1589.64 L1114.8,1589.38 L1116.8,1589.13 L1118.8,1588.87 L1120.8,1588.62 L1122.8,1588.36 L1124.8,1588.11 L1126.8,1587.85 L1128.8,1587.59 L1130.8,1587.34 L1132.8,1587.08 L1134.8,1586.83 L1136.8,1586.57 L1138.8,1586.31 L1140.8,1586.05 L1142.8,1585.80 L1144.8,1585.54 L1146.8,1585.28 L1148.8,1585.02 L1150.8,1584.76 L1152.8,1584.50 L1154.8,1584.23 L1156.8,1583.97 L1158.8,1583.71 L1160.8,1583.44 L1162.8,1583.18 L1164.8,1582.91 L1166.8,1582.64 L1168.8,1582.38 L1170.8,1582.11 L1172.8,1581.84 L1174.8,1581.56 L1176.8,1581.29 L1178.8,1581.02 L1180.8,1580.74 L1182.8,1580.47 L1184.8,1580.19 L1186.8,1579.91 L1188.8,1579.63 L1190.8,1579.35 L1192.8,1579.06 L1194.8,1578.78 L1196.8,1578.49 L1198.8,1578.20 L1200.8,1577.91 L1202.8,1577.62 L1204.8,1577.33 L1206.8,1577.03 L1208.8,1576.73 L1210.8,1576.43 L1212.8,1576.13 L1214.8,1575.83 L1216.8,1575.53 L1218.8,1575.22 L1220.8,1574.91 L1222.8,1574.60 L1224.8,1574.29 L1226.8,1573.97 L1228.8,1573.65 L1230.8,1573.33 L1232.8,1573.01 L1234.8,1572.69 L1236.8,1572.36 L1238.8,1572.03 L1240.8,1571.70 L1242.8,1571.36 L1244.8,1571.03 L1246.8,1570.69 L1248.8,1570.35 L1250.8,1570.00 L1252.8,1569.65 L1254.8,1569.30 L1256.8,1568.95 L1258.8,1568.59 L1260.8,1568.24 L1262.8,1567.87 L1264.8,1567.51 L1266.8,1567.14 L1268.8,1566.77 L1270.8,1566.40 L1272.8,1566.02 L1274.8,1565.64 L1276.8,1565.26 L1278.8,1564.87 L1280.8,1564.48 L1282.8,1564.09 L1284.8,1563.70 L1286.8,1563.30 L1288.8,1562.90 L1290.8,1562.50 L1292.8,1562.09 L1294.8,1561.68 L1296.8,1561.27 L1298.8,1560.86 L1300.8,1560.44 L1302.8,1560.03 L1304.8,1559.60 L1306.8,1559.18 L1308.8,1558.75 L1310.8,1558.32 L1312.8,1557.89 L1314.8,1557.46 L1316.8,1557.02 L1318.8,1556.59 L1320.8,1556.14 L1322.8,1555.70 L1324.8,1555.26 L1326.8,1554.81 L1328.8,1554.36 L1330.8,1553.91 L1332.8,1553.45 L1334.8,1552.99 L1336.8,1552.54 L1338.8,1552.07 L1340.8,1551.61 L1342.8,1551.15 L1344.8,1550.68 L1346.8,1550.21 L1348.8,1549.74 L1350.8,1549.27 L1352.8,1548.79 L1354.8,1548.31 L1356.8,1547.83 L1358.8,1547.35 L1360.8,1546.87 L1362.8,1546.39 L1364.8,1545.90 L1366.8,1545.41 L1368.8,1544.92 L1370.8,1544.43 L1372.8,1543.94 L1374.8,1543.44 L1376.8,1542.95 L1378.8,1542.45 L1380.8,1541.95 L1382.8,1541.45 L1384.8,1540.95 L1386.8,1540.44 L1388.8,1539.94 L1390.8,1539.43 L1392.8,1538.92 L1394.8,1538.41 L1396.8,1537.90 L1398.8,1537.39 L1400.8,1536.87 L1402.8,1536.36 L1404.8,1535.84 L1406.8,1535.33 L1408.8,1534.81 L1410.8,1534.29 L1412.8,1533.77 L1414.8,1533.24 L1416.8,1532.72 L1418.8,1532.20 L1420.8,1531.67 L1422.8,1531.14 L1424.8,1530.61 L1426.8,1530.09 L1428.8,1529.56 L1430.8,1529.03 L1432.8,1528.49 L1434.8,1527.96 L1436.8,1527.43 L1438.8,1526.89 L1440.8,1526.36 L1442.8,1525.82 L1444.8,1525.28 L1446.8,1524.74 L1448.8,1524.21 L1450.8,1523.67 L1452.8,1523.12 L1454.8,1522.58 L1456.8,1522.04 L1458.8,1521.50 L1460.8,1520.95 L1462.8,1520.41 L1464.8,1519.86 L1466.8,1519.32 L1468.8,1518.77 L1470.8,1518.23 L1472.8,1517.68 L1474.8,1517.13 L1476.8,1516.58 L1478.8,1516.03 L1480.8,1515.48 L1482.8,1514.93 L1484.8,1514.38 L1486.8,1513.83 L1488.8,1513.28 L1490.8,1512.73 L1492.8,1512.18 L1494.8,1511.62 L1496.8,1511.07 L1498.8,1510.52 L1500.8,1509.96 L1502.8,1509.41 L1504.8,1508.85 L1506.8,1508.30 L1508.8,1507.74 L1510.8,1507.19 L1512.8,1506.63 L1514.8,1506.08 L1516.8,1505.52 L1518.8,1504.97 L1520.8,1504.41 L1522.8,1503.86 L1524.8,1503.30 L1526.8,1502.74 L1528.8,1502.19 L1530.8,1501.63 L1532.8,1501.07 L1534.8,1500.52 L1536.8,1499.96 L1538.8,1499.41 L1540.8,1498.85 L1542.8,1498.29 L1544.8,1497.74 L1546.8,1497.18 L1548.8,1496.63 L1550.8,1496.07 L1552.8,1495.52 L1554.8,1494.96 L1556.8,1494.41 L1558.8,1493.85 L1560.8,1493.30 L1562.8,1492.74 L1564.8,1492.19 L1566.8,1491.64 L1568.8,1491.09 L1570.8,1490.53 L1572.8,1489.98 L1574.8,1489.43 L1576.8,1488.88 L1578.8,1488.33 L1580.8,1487.78 L1582.8,1487.23 L1584.8,1486.68 L1586.8,1486.13 L1588.8,1485.58 L1590.8,1485.03 L1592.8,1484.48 L1594.8,1483.94 L1596.8,1483.39 L1598.8,1482.85 L1600.8,1482.30 L1602.8,1481.76 L1604.8,1481.21 L1606.8,1480.67 L1608.8,1480.13 L1610.8,1479.59 L1612.8,1479.05 L1614.8,1478.51 L1616.8,1477.97 L1618.8,1477.43 L1620.8,1476.90 L1622.8,1476.36 L1624.8,1475.83 L1626.8,1475.29 L1628.8,1474.76 L1630.8,1474.23 L1632.8,1473.69 L1634.8,1473.16 L1636.8,1472.63 L1638.8,1472.11 L1640.8,1471.58 L1642.8,1471.05 L1644.8,1470.53 L1646.8,1470.00 L1648.8,1469.48 L1650.8,1468.96 L1652.8,1468.44 L1654.8,1467.92 L1656.8,1467.40 L1658.8,1466.88 L1660.8,1466.37 L1662.8,1465.85 L1664.8,1465.34 L1666.8,1464.83 L1668.8,1464.32 L1670.8,1463.81 L1672.8,1463.30 L1674.8,1462.80 L1676.8,1462.29 L1678.8,1461.79 L1680.8,1461.29 L1682.8,1460.79 L1684.8,1460.29 L1686.8,1459.79 L1688.8,1459.29 L1690.8,1458.80 L1692.8,1458.31 L1694.8,1457.81 L1696.8,1457.32 L1698.8,1456.84 L1700.8,1456.35 L1702.8,1455.87 L1704.8,1455.38 L1706.8,1454.90 L1708.8,1454.42 L1710.8,1453.94 L1712.8,1453.47 L1714.8,1452.99 L1716.8,1452.52 L1718.8,1452.05 L1720.8,1451.58 L1722.8,1451.11 L1724.8,1450.65 L1726.8,1450.19 L1728.8,1449.72 L1730.8,1449.26 L1732.8,1448.81 L1734.8,1448.35 L1736.8,1447.90 L1738.8,1447.45 L1740.8,1447.00 L1742.6,1446.59" fill="none" stroke="#000" stroke-width="2.0"/><path d="M1030.50,1343.75 V1870.75 H1756.50" fill="none" stroke="#000" stroke-width="1.4" stroke-linejoin="round"/><line x1="1022.00" y1="1778.19" x2="1030.50" y2="1778.19" stroke="#000" stroke-width="1.5" stroke-linecap="round"/><text x="1016.00" y="1789.19" text-anchor="end">0.7</text><line x1="1022.00" y1="1597.00" x2="1030.50" y2="1597.00" stroke="#000" stroke-width="1.5" stroke-linecap="round"/><text x="1016.00" y="1608.00" text-anchor="end">1</text><line x1="1022.00" y1="1463.72" x2="1030.50" y2="1463.72" stroke="#000" stroke-width="1.5" stroke-linecap="round"/><text x="1016.00" y="1474.72" text-anchor="end">1.3</text><line x1="1022.00" y1="1358.24" x2="1030.50" y2="1358.24" stroke="#000" stroke-width="1.5" stroke-linecap="round"/><text x="1016.00" y="1369.24" text-anchor="end">1.6</text><line x1="1043.50" y1="1870.75" x2="1043.50" y2="1879.25" stroke="#000" stroke-width="1.5" stroke-linecap="round"/><text x="1043.50" y="1905.75" text-anchor="middle">100</text><line x1="1218.50" y1="1870.75" x2="1218.50" y2="1879.25" stroke="#000" stroke-width="1.5" stroke-linecap="round"/><text x="1218.50" y="1905.75" text-anchor="middle">200</text><line x1="1393.50" y1="1870.75" x2="1393.50" y2="1879.25" stroke="#000" stroke-width="1.5" stroke-linecap="round"/><text x="1393.50" y="1905.75" text-anchor="middle">300</text><line x1="1568.50" y1="1870.75" x2="1568.50" y2="1879.25" stroke="#000" stroke-width="1.5" stroke-linecap="round"/><text x="1568.50" y="1905.75" text-anchor="middle">400</text><line x1="1743.50" y1="1870.75" x2="1743.50" y2="1879.25" stroke="#000" stroke-width="1.5" stroke-linecap="round"/><text x="1743.50" y="1905.75" text-anchor="middle">500</text><text x="1393.50" y="1946.50" text-anchor="middle" font-size="30.3">Cholesterol intake, mg/day</text><text transform="translate(950.50,1614.10) rotate(-90)" text-anchor="middle" font-size="30.2">RR of cancer mortality</text></g>
</g></svg></body></html>
